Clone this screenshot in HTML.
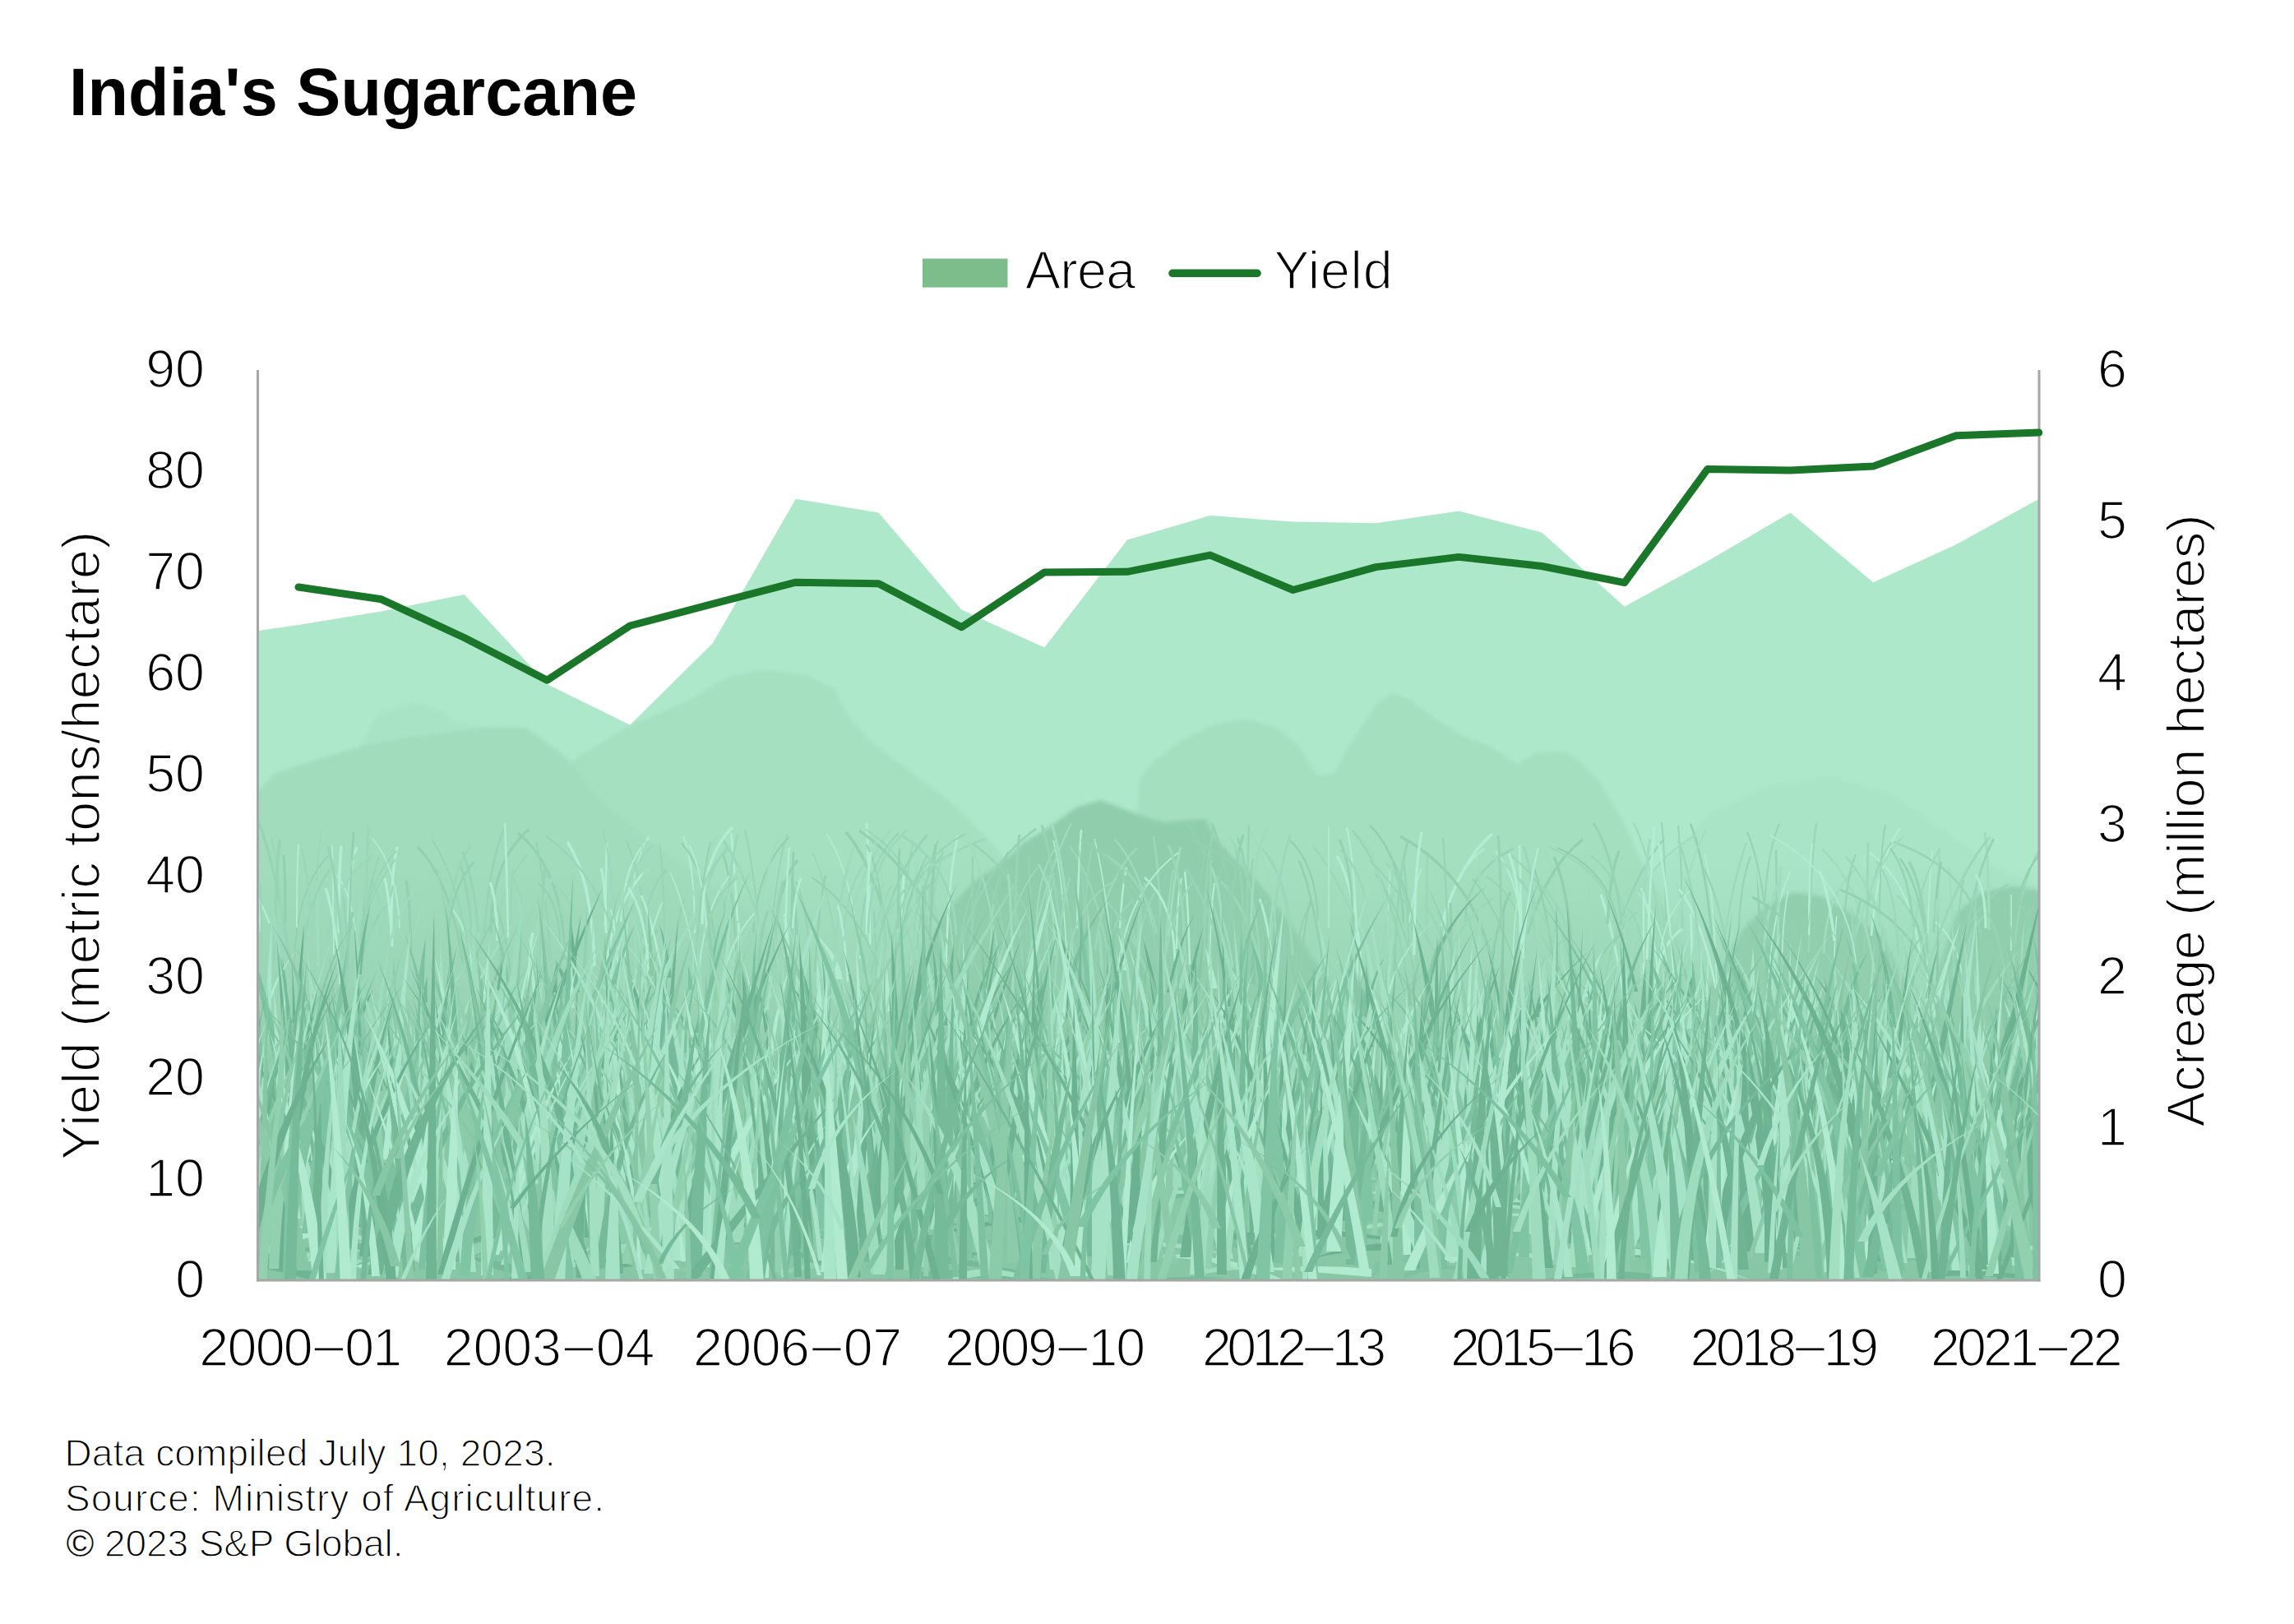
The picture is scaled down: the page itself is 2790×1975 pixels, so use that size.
<!DOCTYPE html>
<html lang="en"><head><meta charset="utf-8"><title>India's Sugarcane</title>
<style>html,body{margin:0;padding:0;background:#fff}body{width:2790px;height:1975px;overflow:hidden}svg{display:block}text{font-family:"Liberation Sans",sans-serif;fill:#000}.t{stroke:#fff;stroke-width:1.7px}.f{stroke:#fff;stroke-width:1.3px}</style></head><body>
<svg width="2790" height="1975" viewBox="0 0 2790 1975">
<defs><clipPath id="ac"><polygon points="314.0,1557.0 314.0,767.0 363.0,760.0 463.8,743.4 564.6,723.1 665.4,831.9 766.2,881.7 867.0,782.1 967.8,606.8 1068.6,623.4 1169.4,741.5 1270.2,787.6 1371.0,656.6 1471.8,627.1 1572.6,634.5 1673.4,636.3 1774.2,621.6 1875.0,647.4 1975.8,737.8 2076.6,682.5 2177.4,623.4 2278.2,708.3 2379.0,662.2 2479.8,606.8 2481.0,606.8 2481.0,1557.0"/></clipPath>
<linearGradient id="gg" x1="0" y1="0" x2="0" y2="1"><stop offset="0" stop-color="#94d1b1" stop-opacity="0"/><stop offset="0.28" stop-color="#92cfaf" stop-opacity="0.5"/><stop offset="0.55" stop-color="#8ccaa9" stop-opacity="0.9"/><stop offset="1" stop-color="#88c7a6" stop-opacity="1"/></linearGradient>
<filter id="b6" x="-5%" y="-5%" width="110%" height="110%"><feGaussianBlur stdDeviation="5"/></filter>
<filter id="b3" x="-5%" y="-5%" width="110%" height="110%"><feGaussianBlur stdDeviation="2.5"/></filter>
</defs>
<rect width="2790" height="1975" fill="#fff"/>
<g clip-path="url(#ac)">
<rect x="314" y="450" width="2168" height="1107" fill="#aee8cb"/>
<polygon points="1960.0,1200.0 1990.0,1085.0 2023.0,1052.0 2081.0,989.0 2154.0,955.0 2227.0,945.0 2300.0,965.0 2349.0,999.0 2422.0,1052.0 2490.0,1085.0 2490.0,1200.0 2490.0,1557.0 1960.0,1557.0" fill="#a9e4c6" filter="url(#b3)"/>
<polygon points="425.0,960.0 441.0,902.0 460.0,868.0 504.0,853.0 534.0,863.0 553.0,877.0 600.0,885.0 660.0,920.0 700.0,980.0 700.0,1557.0 425.0,1557.0" fill="#a8e3c5" filter="url(#b3)"/>
<polygon points="560.0,1010.0 640.0,958.0 700.0,922.0 740.0,898.0 767.0,882.0 835.0,853.0 884.0,824.0 928.0,814.0 981.0,821.0 1015.0,838.0 1030.0,868.0 1059.0,902.0 1100.0,933.0 1156.0,975.0 1205.0,1024.0 1260.0,1090.0 1330.0,1200.0 1330.0,1557.0 560.0,1557.0" fill="#a5e0c1" filter="url(#b3)"/>
<polygon points="1370.0,1100.0 1384.0,975.0 1386.0,947.0 1403.0,926.0 1435.0,902.0 1477.0,881.0 1515.0,874.0 1553.0,885.0 1581.0,909.0 1602.0,944.0 1623.0,940.0 1637.0,912.0 1658.0,881.0 1675.0,855.0 1693.0,843.0 1714.0,850.0 1745.0,874.0 1780.0,895.0 1815.0,909.0 1846.0,930.0 1867.0,916.0 1900.0,914.0 1916.0,921.0 1945.0,950.0 1974.0,999.0 1998.0,1052.0 2030.0,1110.0 2080.0,1200.0 2080.0,1557.0 1370.0,1557.0" fill="#a4dfc0" filter="url(#b3)"/>
<polygon points="300.0,975.0 314.0,963.0 334.0,941.0 378.0,926.0 441.0,907.0 495.0,897.0 592.0,885.0 640.0,885.0 689.0,921.0 723.0,965.0 748.0,989.0 800.0,1030.0 900.0,1100.0 1000.0,1200.0 1000.0,1557.0 300.0,1557.0" fill="#a1dcbd" filter="url(#b3)"/>
<polygon points="1100.0,1200.0 1150.0,1110.0 1184.0,1073.0 1215.0,1052.0 1246.0,1024.0 1274.0,1007.0 1309.0,982.0 1337.0,973.0 1358.0,980.0 1379.0,989.0 1414.0,1000.0 1466.0,996.0 1477.0,1017.0 1494.0,1038.0 1518.0,1059.0 1560.0,1110.0 1620.0,1200.0 1620.0,1557.0 1100.0,1557.0" fill="#8fcdac" filter="url(#b3)"/>
<polygon points="2080.0,1200.0 2120.0,1130.0 2150.0,1100.0 2180.0,1085.0 2215.0,1090.0 2250.0,1110.0 2290.0,1140.0 2320.0,1200.0 2320.0,1557.0 2080.0,1557.0" fill="#90ceae" filter="url(#b3)"/>
<polygon points="2350.0,1200.0 2380.0,1110.0 2410.0,1085.0 2450.0,1078.0 2490.0,1085.0 2490.0,1200.0 2490.0,1557.0 2350.0,1557.0" fill="#90ceae" filter="url(#b3)"/>
<rect x="314" y="1050" width="2168" height="507" fill="url(#gg)"/>
<path d="M1015 1135Q1003 1066 988 1037" fill="none" stroke="#9bd8b9" stroke-width="1.9"/>
<path d="M500 1162Q499 1098 494 1071" fill="none" stroke="#92d0b0" stroke-width="3.2"/>
<path d="M582 1142Q583 1043 635 1001" fill="none" stroke="#a0dcbd" stroke-width="1.9"/>
<path d="M1520 1133Q1519 1053 1505 1019" fill="none" stroke="#92d0b0" stroke-width="2.1"/>
<path d="M2082 1138Q2073 1043 2056 1002" fill="none" stroke="#92d0b0" stroke-width="2.6"/>
<path d="M1655 1170Q1648 1079 1626 1041" fill="none" stroke="#b3eed3" stroke-width="3.3"/>
<path d="M1097 1145Q1098 1086 1099 1061" fill="none" stroke="#b3eed3" stroke-width="3.3"/>
<path d="M1894 1149Q1893 1069 1880 1035" fill="none" stroke="#a0dcbd" stroke-width="2.2"/>
<path d="M2335 1162Q2325 1074 2274 1037" fill="none" stroke="#b3eed3" stroke-width="2.2"/>
<path d="M1390 1200Q1384 1151 1377 1131" fill="none" stroke="#9bd8b9" stroke-width="2.4"/>
<path d="M1753 1126Q1775 1048 1815 1014" fill="none" stroke="#b3eed3" stroke-width="3.3"/>
<path d="M1066 1214Q1065 1140 1063 1108" fill="none" stroke="#92d0b0" stroke-width="1.6"/>
<path d="M1978 1133Q1974 1068 1935 1041" fill="none" stroke="#9bd8b9" stroke-width="2.3"/>
<path d="M916 1134Q922 1053 960 1018" fill="none" stroke="#92d0b0" stroke-width="2.3"/>
<path d="M1091 1208Q1098 1079 1111 1024" fill="none" stroke="#97d4b5" stroke-width="1.5"/>
<path d="M2114 1138Q2117 1071 2129 1042" fill="none" stroke="#97d4b5" stroke-width="2.2"/>
<path d="M1541 1215Q1527 1110 1479 1066" fill="none" stroke="#9bd8b9" stroke-width="3.2"/>
<path d="M2376 1188Q2375 1095 2370 1055" fill="none" stroke="#a0dcbd" stroke-width="1.7"/>
<path d="M1688 1126Q1689 1078 1691 1057" fill="none" stroke="#b3eed3" stroke-width="1.7"/>
<path d="M1542 1174Q1554 1063 1569 1015" fill="none" stroke="#9bd8b9" stroke-width="2.7"/>
<path d="M636 1145Q630 1072 625 1040" fill="none" stroke="#a0dcbd" stroke-width="2.4"/>
<path d="M1362 1129Q1365 1077 1370 1055" fill="none" stroke="#b3eed3" stroke-width="2.5"/>
<path d="M1813 1172Q1824 1111 1837 1085" fill="none" stroke="#92d0b0" stroke-width="3.0"/>
<path d="M960 1184Q958 1134 954 1112" fill="none" stroke="#b3eed3" stroke-width="3.3"/>
<path d="M1084 1142Q1062 1051 1029 1012" fill="none" stroke="#92d0b0" stroke-width="3.5"/>
<path d="M2161 1201Q2161 1084 2160 1034" fill="none" stroke="#97d4b5" stroke-width="2.5"/>
<path d="M1897 1219Q1882 1105 1866 1056" fill="none" stroke="#92d0b0" stroke-width="2.4"/>
<path d="M2344 1219Q2344 1090 2350 1035" fill="none" stroke="#b3eed3" stroke-width="1.7"/>
<path d="M1332 1154Q1344 1068 1383 1031" fill="none" stroke="#9bd8b9" stroke-width="2.8"/>
<path d="M2046 1128Q2045 1041 2041 1004" fill="none" stroke="#97d4b5" stroke-width="1.9"/>
<path d="M2023 1153Q2010 1047 1987 1001" fill="none" stroke="#9bd8b9" stroke-width="1.8"/>
<path d="M589 1135Q596 1046 613 1008" fill="none" stroke="#97d4b5" stroke-width="2.7"/>
<path d="M1341 1214Q1340 1158 1337 1133" fill="none" stroke="#9bd8b9" stroke-width="3.4"/>
<path d="M1254 1207Q1254 1090 1251 1040" fill="none" stroke="#97d4b5" stroke-width="1.9"/>
<path d="M1400 1196Q1374 1125 1344 1094" fill="none" stroke="#9bd8b9" stroke-width="2.2"/>
<path d="M1306 1178Q1295 1054 1279 1001" fill="none" stroke="#a0dcbd" stroke-width="3.3"/>
<path d="M597 1135Q597 1047 643 1009" fill="none" stroke="#92d0b0" stroke-width="3.1"/>
<path d="M687 1167Q686 1059 630 1013" fill="none" stroke="#92d0b0" stroke-width="2.9"/>
<path d="M1464 1168Q1465 1056 1476 1007" fill="none" stroke="#97d4b5" stroke-width="3.0"/>
<path d="M1414 1176Q1411 1065 1403 1017" fill="none" stroke="#9bd8b9" stroke-width="2.7"/>
<path d="M1409 1171Q1396 1066 1356 1021" fill="none" stroke="#a0dcbd" stroke-width="2.0"/>
<path d="M1447 1208Q1456 1081 1467 1027" fill="none" stroke="#92d0b0" stroke-width="1.9"/>
<path d="M1283 1162Q1283 1084 1263 1051" fill="none" stroke="#a0dcbd" stroke-width="2.8"/>
<path d="M2012 1210Q2014 1154 2045 1130" fill="none" stroke="#b3eed3" stroke-width="3.3"/>
<path d="M2410 1142Q2401 1059 2303 1024" fill="none" stroke="#97d4b5" stroke-width="2.4"/>
<path d="M1431 1154Q1431 1094 1437 1068" fill="none" stroke="#b3eed3" stroke-width="2.2"/>
<path d="M1046 1166Q1036 1060 1005 1014" fill="none" stroke="#b3eed3" stroke-width="1.6"/>
<path d="M2448 1199Q2450 1068 2493 1013" fill="none" stroke="#9bd8b9" stroke-width="2.0"/>
<path d="M2276 1138Q2283 1046 2311 1007" fill="none" stroke="#b3eed3" stroke-width="2.6"/>
<path d="M1429 1169Q1428 1098 1392 1067" fill="none" stroke="#b3eed3" stroke-width="2.9"/>
<path d="M1235 1127Q1235 1048 1240 1015" fill="none" stroke="#97d4b5" stroke-width="3.2"/>
<path d="M1297 1154Q1292 1062 1281 1022" fill="none" stroke="#b3eed3" stroke-width="1.6"/>
<path d="M1851 1214Q1850 1084 1848 1028" fill="none" stroke="#b3eed3" stroke-width="2.6"/>
<path d="M760 1165Q765 1061 788 1017" fill="none" stroke="#b3eed3" stroke-width="1.5"/>
<path d="M856 1122Q857 1049 870 1018" fill="none" stroke="#a0dcbd" stroke-width="3.1"/>
<path d="M1250 1170Q1276 1052 1303 1001" fill="none" stroke="#a0dcbd" stroke-width="2.1"/>
<path d="M780 1143Q786 1083 811 1057" fill="none" stroke="#97d4b5" stroke-width="2.2"/>
<path d="M432 1133Q427 1085 409 1064" fill="none" stroke="#b3eed3" stroke-width="1.6"/>
<path d="M1755 1158Q1756 1070 1805 1032" fill="none" stroke="#b3eed3" stroke-width="1.9"/>
<path d="M897 1120Q893 1045 889 1013" fill="none" stroke="#b3eed3" stroke-width="2.6"/>
<path d="M843 1217Q843 1146 843 1116" fill="none" stroke="#a0dcbd" stroke-width="2.1"/>
<path d="M1735 1145Q1735 1069 1736 1036" fill="none" stroke="#9bd8b9" stroke-width="2.7"/>
<path d="M1167 1150Q1198 1051 1260 1008" fill="none" stroke="#97d4b5" stroke-width="2.9"/>
<path d="M2218 1159Q2221 1087 2257 1057" fill="none" stroke="#a0dcbd" stroke-width="2.9"/>
<path d="M1707 1124Q1704 1040 1666 1004" fill="none" stroke="#92d0b0" stroke-width="2.5"/>
<path d="M1406 1203Q1383 1088 1349 1039" fill="none" stroke="#92d0b0" stroke-width="2.9"/>
<path d="M2385 1184Q2390 1135 2414 1113" fill="none" stroke="#9bd8b9" stroke-width="2.4"/>
<path d="M424 1122Q424 1058 434 1030" fill="none" stroke="#b3eed3" stroke-width="3.1"/>
<path d="M1935 1170Q1934 1080 1927 1041" fill="none" stroke="#a0dcbd" stroke-width="1.6"/>
<path d="M889 1193Q887 1132 881 1106" fill="none" stroke="#a0dcbd" stroke-width="2.3"/>
<path d="M1352 1188Q1336 1077 1301 1029" fill="none" stroke="#9bd8b9" stroke-width="2.2"/>
<path d="M1725 1189Q1725 1091 1685 1049" fill="none" stroke="#97d4b5" stroke-width="1.6"/>
<path d="M896 1187Q894 1082 879 1037" fill="none" stroke="#92d0b0" stroke-width="2.4"/>
<path d="M1976 1219Q1961 1127 1947 1088" fill="none" stroke="#b3eed3" stroke-width="3.4"/>
<path d="M352 1166Q335 1051 315 1001" fill="none" stroke="#97d4b5" stroke-width="3.4"/>
<path d="M476 1129Q476 1059 483 1030" fill="none" stroke="#b3eed3" stroke-width="3.1"/>
<path d="M1416 1209Q1418 1103 1427 1057" fill="none" stroke="#a0dcbd" stroke-width="1.8"/>
<path d="M2372 1188Q2387 1109 2443 1075" fill="none" stroke="#97d4b5" stroke-width="2.3"/>
<path d="M576 1153Q570 1082 560 1051" fill="none" stroke="#97d4b5" stroke-width="3.3"/>
<path d="M942 1157Q943 1079 970 1046" fill="none" stroke="#92d0b0" stroke-width="3.4"/>
<path d="M1951 1205Q1956 1138 1991 1109" fill="none" stroke="#97d4b5" stroke-width="2.0"/>
<path d="M1421 1139Q1428 1063 1436 1030" fill="none" stroke="#a0dcbd" stroke-width="3.1"/>
<path d="M1681 1211Q1642 1084 1597 1029" fill="none" stroke="#9bd8b9" stroke-width="2.3"/>
<path d="M1646 1134Q1645 1055 1629 1021" fill="none" stroke="#92d0b0" stroke-width="2.4"/>
<path d="M1058 1150Q1057 1046 1054 1001" fill="none" stroke="#b3eed3" stroke-width="2.8"/>
<path d="M573 1184Q587 1135 604 1115" fill="none" stroke="#92d0b0" stroke-width="2.5"/>
<path d="M791 1211Q787 1078 761 1021" fill="none" stroke="#97d4b5" stroke-width="1.8"/>
<path d="M1518 1152Q1519 1076 1524 1044" fill="none" stroke="#92d0b0" stroke-width="1.5"/>
<path d="M2200 1158Q2202 1048 2209 1001" fill="none" stroke="#9bd8b9" stroke-width="2.6"/>
<path d="M1094 1189Q1095 1099 1124 1060" fill="none" stroke="#97d4b5" stroke-width="3.3"/>
<path d="M1147 1185Q1145 1103 1123 1068" fill="none" stroke="#9bd8b9" stroke-width="2.4"/>
<path d="M1968 1200Q1968 1070 2063 1015" fill="none" stroke="#a0dcbd" stroke-width="2.3"/>
<path d="M2322 1203Q2326 1083 2360 1031" fill="none" stroke="#9bd8b9" stroke-width="1.8"/>
<path d="M2419 1131Q2419 1048 2414 1012" fill="none" stroke="#a0dcbd" stroke-width="3.1"/>
<path d="M317 1133Q313 1067 301 1038" fill="none" stroke="#b3eed3" stroke-width="2.4"/>
<path d="M1968 1130Q1961 1061 1894 1031" fill="none" stroke="#92d0b0" stroke-width="2.0"/>
<path d="M2026 1120Q2025 1036 2021 1000" fill="none" stroke="#97d4b5" stroke-width="2.0"/>
<path d="M849 1216Q850 1110 888 1064" fill="none" stroke="#b3eed3" stroke-width="1.9"/>
<path d="M2231 1185Q2231 1135 2234 1114" fill="none" stroke="#b3eed3" stroke-width="1.6"/>
<path d="M1046 1162Q1046 1058 1093 1013" fill="none" stroke="#97d4b5" stroke-width="2.1"/>
<path d="M2145 1127Q2147 1040 2164 1002" fill="none" stroke="#97d4b5" stroke-width="1.9"/>
<path d="M1961 1149Q1989 1059 2024 1020" fill="none" stroke="#97d4b5" stroke-width="2.5"/>
<path d="M2286 1126Q2286 1040 2293 1003" fill="none" stroke="#92d0b0" stroke-width="1.6"/>
<path d="M444 1159Q446 1051 448 1005" fill="none" stroke="#9bd8b9" stroke-width="3.4"/>
<path d="M1027 1139Q1051 1049 1083 1010" fill="none" stroke="#a0dcbd" stroke-width="3.5"/>
<path d="M1272 1131Q1273 1082 1279 1061" fill="none" stroke="#9bd8b9" stroke-width="3.4"/>
<path d="M582 1216Q581 1156 552 1129" fill="none" stroke="#a0dcbd" stroke-width="2.9"/>
<path d="M738 1174Q747 1092 789 1056" fill="none" stroke="#b3eed3" stroke-width="3.3"/>
<path d="M380 1161Q384 1055 391 1009" fill="none" stroke="#9bd8b9" stroke-width="1.6"/>
<path d="M736 1126Q737 1056 738 1025" fill="none" stroke="#b3eed3" stroke-width="2.7"/>
<path d="M882 1192Q882 1121 881 1091" fill="none" stroke="#92d0b0" stroke-width="2.8"/>
<path d="M2357 1122Q2358 1059 2359 1032" fill="none" stroke="#a0dcbd" stroke-width="2.4"/>
<path d="M1996 1199Q1997 1074 2007 1020" fill="none" stroke="#a0dcbd" stroke-width="3.1"/>
<path d="M1914 1202Q1911 1090 1890 1042" fill="none" stroke="#92d0b0" stroke-width="3.2"/>
<path d="M1312 1198Q1307 1102 1271 1061" fill="none" stroke="#97d4b5" stroke-width="1.6"/>
<path d="M387 1175Q386 1104 385 1073" fill="none" stroke="#a0dcbd" stroke-width="3.5"/>
<path d="M888 1128Q885 1078 854 1056" fill="none" stroke="#a0dcbd" stroke-width="1.8"/>
<path d="M1312 1209Q1313 1146 1313 1119" fill="none" stroke="#92d0b0" stroke-width="2.8"/>
<path d="M576 1204Q574 1135 550 1106" fill="none" stroke="#b3eed3" stroke-width="2.0"/>
<path d="M845 1135Q845 1052 831 1017" fill="none" stroke="#b3eed3" stroke-width="2.0"/>
<path d="M847 1173Q849 1072 886 1028" fill="none" stroke="#9bd8b9" stroke-width="2.4"/>
<path d="M2088 1204Q2104 1079 2124 1025" fill="none" stroke="#9bd8b9" stroke-width="2.0"/>
<path d="M423 1180Q426 1063 430 1012" fill="none" stroke="#92d0b0" stroke-width="2.4"/>
<path d="M877 1198Q884 1070 897 1015" fill="none" stroke="#9bd8b9" stroke-width="2.9"/>
<path d="M1071 1124Q1110 1051 1199 1020" fill="none" stroke="#9bd8b9" stroke-width="2.8"/>
<path d="M755 1121Q758 1049 790 1019" fill="none" stroke="#b3eed3" stroke-width="2.1"/>
<path d="M755 1200Q760 1108 771 1068" fill="none" stroke="#a0dcbd" stroke-width="1.8"/>
<path d="M1471 1185Q1472 1107 1477 1074" fill="none" stroke="#b3eed3" stroke-width="2.1"/>
<path d="M980 1215Q980 1145 954 1115" fill="none" stroke="#a0dcbd" stroke-width="3.0"/>
<path d="M2052 1184Q2050 1107 2039 1074" fill="none" stroke="#a0dcbd" stroke-width="1.5"/>
<path d="M2267 1162Q2269 1065 2301 1024" fill="none" stroke="#97d4b5" stroke-width="1.6"/>
<path d="M623 1201Q615 1123 598 1089" fill="none" stroke="#92d0b0" stroke-width="2.2"/>
<path d="M1407 1135Q1394 1067 1341 1038" fill="none" stroke="#9bd8b9" stroke-width="3.0"/>
<path d="M2030 1200Q2025 1131 2021 1101" fill="none" stroke="#9bd8b9" stroke-width="2.5"/>
<path d="M430 1213Q442 1135 468 1102" fill="none" stroke="#97d4b5" stroke-width="3.2"/>
<path d="M1659 1181Q1657 1122 1639 1096" fill="none" stroke="#a0dcbd" stroke-width="1.9"/>
<path d="M1180 1172Q1180 1095 1198 1062" fill="none" stroke="#97d4b5" stroke-width="2.6"/>
<path d="M1955 1124Q1958 1062 1969 1035" fill="none" stroke="#92d0b0" stroke-width="3.2"/>
<path d="M1999 1185Q1999 1115 1999 1085" fill="none" stroke="#b3eed3" stroke-width="2.4"/>
<path d="M365 1182Q373 1095 401 1058" fill="none" stroke="#97d4b5" stroke-width="2.7"/>
<path d="M2088 1204Q2085 1088 2073 1038" fill="none" stroke="#b3eed3" stroke-width="1.7"/>
<path d="M1271 1171Q1271 1125 1276 1106" fill="none" stroke="#97d4b5" stroke-width="3.0"/>
<path d="M1998 1171Q1998 1124 1979 1104" fill="none" stroke="#97d4b5" stroke-width="1.6"/>
<path d="M1644 1189Q1644 1137 1644 1115" fill="none" stroke="#97d4b5" stroke-width="2.5"/>
<path d="M2386 1212Q2392 1155 2400 1130" fill="none" stroke="#9bd8b9" stroke-width="2.7"/>
<path d="M860 1152Q854 1055 766 1013" fill="none" stroke="#a0dcbd" stroke-width="2.5"/>
<path d="M2307 1141Q2304 1075 2282 1047" fill="none" stroke="#9bd8b9" stroke-width="2.3"/>
<path d="M1693 1148Q1693 1076 1692 1045" fill="none" stroke="#a0dcbd" stroke-width="3.1"/>
<path d="M563 1173Q549 1073 508 1030" fill="none" stroke="#92d0b0" stroke-width="2.9"/>
<path d="M2255 1145Q2277 1054 2316 1016" fill="none" stroke="#a0dcbd" stroke-width="2.2"/>
<path d="M1128 1157Q1127 1102 1123 1078" fill="none" stroke="#97d4b5" stroke-width="3.0"/>
<path d="M419 1202Q423 1137 429 1109" fill="none" stroke="#92d0b0" stroke-width="3.3"/>
<path d="M1902 1195Q1899 1133 1892 1106" fill="none" stroke="#a0dcbd" stroke-width="3.3"/>
<path d="M600 1143Q612 1070 642 1039" fill="none" stroke="#9bd8b9" stroke-width="2.1"/>
<path d="M1447 1173Q1445 1094 1441 1060" fill="none" stroke="#b3eed3" stroke-width="2.4"/>
<path d="M606 1214Q609 1149 620 1122" fill="none" stroke="#97d4b5" stroke-width="1.6"/>
<path d="M627 1187Q636 1120 656 1091" fill="none" stroke="#9bd8b9" stroke-width="2.6"/>
<path d="M1073 1185Q1041 1102 987 1067" fill="none" stroke="#92d0b0" stroke-width="2.0"/>
<path d="M2271 1124Q2271 1054 2272 1024" fill="none" stroke="#9bd8b9" stroke-width="2.6"/>
<path d="M2352 1134Q2355 1074 2361 1048" fill="none" stroke="#92d0b0" stroke-width="2.8"/>
<path d="M1213 1181Q1231 1093 1262 1055" fill="none" stroke="#a0dcbd" stroke-width="1.5"/>
<path d="M2143 1195Q2145 1110 2163 1074" fill="none" stroke="#a0dcbd" stroke-width="3.5"/>
<path d="M880 1184Q895 1131 921 1108" fill="none" stroke="#b3eed3" stroke-width="2.0"/>
<path d="M1514 1164Q1479 1050 1443 1001" fill="none" stroke="#92d0b0" stroke-width="2.1"/>
<path d="M2325 1209Q2320 1160 2312 1138" fill="none" stroke="#97d4b5" stroke-width="1.9"/>
<path d="M659 1211Q659 1152 658 1127" fill="none" stroke="#a0dcbd" stroke-width="2.0"/>
<path d="M2280 1183Q2265 1078 2216 1033" fill="none" stroke="#a0dcbd" stroke-width="2.6"/>
<path d="M328 1123Q302 1058 262 1031" fill="none" stroke="#b3eed3" stroke-width="2.3"/>
<path d="M1582 1177Q1587 1119 1594 1094" fill="none" stroke="#92d0b0" stroke-width="2.2"/>
<path d="M621 1123Q622 1077 623 1057" fill="none" stroke="#9bd8b9" stroke-width="3.0"/>
<path d="M456 1179Q467 1104 481 1072" fill="none" stroke="#9bd8b9" stroke-width="3.0"/>
<path d="M1855 1158Q1852 1094 1808 1066" fill="none" stroke="#97d4b5" stroke-width="1.6"/>
<path d="M2150 1201Q2157 1101 2178 1059" fill="none" stroke="#b3eed3" stroke-width="1.8"/>
<path d="M2029 1185Q2022 1116 1992 1086" fill="none" stroke="#b3eed3" stroke-width="1.5"/>
<path d="M870 1148Q860 1062 829 1025" fill="none" stroke="#92d0b0" stroke-width="2.1"/>
<path d="M1929 1199Q1946 1154 1974 1135" fill="none" stroke="#92d0b0" stroke-width="2.2"/>
<path d="M1840 1174Q1841 1112 1848 1086" fill="none" stroke="#b3eed3" stroke-width="1.5"/>
<path d="M752 1196Q748 1065 733 1009" fill="none" stroke="#9bd8b9" stroke-width="1.7"/>
<path d="M1820 1203Q1805 1073 1703 1017" fill="none" stroke="#92d0b0" stroke-width="3.4"/>
<path d="M929 1141Q905 1056 878 1020" fill="none" stroke="#9bd8b9" stroke-width="3.0"/>
<path d="M1376 1219Q1382 1126 1404 1086" fill="none" stroke="#9bd8b9" stroke-width="2.3"/>
<path d="M2243 1129Q2245 1066 2257 1039" fill="none" stroke="#97d4b5" stroke-width="2.4"/>
<path d="M1494 1137Q1501 1051 1512 1015" fill="none" stroke="#92d0b0" stroke-width="3.0"/>
<path d="M1714 1155Q1711 1083 1708 1052" fill="none" stroke="#97d4b5" stroke-width="2.4"/>
<path d="M1513 1152Q1513 1068 1503 1032" fill="none" stroke="#97d4b5" stroke-width="2.4"/>
<path d="M2231 1144Q2224 1084 2213 1059" fill="none" stroke="#b3eed3" stroke-width="3.2"/>
<path d="M1651 1192Q1650 1062 1638 1006" fill="none" stroke="#b3eed3" stroke-width="2.2"/>
<path d="M724 1218Q719 1109 662 1063" fill="none" stroke="#9bd8b9" stroke-width="2.8"/>
<path d="M737 1135Q737 1080 731 1056" fill="none" stroke="#b3eed3" stroke-width="2.8"/>
<path d="M545 1141Q546 1063 572 1030" fill="none" stroke="#9bd8b9" stroke-width="3.2"/>
<path d="M1260 1142Q1260 1062 1286 1028" fill="none" stroke="#a0dcbd" stroke-width="2.0"/>
<path d="M2161 1190Q2163 1095 2166 1054" fill="none" stroke="#a0dcbd" stroke-width="2.8"/>
<path d="M1727 1208Q1719 1107 1700 1064" fill="none" stroke="#97d4b5" stroke-width="2.4"/>
<path d="M992 1183Q991 1132 984 1110" fill="none" stroke="#a0dcbd" stroke-width="2.3"/>
<path d="M1858 1136Q1880 1055 1925 1021" fill="none" stroke="#92d0b0" stroke-width="3.4"/>
<path d="M711 1185Q715 1073 722 1024" fill="none" stroke="#a0dcbd" stroke-width="3.3"/>
<path d="M544 1145Q541 1083 531 1057" fill="none" stroke="#97d4b5" stroke-width="1.7"/>
<path d="M1558 1174Q1558 1067 1448 1021" fill="none" stroke="#92d0b0" stroke-width="3.1"/>
<path d="M1115 1154Q1125 1061 1141 1022" fill="none" stroke="#92d0b0" stroke-width="1.7"/>
<path d="M2446 1156Q2446 1108 2446 1088" fill="none" stroke="#b3eed3" stroke-width="1.6"/>
<path d="M477 1212Q474 1112 451 1070" fill="none" stroke="#9bd8b9" stroke-width="3.0"/>
<path d="M2350 1173Q2343 1111 2319 1084" fill="none" stroke="#a0dcbd" stroke-width="1.8"/>
<path d="M2327 1127Q2322 1061 2299 1032" fill="none" stroke="#97d4b5" stroke-width="2.8"/>
<path d="M2087 1202Q2070 1117 2042 1081" fill="none" stroke="#b3eed3" stroke-width="2.8"/>
<path d="M2003 1167Q2008 1054 2012 1005" fill="none" stroke="#b3eed3" stroke-width="2.9"/>
<path d="M1357 1201Q1366 1086 1433 1037" fill="none" stroke="#b3eed3" stroke-width="2.1"/>
<path d="M1353 1163Q1343 1063 1331 1020" fill="none" stroke="#b3eed3" stroke-width="1.6"/>
<path d="M2107 1211Q2097 1097 2068 1049" fill="none" stroke="#97d4b5" stroke-width="2.2"/>
<path d="M1576 1186Q1577 1125 1595 1098" fill="none" stroke="#92d0b0" stroke-width="1.8"/>
<path d="M820 1198Q821 1124 832 1093" fill="none" stroke="#97d4b5" stroke-width="2.3"/>
<path d="M1472 1181Q1479 1076 1491 1032" fill="none" stroke="#92d0b0" stroke-width="3.2"/>
<path d="M742 1189Q741 1099 739 1060" fill="none" stroke="#a0dcbd" stroke-width="1.7"/>
<path d="M571 1162Q555 1063 525 1021" fill="none" stroke="#97d4b5" stroke-width="2.0"/>
<path d="M671 1180Q663 1071 652 1024" fill="none" stroke="#97d4b5" stroke-width="2.4"/>
<path d="M1533 1187Q1529 1068 1495 1017" fill="none" stroke="#9bd8b9" stroke-width="2.2"/>
<path d="M1714 1122Q1720 1076 1729 1056" fill="none" stroke="#b3eed3" stroke-width="1.7"/>
<path d="M1363 1196Q1364 1141 1368 1117" fill="none" stroke="#97d4b5" stroke-width="3.2"/>
<path d="M1107 1167Q1113 1078 1146 1039" fill="none" stroke="#97d4b5" stroke-width="2.2"/>
<path d="M859 1125Q854 1057 838 1028" fill="none" stroke="#b3eed3" stroke-width="2.0"/>
<path d="M1411 1217Q1418 1116 1451 1072" fill="none" stroke="#9bd8b9" stroke-width="2.1"/>
<path d="M962 1179Q963 1079 965 1036" fill="none" stroke="#92d0b0" stroke-width="2.6"/>
<path d="M422 1150Q420 1107 417 1089" fill="none" stroke="#97d4b5" stroke-width="2.5"/>
<path d="M1973 1126Q1962 1038 1938 1001" fill="none" stroke="#97d4b5" stroke-width="2.9"/>
<path d="M1606 1188Q1603 1127 1599 1100" fill="none" stroke="#a0dcbd" stroke-width="1.8"/>
<path d="M1751 1207Q1763 1127 1816 1092" fill="none" stroke="#9bd8b9" stroke-width="3.1"/>
<path d="M2018 1176Q2021 1111 2056 1083" fill="none" stroke="#b3eed3" stroke-width="1.6"/>
<path d="M358 1177Q359 1082 399 1041" fill="none" stroke="#92d0b0" stroke-width="1.7"/>
<path d="M2069 1178Q2060 1069 2041 1022" fill="none" stroke="#9bd8b9" stroke-width="2.7"/>
<path d="M2465 1186Q2466 1130 2469 1106" fill="none" stroke="#9bd8b9" stroke-width="1.9"/>
<path d="M643 1122Q631 1079 620 1061" fill="none" stroke="#9bd8b9" stroke-width="3.2"/>
<path d="M787 1132Q784 1047 779 1011" fill="none" stroke="#a0dcbd" stroke-width="1.9"/>
<path d="M423 1197Q444 1090 481 1045" fill="none" stroke="#97d4b5" stroke-width="1.7"/>
<path d="M1676 1191Q1685 1107 1701 1071" fill="none" stroke="#9bd8b9" stroke-width="1.5"/>
<path d="M346 1185Q343 1069 330 1019" fill="none" stroke="#9bd8b9" stroke-width="2.1"/>
<path d="M1614 1216Q1601 1098 1580 1047" fill="none" stroke="#92d0b0" stroke-width="2.4"/>
<path d="M675 1217Q671 1164 662 1141" fill="none" stroke="#97d4b5" stroke-width="2.3"/>
<path d="M1150 1199Q1152 1071 1165 1016" fill="none" stroke="#b3eed3" stroke-width="2.7"/>
<path d="M1724 1200Q1705 1104 1672 1062" fill="none" stroke="#92d0b0" stroke-width="1.5"/>
<path d="M641 1203Q652 1108 672 1067" fill="none" stroke="#a0dcbd" stroke-width="2.7"/>
<path d="M2255 1201Q2254 1133 2252 1104" fill="none" stroke="#9bd8b9" stroke-width="2.0"/>
<path d="M655 1212Q658 1101 663 1053" fill="none" stroke="#97d4b5" stroke-width="3.2"/>
<path d="M1553 1147Q1547 1050 1519 1008" fill="none" stroke="#a0dcbd" stroke-width="1.7"/>
<path d="M1513 1200Q1513 1139 1513 1114" fill="none" stroke="#97d4b5" stroke-width="1.6"/>
<path d="M1171 1191Q1124 1065 1045 1010" fill="none" stroke="#92d0b0" stroke-width="3.1"/>
<path d="M1310 1129Q1312 1045 1315 1009" fill="none" stroke="#b3eed3" stroke-width="2.5"/>
<path d="M1346 1179Q1348 1120 1379 1094" fill="none" stroke="#97d4b5" stroke-width="3.1"/>
<path d="M942 1178Q942 1103 953 1071" fill="none" stroke="#97d4b5" stroke-width="3.5"/>
<path d="M1124 1131Q1113 1045 1053 1009" fill="none" stroke="#97d4b5" stroke-width="1.6"/>
<path d="M922 1181Q925 1130 934 1108" fill="none" stroke="#92d0b0" stroke-width="2.6"/>
<path d="M881 1198Q906 1117 948 1083" fill="none" stroke="#a0dcbd" stroke-width="3.1"/>
<path d="M2401 1145Q2401 1100 2405 1080" fill="none" stroke="#9bd8b9" stroke-width="1.6"/>
<path d="M1115 1191Q1124 1104 1137 1067" fill="none" stroke="#9bd8b9" stroke-width="2.8"/>
<path d="M2311 1191Q2308 1140 2305 1119" fill="none" stroke="#9bd8b9" stroke-width="2.8"/>
<path d="M1165 1165Q1173 1108 1182 1084" fill="none" stroke="#97d4b5" stroke-width="1.9"/>
<path d="M398 1146Q405 1072 454 1040" fill="none" stroke="#9bd8b9" stroke-width="2.5"/>
<path d="M1916 1196Q1913 1110 1870 1073" fill="none" stroke="#9bd8b9" stroke-width="3.0"/>
<path d="M2349 1188Q2339 1118 2307 1089" fill="none" stroke="#9bd8b9" stroke-width="2.2"/>
<path d="M1159 1157Q1155 1081 1129 1048" fill="none" stroke="#a0dcbd" stroke-width="1.8"/>
<path d="M1782 1121Q1784 1059 1841 1032" fill="none" stroke="#97d4b5" stroke-width="2.7"/>
<path d="M1122 1195Q1134 1082 1147 1034" fill="none" stroke="#9bd8b9" stroke-width="2.3"/>
<path d="M361 1128Q361 1057 363 1027" fill="none" stroke="#b3eed3" stroke-width="1.9"/>
<path d="M437 1191Q441 1099 456 1059" fill="none" stroke="#97d4b5" stroke-width="1.8"/>
<path d="M1220 1145Q1218 1100 1206 1081" fill="none" stroke="#97d4b5" stroke-width="1.7"/>
<path d="M1302 1168Q1302 1112 1293 1088" fill="none" stroke="#92d0b0" stroke-width="3.3"/>
<path d="M1761 1141Q1758 1056 1755 1019" fill="none" stroke="#97d4b5" stroke-width="2.4"/>
<path d="M880 1144Q883 1080 901 1053" fill="none" stroke="#a0dcbd" stroke-width="3.3"/>
<path d="M439 1193Q439 1124 444 1094" fill="none" stroke="#92d0b0" stroke-width="1.8"/>
<path d="M318 1203Q318 1113 317 1075" fill="none" stroke="#97d4b5" stroke-width="1.6"/>
<path d="M1200 1148Q1206 1089 1217 1064" fill="none" stroke="#97d4b5" stroke-width="1.9"/>
<path d="M486 1129Q483 1053 453 1020" fill="none" stroke="#b3eed3" stroke-width="1.8"/>
<path d="M1765 1183Q1765 1123 1764 1098" fill="none" stroke="#92d0b0" stroke-width="2.9"/>
<path d="M434 1201Q434 1129 438 1097" fill="none" stroke="#a0dcbd" stroke-width="2.3"/>
<path d="M1967 1133Q1960 1061 1883 1030" fill="none" stroke="#9bd8b9" stroke-width="2.2"/>
<path d="M1603 1120Q1601 1052 1569 1022" fill="none" stroke="#92d0b0" stroke-width="2.2"/>
<path d="M844 1203Q851 1078 864 1024" fill="none" stroke="#92d0b0" stroke-width="1.6"/>
<path d="M2204 1215Q2204 1128 2131 1091" fill="none" stroke="#92d0b0" stroke-width="3.1"/>
<path d="M605 1144Q604 1094 596 1073" fill="none" stroke="#b3eed3" stroke-width="3.1"/>
<path d="M379 1130Q374 1061 367 1032" fill="none" stroke="#9bd8b9" stroke-width="2.8"/>
<path d="M1319 1144Q1319 1061 1310 1026" fill="none" stroke="#97d4b5" stroke-width="1.7"/>
<path d="M1383 1170Q1384 1103 1393 1074" fill="none" stroke="#9bd8b9" stroke-width="3.3"/>
<path d="M1487 1143Q1486 1080 1472 1053" fill="none" stroke="#a0dcbd" stroke-width="3.2"/>
<path d="M2345 1159Q2336 1079 2311 1044" fill="none" stroke="#92d0b0" stroke-width="2.3"/>
<path d="M2353 1198Q2354 1125 2355 1094" fill="none" stroke="#a0dcbd" stroke-width="2.6"/>
<path d="M2449 1152Q2450 1074 2480 1040" fill="none" stroke="#92d0b0" stroke-width="2.5"/>
<path d="M2389 1213Q2387 1149 2354 1121" fill="none" stroke="#b3eed3" stroke-width="1.9"/>
<path d="M1017 1140Q1027 1064 1038 1031" fill="none" stroke="#a0dcbd" stroke-width="3.1"/>
<path d="M2343 1183Q2377 1068 2420 1018" fill="none" stroke="#9bd8b9" stroke-width="2.7"/>
<path d="M2302 1182Q2284 1083 2244 1041" fill="none" stroke="#9bd8b9" stroke-width="2.0"/>
<path d="M1441 1163Q1440 1069 1421 1028" fill="none" stroke="#9bd8b9" stroke-width="3.4"/>
<path d="M2309 1210Q2317 1160 2338 1139" fill="none" stroke="#92d0b0" stroke-width="1.8"/>
<path d="M582 1133Q575 1064 562 1035" fill="none" stroke="#97d4b5" stroke-width="3.0"/>
<path d="M936 1165Q943 1060 957 1015" fill="none" stroke="#97d4b5" stroke-width="1.9"/>
<path d="M1853 1166Q1852 1074 1819 1035" fill="none" stroke="#b3eed3" stroke-width="2.2"/>
<path d="M723 1175Q720 1069 690 1024" fill="none" stroke="#b3eed3" stroke-width="3.4"/>
<path d="M1016 1153Q1021 1086 1030 1057" fill="none" stroke="#9bd8b9" stroke-width="1.8"/>
<path d="M459 1207Q454 1125 442 1090" fill="none" stroke="#9bd8b9" stroke-width="3.2"/>
<path d="M1081 1196Q1093 1107 1139 1069" fill="none" stroke="#97d4b5" stroke-width="2.8"/>
<path d="M618 1140Q616 1043 614 1001" fill="none" stroke="#b3eed3" stroke-width="2.5"/>
<path d="M1914 1194Q1897 1083 1832 1036" fill="none" stroke="#97d4b5" stroke-width="1.7"/>
<path d="M1203 1175Q1206 1122 1209 1100" fill="none" stroke="#a0dcbd" stroke-width="2.6"/>
<path d="M1219 1198Q1205 1077 1179 1025" fill="none" stroke="#a0dcbd" stroke-width="2.1"/>
<path d="M1078 1155Q1073 1065 1054 1027" fill="none" stroke="#92d0b0" stroke-width="2.1"/>
<path d="M2019 1205Q2010 1117 1996 1080" fill="none" stroke="#b3eed3" stroke-width="2.4"/>
<path d="M1131 1143Q1134 1062 1138 1027" fill="none" stroke="#92d0b0" stroke-width="3.4"/>
<path d="M757 1163Q763 1076 802 1040" fill="none" stroke="#a0dcbd" stroke-width="2.6"/>
<path d="M991 1182Q996 1100 1004 1065" fill="none" stroke="#92d0b0" stroke-width="2.4"/>
<path d="M1320 1124Q1320 1053 1331 1022" fill="none" stroke="#97d4b5" stroke-width="2.2"/>
<path d="M1182 1176Q1183 1082 1183 1042" fill="none" stroke="#97d4b5" stroke-width="2.5"/>
<path d="M1267 1182Q1252 1073 1183 1026" fill="none" stroke="#97d4b5" stroke-width="2.2"/>
<path d="M477 1151Q474 1093 468 1068" fill="none" stroke="#b3eed3" stroke-width="3.1"/>
<path d="M2459 1209Q2461 1129 2475 1094" fill="none" stroke="#92d0b0" stroke-width="3.3"/>
<path d="M1207 1126Q1216 1063 1226 1036" fill="none" stroke="#92d0b0" stroke-width="2.8"/>
<path d="M406 1161Q405 1068 404 1028" fill="none" stroke="#b3eed3" stroke-width="1.7"/>
<path d="M347 1123Q347 1065 345 1040" fill="none" stroke="#92d0b0" stroke-width="3.2"/>
<path d="M2254 1171Q2255 1116 2264 1093" fill="none" stroke="#97d4b5" stroke-width="3.0"/>
<path d="M545 1130Q553 1072 577 1048" fill="none" stroke="#92d0b0" stroke-width="2.4"/>
<path d="M1247 1200Q1239 1099 1224 1056" fill="none" stroke="#97d4b5" stroke-width="2.2"/>
<path d="M681 1147Q680 1096 655 1074" fill="none" stroke="#92d0b0" stroke-width="1.9"/>
<path d="M1666 1122Q1658 1060 1630 1033" fill="none" stroke="#9bd8b9" stroke-width="2.7"/>
<path d="M854 1124Q854 1041 891 1006" fill="none" stroke="#b3eed3" stroke-width="3.2"/>
<path d="M1300 1162Q1308 1097 1359 1069" fill="none" stroke="#9bd8b9" stroke-width="2.3"/>
<path d="M1870 1142Q1870 1072 1815 1042" fill="none" stroke="#a0dcbd" stroke-width="3.2"/>
<path d="M503 1137Q522 1061 571 1028" fill="none" stroke="#a0dcbd" stroke-width="1.7"/>
<path d="M1470 1159Q1472 1080 1473 1046" fill="none" stroke="#9bd8b9" stroke-width="2.3"/>
<path d="M2292 1175Q2291 1098 2262 1065" fill="none" stroke="#a0dcbd" stroke-width="2.8"/>
<path d="M1054 1136Q1055 1066 1059 1036" fill="none" stroke="#b3eed3" stroke-width="3.1"/>
<path d="M1516 1167Q1517 1052 1519 1003" fill="none" stroke="#97d4b5" stroke-width="2.3"/>
<path d="M2390 1141Q2405 1056 2425 1020" fill="none" stroke="#97d4b5" stroke-width="2.9"/>
<path d="M2355 1220Q2340 1124 2238 1082" fill="none" stroke="#92d0b0" stroke-width="2.7"/>
<path d="M774 1207Q776 1154 800 1131" fill="none" stroke="#92d0b0" stroke-width="3.2"/>
<path d="M1908 1196Q1908 1152 1906 1133" fill="none" stroke="#9bd8b9" stroke-width="1.7"/>
<path d="M697 1205Q697 1134 681 1103" fill="none" stroke="#9bd8b9" stroke-width="3.3"/>
<path d="M2058 1196Q2058 1136 2056 1111" fill="none" stroke="#b3eed3" stroke-width="2.9"/>
<path d="M926 1160Q917 1054 906 1009" fill="none" stroke="#97d4b5" stroke-width="1.9"/>
<path d="M1108 1200Q1109 1095 1116 1050" fill="none" stroke="#a0dcbd" stroke-width="3.2"/>
<path d="M1077 1183Q1076 1124 1073 1099" fill="none" stroke="#9bd8b9" stroke-width="2.7"/>
<path d="M789 1188Q787 1109 761 1075" fill="none" stroke="#b3eed3" stroke-width="3.0"/>
<path d="M1510 1183Q1495 1055 1474 1001" fill="none" stroke="#92d0b0" stroke-width="2.6"/>
<path d="M1866 1145Q1866 1064 1853 1029" fill="none" stroke="#9bd8b9" stroke-width="3.0"/>
<path d="M1734 1210Q1720 1088 1689 1036" fill="none" stroke="#92d0b0" stroke-width="1.6"/>
<path d="M843 1131Q852 1061 886 1032" fill="none" stroke="#9bd8b9" stroke-width="3.0"/>
<path d="M2476 1182Q2475 1119 2453 1093" fill="none" stroke="#92d0b0" stroke-width="3.4"/>
<path d="M1232 1213Q1231 1108 1226 1063" fill="none" stroke="#a0dcbd" stroke-width="2.9"/>
<path d="M760 1187Q737 1068 664 1017" fill="none" stroke="#97d4b5" stroke-width="1.9"/>
<path d="M2377 1203Q2380 1110 2388 1070" fill="none" stroke="#97d4b5" stroke-width="2.0"/>
<path d="M443 1156Q448 1076 461 1042" fill="none" stroke="#97d4b5" stroke-width="1.8"/>
<path d="M1800 1169Q1800 1083 1799 1046" fill="none" stroke="#a0dcbd" stroke-width="2.8"/>
<path d="M1826 1133Q1825 1052 1822 1016" fill="none" stroke="#97d4b5" stroke-width="3.1"/>
<path d="M1502 1196Q1495 1139 1485 1114" fill="none" stroke="#a0dcbd" stroke-width="2.3"/>
<path d="M761 1189Q759 1146 739 1127" fill="none" stroke="#a0dcbd" stroke-width="1.6"/>
<path d="M922 1140Q929 1057 946 1022" fill="none" stroke="#a0dcbd" stroke-width="2.1"/>
<path d="M1522 1125Q1522 1040 1543 1004" fill="none" stroke="#a0dcbd" stroke-width="2.9"/>
<path d="M2437 1176Q2428 1124 2413 1102" fill="none" stroke="#97d4b5" stroke-width="2.1"/>
<path d="M1092 1129Q1093 1061 1094 1032" fill="none" stroke="#92d0b0" stroke-width="2.8"/>
<path d="M859 1145Q864 1090 898 1067" fill="none" stroke="#97d4b5" stroke-width="1.9"/>
<path d="M1696 1205Q1697 1078 1712 1024" fill="none" stroke="#97d4b5" stroke-width="2.9"/>
<path d="M986 1182Q983 1105 968 1072" fill="none" stroke="#97d4b5" stroke-width="2.6"/>
<path d="M1114 1203Q1113 1139 1093 1112" fill="none" stroke="#9bd8b9" stroke-width="3.1"/>
<path d="M2309 1220Q2315 1141 2331 1108" fill="none" stroke="#a0dcbd" stroke-width="1.8"/>
<path d="M963 1178Q963 1129 967 1108" fill="none" stroke="#97d4b5" stroke-width="2.4"/>
<path d="M2415 1129Q2415 1083 2403 1064" fill="none" stroke="#b3eed3" stroke-width="3.2"/>
<path d="M2167 1199Q2167 1118 2175 1083" fill="none" stroke="#b3eed3" stroke-width="1.6"/>
<path d="M1854 1209Q1877 1161 1905 1141" fill="none" stroke="#97d4b5" stroke-width="1.8"/>
<path d="M955 1164Q956 1071 960 1031" fill="none" stroke="#b3eed3" stroke-width="2.4"/>
<path d="M1490 1172Q1466 1091 1442 1056" fill="none" stroke="#97d4b5" stroke-width="3.4"/>
<path d="M1657 1201Q1655 1154 1650 1133" fill="none" stroke="#b3eed3" stroke-width="2.1"/>
<path d="M1551 1215Q1546 1130 1532 1093" fill="none" stroke="#b3eed3" stroke-width="2.8"/>
<path d="M2151 1142Q2142 1051 2125 1012" fill="none" stroke="#97d4b5" stroke-width="2.2"/>
<path d="M1572 1162Q1568 1071 1536 1033" fill="none" stroke="#9bd8b9" stroke-width="3.4"/>
<path d="M753 1195Q750 1133 743 1106" fill="none" stroke="#b3eed3" stroke-width="1.9"/>
<path d="M1766 1191Q1754 1128 1733 1101" fill="none" stroke="#9bd8b9" stroke-width="3.3"/>
<path d="M1542 1205Q1543 1101 1556 1057" fill="none" stroke="#a0dcbd" stroke-width="2.5"/>
<path d="M1413 1204Q1408 1076 1315 1021" fill="none" stroke="#92d0b0" stroke-width="3.2"/>
<path d="M1163 1137Q1159 1053 1098 1017" fill="none" stroke="#9bd8b9" stroke-width="3.1"/>
<path d="M439 1144Q449 1068 482 1035" fill="none" stroke="#97d4b5" stroke-width="1.7"/>
<path d="M608 1211Q608 1161 610 1139" fill="none" stroke="#97d4b5" stroke-width="3.3"/>
<path d="M2200 1137Q2200 1059 2204 1026" fill="none" stroke="#b3eed3" stroke-width="2.2"/>
<path d="M1911 1215Q1883 1107 1841 1061" fill="none" stroke="#9bd8b9" stroke-width="2.2"/>
<path d="M1085 1153Q1096 1056 1174 1014" fill="none" stroke="#97d4b5" stroke-width="1.9"/>
<path d="M1282 1204Q1289 1109 1301 1068" fill="none" stroke="#9bd8b9" stroke-width="2.5"/>
<path d="M474 1146Q492 1090 518 1066" fill="none" stroke="#a0dcbd" stroke-width="2.7"/>
<path d="M856 1220Q837 1108 815 1061" fill="none" stroke="#b3eed3" stroke-width="1.5"/>
<path d="M1056 1135Q1057 1047 1103 1010" fill="none" stroke="#9bd8b9" stroke-width="2.7"/>
<path d="M1710 1180Q1688 1061 1645 1010" fill="none" stroke="#97d4b5" stroke-width="2.4"/>
<path d="M810 1216Q797 1127 780 1089" fill="none" stroke="#b3eed3" stroke-width="2.7"/>
<path d="M409 1137Q414 1062 439 1030" fill="none" stroke="#a0dcbd" stroke-width="2.4"/>
<path d="M2344 1151Q2339 1079 2322 1048" fill="none" stroke="#97d4b5" stroke-width="3.5"/>
<path d="M412 1135Q412 1061 415 1029" fill="none" stroke="#b3eed3" stroke-width="3.5"/>
<path d="M1087 1177Q1105 1082 1127 1041" fill="none" stroke="#92d0b0" stroke-width="1.7"/>
<path d="M746 1163Q754 1069 793 1028" fill="none" stroke="#9bd8b9" stroke-width="2.1"/>
<path d="M2037 1207Q2029 1080 2017 1025" fill="none" stroke="#b3eed3" stroke-width="2.5"/>
<path d="M1690 1155Q1685 1063 1659 1023" fill="none" stroke="#a0dcbd" stroke-width="2.9"/>
<path d="M1769 1208Q1718 1095 1666 1047" fill="none" stroke="#97d4b5" stroke-width="1.8"/>
<path d="M759 1209Q758 1106 757 1062" fill="none" stroke="#a0dcbd" stroke-width="2.6"/>
<path d="M969 1137Q967 1089 963 1068" fill="none" stroke="#92d0b0" stroke-width="3.4"/>
<path d="M1051 1212Q1061 1117 1085 1076" fill="none" stroke="#9bd8b9" stroke-width="2.1"/>
<path d="M1080 1167Q1077 1059 1061 1012" fill="none" stroke="#a0dcbd" stroke-width="1.9"/>
<path d="M2258 1175Q2246 1064 2153 1016" fill="none" stroke="#b3eed3" stroke-width="1.5"/>
<path d="M417 1165Q410 1070 399 1029" fill="none" stroke="#97d4b5" stroke-width="3.4"/>
<path d="M1616 1128Q1616 1042 1616 1005" fill="none" stroke="#b3eed3" stroke-width="1.5"/>
<path d="M900 1184Q900 1141 898 1122" fill="none" stroke="#b3eed3" stroke-width="3.0"/>
<path d="M1720 1161Q1720 1057 1729 1012" fill="none" stroke="#b3eed3" stroke-width="3.2"/>
<path d="M2039 1129Q2055 1045 2075 1009" fill="none" stroke="#a0dcbd" stroke-width="1.6"/>
<path d="M1000 1185Q1000 1115 998 1085" fill="none" stroke="#a0dcbd" stroke-width="2.9"/>
<path d="M1027 1129Q1032 1073 1053 1049" fill="none" stroke="#9bd8b9" stroke-width="2.2"/>
<path d="M1059 1188Q1082 1067 1128 1015" fill="none" stroke="#97d4b5" stroke-width="2.7"/>
<path d="M1031 1194Q1027 1129 1019 1101" fill="none" stroke="#b3eed3" stroke-width="2.6"/>
<path d="M1844 1176Q1819 1101 1791 1069" fill="none" stroke="#92d0b0" stroke-width="1.8"/>
<path d="M334 1168Q335 1066 340 1022" fill="none" stroke="#97d4b5" stroke-width="3.5"/>
<path d="M2343 1182Q2338 1129 2322 1107" fill="none" stroke="#92d0b0" stroke-width="2.6"/>
<path d="M708 1214Q711 1139 720 1106" fill="none" stroke="#97d4b5" stroke-width="2.2"/>
<path d="M1851 1164Q1860 1071 1871 1031" fill="none" stroke="#b3eed3" stroke-width="2.3"/>
<path d="M773 1199Q773 1155 772 1136" fill="none" stroke="#a0dcbd" stroke-width="2.2"/>
<path d="M808 1158Q808 1065 802 1025" fill="none" stroke="#97d4b5" stroke-width="1.5"/>
<path d="M1850 1144Q1848 1070 1835 1038" fill="none" stroke="#b3eed3" stroke-width="3.5"/>
<path d="M783 1177Q794 1121 806 1097" fill="none" stroke="#b3eed3" stroke-width="1.8"/>
<path d="M964 1129Q967 1086 974 1068" fill="none" stroke="#b3eed3" stroke-width="2.7"/>
<path d="M1295 1178Q1283 1056 1267 1003" fill="none" stroke="#97d4b5" stroke-width="3.0"/>
<path d="M414 1197Q408 1115 396 1080" fill="none" stroke="#b3eed3" stroke-width="3.1"/>
<path d="M643 1211Q643 1157 648 1134" fill="none" stroke="#b3eed3" stroke-width="3.0"/>
<path d="M453 1413Q559 1362 664 1389Q559 1374 453 1425Z" fill="#76bb99"/>
<path d="M308 1426Q426 1404 544 1409Q426 1413 308 1435Z" fill="#92d1b0"/>
<path d="M1525 1504Q1432 1424 1340 1433Q1432 1436 1525 1516Z" fill="#8ccbaa"/>
<path d="M1414 1386Q1475 1353 1537 1376Q1475 1361 1414 1394Z" fill="#87c7a6"/>
<path d="M486 1446Q399 1391 312 1425Q399 1401 486 1456Z" fill="#7cc1a0"/>
<path d="M847 1418Q781 1417 715 1431Q781 1421 847 1423Z" fill="#92d1b0"/>
<path d="M2007 1549Q1941 1541 1874 1557Q1941 1550 2007 1558Z" fill="#76bb99"/>
<path d="M2440 1537Q2329 1517 2218 1530Q2329 1524 2440 1544Z" fill="#80c5a3"/>
<path d="M574 1515Q699 1476 824 1488Q699 1487 574 1527Z" fill="#92d1b0"/>
<path d="M806 1493Q742 1487 678 1548Q742 1491 806 1497Z" fill="#b0ebcf"/>
<path d="M1628 1392Q1734 1379 1840 1438Q1734 1386 1628 1400Z" fill="#76bb99"/>
<path d="M1532 1465Q1429 1428 1327 1445Q1429 1440 1532 1477Z" fill="#87c7a6"/>
<path d="M761 1496Q653 1480 545 1544Q653 1485 761 1501Z" fill="#76bb99"/>
<path d="M2025 1499Q2150 1440 2276 1453Q2150 1451 2025 1510Z" fill="#8ccbaa"/>
<path d="M1015 1487Q1112 1463 1208 1479Q1112 1472 1015 1496Z" fill="#70b593"/>
<path d="M2061 1428Q2118 1414 2175 1431Q2118 1421 2061 1434Z" fill="#a3e0c2"/>
<path d="M1047 1534Q970 1524 894 1577Q970 1532 1047 1543Z" fill="#92d1b0"/>
<path d="M1251 1401Q1328 1356 1405 1381Q1328 1365 1251 1410Z" fill="#6cb190"/>
<path d="M1875 1416Q1785 1379 1694 1403Q1785 1387 1875 1424Z" fill="#70b593"/>
<path d="M2034 1430Q1939 1422 1843 1433Q1939 1428 2034 1437Z" fill="#76bb99"/>
<path d="M1457 1545Q1523 1530 1588 1550Q1523 1536 1457 1551Z" fill="#9edcbe"/>
<path d="M1184 1523Q1088 1483 991 1488Q1088 1490 1184 1530Z" fill="#6cb190"/>
<path d="M328 1514Q200 1507 73 1579Q200 1518 328 1525Z" fill="#a6e3c6"/>
<path d="M664 1552Q555 1509 445 1534Q555 1520 664 1563Z" fill="#76bb99"/>
<path d="M414 1462Q479 1439 544 1521Q479 1447 414 1471Z" fill="#b0ebcf"/>
<path d="M1273 1466Q1157 1399 1041 1417Q1157 1407 1273 1473Z" fill="#9edcbe"/>
<path d="M1337 1474Q1218 1473 1099 1512Q1218 1481 1337 1482Z" fill="#6cb190"/>
<path d="M1962 1520Q1915 1518 1868 1548Q1915 1523 1962 1525Z" fill="#a9e6c9"/>
<path d="M432 1515Q520 1453 608 1472Q520 1461 432 1524Z" fill="#a3e0c2"/>
<path d="M1914 1532Q1860 1520 1807 1525Q1860 1527 1914 1538Z" fill="#a6e3c6"/>
<path d="M661 1555Q606 1543 551 1583Q606 1552 661 1563Z" fill="#6cb190"/>
<path d="M1382 1457Q1337 1431 1292 1467Q1337 1442 1382 1468Z" fill="#80c5a3"/>
<path d="M811 1421Q768 1407 725 1440Q768 1414 811 1428Z" fill="#a6e3c6"/>
<path d="M2034 1422Q2166 1421 2297 1435Q2166 1425 2034 1426Z" fill="#76bb99"/>
<path d="M386 1548Q266 1512 146 1524Q266 1523 386 1559Z" fill="#70b593"/>
<path d="M1564 1465Q1430 1432 1297 1461Q1430 1437 1564 1471Z" fill="#a3e0c2"/>
<path d="M2161 1406Q2112 1381 2062 1386Q2112 1391 2161 1416Z" fill="#87c7a6"/>
<path d="M603 1423Q707 1399 811 1477Q707 1409 603 1433Z" fill="#87c7a6"/>
<path d="M561 1545Q622 1509 682 1540Q622 1514 561 1551Z" fill="#80c5a3"/>
<path d="M2106 1509Q2022 1475 1938 1503Q2022 1480 2106 1514Z" fill="#a6e3c6"/>
<path d="M2112 1437Q2174 1433 2235 1458Q2174 1439 2112 1444Z" fill="#80c5a3"/>
<path d="M2124 1413Q2243 1401 2361 1435Q2243 1408 2124 1419Z" fill="#a3e0c2"/>
<path d="M584 1435Q479 1430 374 1449Q479 1439 584 1445Z" fill="#76bb99"/>
<path d="M491 1528Q542 1499 593 1544Q542 1507 491 1537Z" fill="#92d1b0"/>
<path d="M887 1445Q798 1431 710 1538Q798 1440 887 1454Z" fill="#6cb190"/>
<path d="M1448 1401Q1394 1373 1341 1404Q1394 1382 1448 1410Z" fill="#7cc1a0"/>
<path d="M907 1486Q858 1466 809 1478Q858 1472 907 1493Z" fill="#76bb99"/>
<path d="M1244 1427Q1130 1403 1015 1432Q1130 1414 1244 1438Z" fill="#6cb190"/>
<path d="M1859 1464Q1746 1445 1632 1450Q1746 1453 1859 1472Z" fill="#a3e0c2"/>
<path d="M452 1496Q505 1478 558 1494Q505 1488 452 1506Z" fill="#70b593"/>
<path d="M1883 1449Q1989 1421 2096 1449Q1989 1426 1883 1454Z" fill="#6cb190"/>
<path d="M445 1538Q393 1521 342 1540Q393 1527 445 1544Z" fill="#b0ebcf"/>
<path d="M786 1482Q742 1465 698 1489Q742 1477 786 1493Z" fill="#a6e3c6"/>
<path d="M1866 1478Q1818 1424 1771 1431Q1818 1431 1866 1486Z" fill="#a3e0c2"/>
<path d="M2011 1484Q1902 1468 1793 1480Q1902 1475 2011 1492Z" fill="#a9e6c9"/>
<path d="M1636 1406Q1551 1331 1465 1354Q1551 1337 1636 1412Z" fill="#70b593"/>
<path d="M1571 1522Q1680 1465 1788 1497Q1680 1471 1571 1528Z" fill="#a3e0c2"/>
<path d="M1970 1418Q1900 1388 1830 1413Q1900 1392 1970 1422Z" fill="#76bb99"/>
<path d="M2346 1456Q2425 1417 2504 1442Q2425 1427 2346 1466Z" fill="#a6e3c6"/>
<path d="M1964 1419Q2095 1379 2227 1406Q2095 1391 1964 1431Z" fill="#9edcbe"/>
<path d="M2012 1467Q2101 1435 2190 1460Q2101 1446 2012 1478Z" fill="#70b593"/>
<path d="M347 1448Q412 1419 477 1511Q412 1429 347 1458Z" fill="#76bb99"/>
<path d="M1340 1517Q1251 1516 1161 1526Q1251 1527 1340 1528Z" fill="#6cb190"/>
<path d="M2036 1488Q2110 1420 2185 1447Q2110 1427 2036 1495Z" fill="#92d1b0"/>
<path d="M2392 1478Q2504 1381 2616 1392Q2504 1387 2392 1484Z" fill="#7cc1a0"/>
<path d="M1554 1483Q1664 1378 1775 1410Q1664 1385 1554 1490Z" fill="#a3e0c2"/>
<path d="M1995 1522Q1901 1454 1807 1462Q1901 1464 1995 1531Z" fill="#76bb99"/>
<path d="M2265 1458Q2196 1440 2127 1480Q2196 1451 2265 1469Z" fill="#b0ebcf"/>
<path d="M1302 1456Q1234 1425 1165 1442Q1234 1434 1302 1465Z" fill="#6cb190"/>
<path d="M890 1400Q954 1363 1018 1381Q954 1373 890 1410Z" fill="#87c7a6"/>
<path d="M505 1505Q461 1472 417 1503Q461 1477 505 1510Z" fill="#70b593"/>
<path d="M1024 1525Q1150 1515 1276 1557Q1150 1527 1024 1536Z" fill="#76bb99"/>
<path d="M1372 1558Q1431 1551 1490 1554Q1431 1556 1372 1562Z" fill="#76bb99"/>
<path d="M786 1482Q891 1462 995 1507Q891 1472 786 1492Z" fill="#87c7a6"/>
<path d="M1926 1501Q1872 1485 1819 1504Q1872 1493 1926 1508Z" fill="#76bb99"/>
<path d="M2385 1447Q2489 1436 2592 1481Q2489 1446 2385 1457Z" fill="#92d1b0"/>
<path d="M368 1498Q457 1472 547 1505Q457 1480 368 1507Z" fill="#b0ebcf"/>
<path d="M1240 1513Q1369 1491 1497 1527Q1369 1502 1240 1525Z" fill="#a3e0c2"/>
<path d="M1318 1389Q1451 1373 1585 1395Q1451 1379 1318 1394Z" fill="#7cc1a0"/>
<path d="M1558 1555Q1457 1509 1356 1535Q1457 1516 1558 1563Z" fill="#a9e6c9"/>
<path d="M2431 1498Q2550 1477 2670 1520Q2550 1484 2431 1505Z" fill="#80c5a3"/>
<path d="M2106 1471Q2149 1444 2193 1489Q2149 1453 2106 1479Z" fill="#70b593"/>
<path d="M2205 1413Q2092 1387 1979 1401Q2092 1397 2205 1423Z" fill="#7cc1a0"/>
<path d="M1043 1504Q1108 1471 1174 1491Q1108 1483 1043 1515Z" fill="#76bb99"/>
<path d="M1139 1503Q1065 1500 991 1528Q1065 1508 1139 1511Z" fill="#6cb190"/>
<path d="M1151 1414Q1036 1333 922 1346Q1036 1341 1151 1421Z" fill="#87c7a6"/>
<path d="M1489 1500Q1604 1484 1719 1512Q1604 1495 1489 1511Z" fill="#6cb190"/>
<path d="M506 1464Q546 1429 585 1454Q546 1436 506 1471Z" fill="#6cb190"/>
<path d="M2345 1430Q2406 1384 2466 1410Q2406 1395 2345 1441Z" fill="#80c5a3"/>
<path d="M1833 1545Q1777 1512 1721 1539Q1777 1523 1833 1555Z" fill="#b0ebcf"/>
<path d="M1120 1547Q1233 1536 1345 1574Q1233 1546 1120 1557Z" fill="#76bb99"/>
<path d="M556 1513Q635 1480 714 1492Q635 1487 556 1520Z" fill="#70b593"/>
<path d="M382 1456Q469 1415 556 1433Q469 1426 382 1466Z" fill="#80c5a3"/>
<path d="M1760 1533Q1710 1507 1660 1559Q1710 1515 1760 1541Z" fill="#7cc1a0"/>
<path d="M2252 1540Q2364 1511 2476 1519Q2364 1520 2252 1549Z" fill="#7cc1a0"/>
<path d="M852 1396Q945 1388 1037 1448Q945 1399 852 1407Z" fill="#70b593"/>
<path d="M929 1447Q832 1420 736 1441Q832 1431 929 1457Z" fill="#b0ebcf"/>
<path d="M964 1385Q862 1376 759 1400Q862 1388 964 1396Z" fill="#a3e0c2"/>
<path d="M1560 1487Q1519 1478 1478 1509Q1519 1489 1560 1498Z" fill="#76bb99"/>
<path d="M1426 1425Q1521 1416 1617 1439Q1521 1426 1426 1434Z" fill="#87c7a6"/>
<path d="M735 1415Q856 1407 977 1425Q856 1416 735 1424Z" fill="#9edcbe"/>
<path d="M1133 1473Q1038 1413 943 1444Q1038 1423 1133 1483Z" fill="#a3e0c2"/>
<path d="M2393 1444Q2261 1380 2129 1396Q2261 1385 2393 1449Z" fill="#6cb190"/>
<path d="M1617 1407Q1673 1395 1729 1399Q1673 1399 1617 1411Z" fill="#92d1b0"/>
<path d="M1980 1521Q2094 1492 2209 1522Q2094 1502 1980 1531Z" fill="#6cb190"/>
<path d="M2364 1545Q2474 1543 2584 1575Q2474 1550 2364 1552Z" fill="#70b593"/>
<path d="M2110 1494Q2217 1477 2324 1550Q2217 1489 2110 1506Z" fill="#76bb99"/>
<path d="M921 1393Q863 1366 806 1404Q863 1376 921 1403Z" fill="#6cb190"/>
<path d="M1004 1534Q930 1500 857 1514Q930 1508 1004 1542Z" fill="#76bb99"/>
<path d="M2080 1409Q2130 1393 2179 1426Q2130 1400 2080 1415Z" fill="#70b593"/>
<path d="M1708 1549Q1767 1525 1826 1558Q1767 1531 1708 1554Z" fill="#7cc1a0"/>
<path d="M2247 1462Q2201 1406 2155 1432Q2201 1413 2247 1469Z" fill="#87c7a6"/>
<path d="M254 1527Q373 1511 491 1545Q373 1522 254 1538Z" fill="#9edcbe"/>
<path d="M994 1483Q1080 1454 1166 1484Q1080 1460 994 1489Z" fill="#a9e6c9"/>
<path d="M2268 1451Q2218 1437 2168 1464Q2218 1447 2268 1461Z" fill="#6cb190"/>
<path d="M1515 1509Q1389 1489 1263 1526Q1389 1499 1515 1519Z" fill="#7cc1a0"/>
<path d="M1289 1539Q1191 1488 1094 1511Q1191 1492 1289 1543Z" fill="#7cc1a0"/>
<path d="M1505 1516Q1566 1479 1627 1500Q1566 1483 1505 1521Z" fill="#7cc1a0"/>
<path d="M2426 1522Q2469 1505 2512 1517Q2469 1516 2426 1534Z" fill="#a3e0c2"/>
<path d="M1668 1543Q1602 1537 1536 1543Q1602 1547 1668 1553Z" fill="#b0ebcf"/>
<path d="M2216 1401Q2166 1386 2116 1432Q2166 1397 2216 1412Z" fill="#7cc1a0"/>
<path d="M239 1534Q334 1519 430 1545Q334 1524 239 1539Z" fill="#87c7a6"/>
<path d="M356 1479Q425 1478 494 1486Q425 1488 356 1489Z" fill="#92d1b0"/>
<path d="M1263 1407Q1158 1391 1053 1408Q1158 1400 1263 1415Z" fill="#b0ebcf"/>
<path d="M428 1476Q534 1422 640 1455Q534 1429 428 1483Z" fill="#9edcbe"/>
<path d="M914 1519Q968 1482 1023 1514Q968 1486 914 1523Z" fill="#70b593"/>
<path d="M402 1404Q298 1392 193 1448Q298 1403 402 1415Z" fill="#70b593"/>
<path d="M1880 1522Q2008 1501 2136 1560Q2008 1510 1880 1532Z" fill="#a9e6c9"/>
<path d="M537 1544Q426 1481 315 1492Q426 1487 537 1550Z" fill="#a6e3c6"/>
<path d="M909 1445Q837 1419 766 1438Q837 1430 909 1455Z" fill="#8ccbaa"/>
<path d="M2114 1557Q1998 1556 1883 1566Q1998 1565 2114 1565Z" fill="#7cc1a0"/>
<path d="M1035 1525Q1075 1507 1114 1520Q1075 1518 1035 1536Z" fill="#76bb99"/>
<path d="M1429 1405Q1308 1389 1187 1432Q1308 1395 1429 1411Z" fill="#6cb190"/>
<path d="M1426 1497Q1513 1442 1600 1459Q1513 1452 1426 1507Z" fill="#92d1b0"/>
<path d="M2407 1399Q2346 1392 2286 1417Q2346 1404 2407 1411Z" fill="#b0ebcf"/>
<path d="M630 1462Q717 1363 805 1388Q717 1369 630 1468Z" fill="#7cc1a0"/>
<path d="M812 1390Q920 1363 1029 1387Q920 1372 812 1399Z" fill="#a6e3c6"/>
<path d="M1577 1507Q1508 1486 1440 1491Q1508 1491 1577 1512Z" fill="#a9e6c9"/>
<path d="M401 1483Q511 1456 621 1514Q511 1461 401 1489Z" fill="#6cb190"/>
<path d="M459 1437Q536 1423 614 1470Q536 1434 459 1448Z" fill="#b0ebcf"/>
<path d="M1269 1441Q1213 1435 1157 1474Q1213 1444 1269 1450Z" fill="#70b593"/>
<path d="M858 1387Q913 1359 969 1368Q913 1368 858 1396Z" fill="#6cb190"/>
<path d="M640 1412Q687 1378 735 1397Q687 1383 640 1417Z" fill="#7cc1a0"/>
<path d="M899 1431Q1032 1421 1165 1441Q1032 1430 899 1441Z" fill="#87c7a6"/>
<path d="M545 1522Q482 1515 418 1544Q482 1521 545 1529Z" fill="#76bb99"/>
<path d="M1089 1516Q1029 1489 969 1501Q1029 1500 1089 1527Z" fill="#7cc1a0"/>
<path d="M775 1541Q709 1519 644 1533Q709 1524 775 1546Z" fill="#6cb190"/>
<path d="M1219 1406Q1305 1403 1391 1409Q1305 1410 1219 1414Z" fill="#b0ebcf"/>
<path d="M2307 1541Q2226 1510 2145 1529Q2226 1521 2307 1552Z" fill="#7cc1a0"/>
<path d="M1480 1400Q1542 1378 1604 1397Q1542 1382 1480 1405Z" fill="#7cc1a0"/>
<path d="M2354 1476Q2292 1452 2231 1459Q2292 1460 2354 1484Z" fill="#80c5a3"/>
<path d="M2359 1522Q2405 1471 2451 1493Q2405 1477 2359 1528Z" fill="#b0ebcf"/>
<path d="M1723 1447Q1674 1425 1625 1431Q1674 1436 1723 1458Z" fill="#92d1b0"/>
<path d="M1679 1504Q1723 1480 1766 1510Q1723 1490 1679 1513Z" fill="#a6e3c6"/>
<path d="M560 1523Q425 1496 291 1534Q425 1506 560 1533Z" fill="#76bb99"/>
<path d="M269 1465Q176 1440 83 1544Q176 1447 269 1473Z" fill="#6cb190"/>
<path d="M550 1420Q456 1399 362 1503Q456 1406 550 1426Z" fill="#a9e6c9"/>
<path d="M1322 1397Q1394 1375 1467 1434Q1394 1384 1322 1406Z" fill="#70b593"/>
<path d="M720 1531Q663 1479 606 1510Q663 1483 720 1536Z" fill="#76bb99"/>
<path d="M633 1456Q744 1433 854 1461Q744 1443 633 1466Z" fill="#7cc1a0"/>
<path d="M234 1490Q296 1486 357 1523Q296 1495 234 1499Z" fill="#7cc1a0"/>
<path d="M849 1456Q979 1435 1110 1444Q979 1446 849 1467Z" fill="#76bb99"/>
<path d="M362 1425Q307 1398 253 1449Q307 1409 362 1436Z" fill="#7cc1a0"/>
<path d="M2383 1430Q2251 1429 2119 1463Q2251 1441 2383 1442Z" fill="#b0ebcf"/>
<path d="M2264 1397Q2149 1375 2034 1392Q2149 1386 2264 1407Z" fill="#6cb190"/>
<path d="M1702 1473Q1650 1444 1599 1469Q1650 1455 1702 1484Z" fill="#70b593"/>
<path d="M2395 1419Q2350 1380 2305 1406Q2350 1389 2395 1428Z" fill="#80c5a3"/>
<path d="M1159 1550Q1223 1529 1287 1573Q1223 1538 1159 1559Z" fill="#a3e0c2"/>
<path d="M1293 1502Q1406 1432 1520 1458Q1406 1440 1293 1509Z" fill="#76bb99"/>
<path d="M962 1553Q825 1521 687 1554Q825 1528 962 1561Z" fill="#87c7a6"/>
<path d="M2394 1539Q2457 1516 2520 1547Q2457 1528 2394 1551Z" fill="#a6e3c6"/>
<path d="M1671 1537Q1720 1510 1770 1558Q1720 1519 1671 1546Z" fill="#80c5a3"/>
<path d="M1289 1463Q1359 1454 1430 1491Q1359 1463 1289 1473Z" fill="#8ccbaa"/>
<path d="M1753 1519Q1674 1500 1595 1531Q1674 1511 1753 1530Z" fill="#6cb190"/>
<path d="M1676 1496Q1785 1462 1893 1474Q1785 1467 1676 1502Z" fill="#80c5a3"/>
<path d="M379 1464Q486 1462 592 1474Q486 1471 379 1473Z" fill="#a9e6c9"/>
<path d="M1160 1484Q1118 1467 1075 1478Q1118 1473 1160 1489Z" fill="#76bb99"/>
<path d="M829 1506Q711 1503 592 1599Q711 1515 829 1518Z" fill="#9edcbe"/>
<path d="M568 1442Q476 1434 385 1462Q476 1446 568 1453Z" fill="#a3e0c2"/>
<path d="M827 1431Q782 1386 738 1420Q782 1396 827 1441Z" fill="#a6e3c6"/>
<path d="M1871 1443Q1957 1414 2043 1421Q1957 1425 1871 1454Z" fill="#a6e3c6"/>
<path d="M1184 1438Q1150 1406 1117 1411Q1150 1411 1184 1443Z" fill="#8ccbaa"/>
<path d="M1551 1419Q1442 1392 1333 1400Q1442 1401 1551 1427Z" fill="#8ccbaa"/>
<path d="M544 1418Q458 1399 372 1480Q458 1409 544 1428Z" fill="#7cc1a0"/>
<path d="M1360 1475Q1288 1442 1217 1462Q1288 1451 1360 1484Z" fill="#70b593"/>
<path d="M1786 1493Q1657 1472 1527 1484Q1657 1477 1786 1498Z" fill="#80c5a3"/>
<path d="M373 1466Q447 1442 520 1481Q447 1449 373 1473Z" fill="#7cc1a0"/>
<path d="M1854 1397Q1762 1395 1671 1451Q1762 1401 1854 1403Z" fill="#92d1b0"/>
<path d="M628 1494Q690 1452 752 1478Q690 1462 628 1503Z" fill="#70b593"/>
<path d="M1304 1440Q1352 1418 1399 1441Q1352 1426 1304 1447Z" fill="#80c5a3"/>
<path d="M801 1501Q863 1478 924 1516Q863 1486 801 1509Z" fill="#70b593"/>
<path d="M1985 1510Q1917 1461 1849 1488Q1917 1470 1985 1519Z" fill="#9edcbe"/>
<path d="M860 1392Q723 1351 586 1374Q723 1361 860 1401Z" fill="#6cb190"/>
<path d="M2149 1499Q2222 1494 2296 1511Q2222 1504 2149 1508Z" fill="#b0ebcf"/>
<path d="M1887 1391Q2016 1382 2145 1423Q2016 1390 1887 1400Z" fill="#87c7a6"/>
<path d="M1147 1429Q1221 1407 1296 1461Q1221 1412 1147 1434Z" fill="#70b593"/>
<path d="M779 1554Q831 1527 883 1559Q831 1533 779 1560Z" fill="#8ccbaa"/>
<path d="M649 1524Q547 1453 445 1464Q547 1463 649 1534Z" fill="#a6e3c6"/>
<path d="M2290 1469Q2181 1453 2073 1552Q2181 1465 2290 1480Z" fill="#a6e3c6"/>
<path d="M1616 1442Q1729 1421 1842 1450Q1729 1426 1616 1446Z" fill="#80c5a3"/>
<path d="M1366 1180Q1364 1153 1359 1134Q1369 1153 1373 1180Z" fill="#b0ebcf"/>
<path d="M1299 1181Q1292 1144 1279 1120Q1296 1144 1305 1181Z" fill="#70b593"/>
<path d="M1694 1181Q1695 1158 1696 1143Q1698 1158 1698 1181Z" fill="#92d1b0"/>
<path d="M2190 1183Q2197 1128 2204 1092Q2199 1128 2193 1183Z" fill="#92d1b0"/>
<path d="M434 1185Q439 1134 451 1100Q443 1134 440 1185Z" fill="#76bb99"/>
<path d="M2457 1186Q2458 1144 2463 1116Q2460 1144 2460 1186Z" fill="#a3e0c2"/>
<path d="M1612 1187Q1608 1141 1601 1111Q1611 1141 1617 1187Z" fill="#a6e3c6"/>
<path d="M790 1187Q788 1136 788 1102Q792 1136 796 1187Z" fill="#87c7a6"/>
<path d="M695 1188Q694 1143 693 1114Q699 1143 702 1188Z" fill="#6cb190"/>
<path d="M811 1189Q809 1149 801 1122Q813 1149 817 1189Z" fill="#76bb99"/>
<path d="M1066 1189Q1070 1163 1074 1146Q1072 1163 1070 1189Z" fill="#a3e0c2"/>
<path d="M1017 1191Q1013 1154 982 1130Q1019 1154 1025 1191Z" fill="#b0ebcf"/>
<path d="M1386 1193Q1386 1173 1383 1161Q1391 1173 1393 1193Z" fill="#8ccbaa"/>
<path d="M1667 1193Q1661 1145 1650 1113Q1665 1145 1673 1193Z" fill="#a3e0c2"/>
<path d="M931 1194Q931 1172 929 1158Q936 1172 939 1194Z" fill="#a3e0c2"/>
<path d="M1734 1196Q1749 1124 1811 1075Q1754 1124 1741 1196Z" fill="#76bb99"/>
<path d="M2140 1197Q2139 1114 2136 1058Q2143 1114 2146 1197Z" fill="#92d1b0"/>
<path d="M743 1197Q756 1152 774 1122Q760 1152 749 1197Z" fill="#80c5a3"/>
<path d="M1890 1197Q1891 1138 1893 1099Q1895 1138 1895 1197Z" fill="#80c5a3"/>
<path d="M1520 1197Q1521 1170 1524 1151Q1526 1170 1527 1197Z" fill="#87c7a6"/>
<path d="M862 1198Q866 1140 885 1102Q869 1140 866 1198Z" fill="#7cc1a0"/>
<path d="M362 1198Q366 1153 370 1123Q369 1153 366 1198Z" fill="#6cb190"/>
<path d="M624 1198Q629 1140 636 1101Q634 1140 632 1198Z" fill="#8ccbaa"/>
<path d="M1503 1200Q1513 1134 1538 1090Q1517 1134 1508 1200Z" fill="#80c5a3"/>
<path d="M694 1200Q698 1147 707 1112Q702 1147 699 1200Z" fill="#70b593"/>
<path d="M1356 1201Q1357 1179 1361 1164Q1361 1179 1361 1201Z" fill="#a3e0c2"/>
<path d="M711 1202Q716 1174 729 1155Q719 1174 717 1202Z" fill="#a9e6c9"/>
<path d="M1432 1202Q1437 1176 1444 1158Q1442 1176 1439 1202Z" fill="#9edcbe"/>
<path d="M1472 1202Q1469 1172 1466 1151Q1474 1172 1481 1202Z" fill="#b0ebcf"/>
<path d="M2128 1202Q2130 1172 2132 1151Q2134 1172 2134 1202Z" fill="#a9e6c9"/>
<path d="M308 1203Q306 1171 297 1150Q311 1171 316 1203Z" fill="#8ccbaa"/>
<path d="M1874 1203Q1875 1180 1880 1165Q1878 1180 1878 1203Z" fill="#a3e0c2"/>
<path d="M508 1203Q511 1166 518 1141Q516 1166 516 1203Z" fill="#7cc1a0"/>
<path d="M604 1204Q607 1182 611 1168Q611 1182 611 1204Z" fill="#70b593"/>
<path d="M837 1204Q837 1186 837 1174Q841 1186 843 1204Z" fill="#80c5a3"/>
<path d="M2152 1204Q2154 1162 2166 1133Q2159 1162 2159 1204Z" fill="#a9e6c9"/>
<path d="M1978 1204Q1987 1115 2005 1055Q1989 1115 1982 1204Z" fill="#9edcbe"/>
<path d="M1594 1204Q1601 1185 1618 1173Q1604 1185 1598 1204Z" fill="#9edcbe"/>
<path d="M1489 1205Q1500 1167 1521 1142Q1505 1167 1497 1205Z" fill="#8ccbaa"/>
<path d="M1454 1205Q1459 1166 1464 1140Q1463 1166 1459 1205Z" fill="#87c7a6"/>
<path d="M781 1206Q789 1175 801 1155Q794 1175 788 1206Z" fill="#8ccbaa"/>
<path d="M1988 1206Q1972 1133 1951 1084Q1975 1133 1992 1206Z" fill="#70b593"/>
<path d="M1717 1206Q1719 1182 1728 1166Q1722 1182 1721 1206Z" fill="#8ccbaa"/>
<path d="M698 1207Q697 1183 696 1168Q702 1183 705 1207Z" fill="#76bb99"/>
<path d="M1419 1207Q1431 1148 1454 1109Q1434 1148 1423 1207Z" fill="#6cb190"/>
<path d="M670 1207Q673 1184 678 1169Q678 1184 677 1207Z" fill="#6cb190"/>
<path d="M2092 1207Q2098 1182 2119 1165Q2102 1182 2097 1207Z" fill="#a9e6c9"/>
<path d="M2256 1207Q2254 1163 2242 1133Q2257 1163 2261 1207Z" fill="#80c5a3"/>
<path d="M689 1208Q681 1183 675 1167Q687 1183 697 1208Z" fill="#70b593"/>
<path d="M345 1208Q344 1182 343 1164Q347 1182 350 1208Z" fill="#76bb99"/>
<path d="M377 1209Q376 1190 375 1177Q379 1190 383 1209Z" fill="#a6e3c6"/>
<path d="M648 1209Q645 1167 643 1138Q650 1167 656 1209Z" fill="#b0ebcf"/>
<path d="M974 1211Q967 1152 956 1114Q970 1152 979 1211Z" fill="#a3e0c2"/>
<path d="M2402 1211Q2401 1191 2401 1177Q2405 1191 2408 1211Z" fill="#9edcbe"/>
<path d="M1533 1211Q1529 1170 1520 1142Q1535 1170 1542 1211Z" fill="#7cc1a0"/>
<path d="M793 1212Q819 1148 851 1106Q825 1148 802 1212Z" fill="#a3e0c2"/>
<path d="M2049 1212Q2055 1193 2061 1180Q2059 1193 2056 1212Z" fill="#6cb190"/>
<path d="M1925 1212Q1932 1178 1951 1155Q1938 1178 1934 1212Z" fill="#b0ebcf"/>
<path d="M816 1213Q817 1176 818 1152Q819 1176 820 1213Z" fill="#92d1b0"/>
<path d="M1240 1213Q1263 1128 1282 1071Q1269 1128 1248 1213Z" fill="#b0ebcf"/>
<path d="M775 1213Q781 1177 795 1153Q784 1177 780 1213Z" fill="#a6e3c6"/>
<path d="M2342 1214Q2350 1171 2360 1142Q2353 1171 2346 1214Z" fill="#76bb99"/>
<path d="M1016 1214Q1013 1187 997 1170Q1017 1187 1022 1214Z" fill="#80c5a3"/>
<path d="M683 1214Q687 1189 698 1171Q693 1189 692 1214Z" fill="#92d1b0"/>
<path d="M1378 1216Q1384 1151 1389 1108Q1387 1151 1383 1216Z" fill="#a9e6c9"/>
<path d="M342 1216Q332 1125 326 1064Q337 1125 350 1216Z" fill="#9edcbe"/>
<path d="M2029 1218Q2039 1171 2054 1140Q2045 1171 2038 1218Z" fill="#a9e6c9"/>
<path d="M865 1218Q861 1137 859 1084Q866 1137 873 1218Z" fill="#92d1b0"/>
<path d="M785 1218Q782 1147 764 1100Q784 1147 789 1218Z" fill="#a3e0c2"/>
<path d="M738 1218Q739 1178 742 1150Q745 1178 746 1218Z" fill="#70b593"/>
<path d="M1133 1218Q1126 1144 1101 1094Q1129 1144 1138 1218Z" fill="#a3e0c2"/>
<path d="M2107 1219Q2130 1174 2158 1144Q2133 1174 2112 1219Z" fill="#87c7a6"/>
<path d="M514 1219Q515 1200 520 1187Q519 1200 520 1219Z" fill="#76bb99"/>
<path d="M997 1219Q1016 1146 1050 1097Q1021 1146 1004 1219Z" fill="#9edcbe"/>
<path d="M1016 1219Q996 1157 983 1115Q999 1157 1020 1219Z" fill="#a3e0c2"/>
<path d="M664 1220Q659 1141 654 1089Q663 1141 670 1220Z" fill="#87c7a6"/>
<path d="M403 1221Q403 1181 399 1155Q406 1181 408 1221Z" fill="#92d1b0"/>
<path d="M431 1221Q431 1179 434 1151Q434 1179 434 1221Z" fill="#9edcbe"/>
<path d="M2204 1222Q2199 1203 2185 1190Q2202 1203 2208 1222Z" fill="#87c7a6"/>
<path d="M1713 1223Q1711 1193 1707 1173Q1714 1193 1718 1223Z" fill="#8ccbaa"/>
<path d="M1323 1223Q1313 1128 1306 1065Q1318 1128 1330 1223Z" fill="#80c5a3"/>
<path d="M1293 1224Q1304 1142 1353 1087Q1309 1142 1301 1224Z" fill="#7cc1a0"/>
<path d="M1493 1224Q1480 1134 1466 1075Q1483 1134 1497 1224Z" fill="#70b593"/>
<path d="M957 1224Q981 1139 1004 1082Q986 1139 965 1224Z" fill="#a6e3c6"/>
<path d="M1684 1224Q1694 1159 1749 1116Q1697 1159 1687 1224Z" fill="#b0ebcf"/>
<path d="M1657 1224Q1653 1198 1650 1180Q1655 1198 1660 1224Z" fill="#80c5a3"/>
<path d="M585 1225Q584 1194 582 1173Q588 1194 591 1225Z" fill="#7cc1a0"/>
<path d="M695 1226Q695 1176 693 1143Q697 1176 698 1226Z" fill="#b0ebcf"/>
<path d="M578 1226Q572 1185 563 1158Q576 1185 583 1226Z" fill="#92d1b0"/>
<path d="M1167 1226Q1167 1187 1163 1162Q1172 1187 1175 1226Z" fill="#8ccbaa"/>
<path d="M1529 1226Q1530 1202 1532 1186Q1532 1202 1532 1226Z" fill="#76bb99"/>
<path d="M323 1226Q335 1182 364 1153Q338 1182 327 1226Z" fill="#b0ebcf"/>
<path d="M1818 1227Q1824 1196 1833 1176Q1828 1196 1824 1227Z" fill="#92d1b0"/>
<path d="M1501 1227Q1497 1188 1491 1162Q1500 1188 1505 1227Z" fill="#7cc1a0"/>
<path d="M2018 1227Q2017 1190 2004 1165Q2023 1190 2027 1227Z" fill="#7cc1a0"/>
<path d="M1649 1227Q1644 1182 1640 1152Q1650 1182 1658 1227Z" fill="#87c7a6"/>
<path d="M535 1228Q535 1179 535 1147Q539 1179 541 1228Z" fill="#a3e0c2"/>
<path d="M931 1228Q935 1200 941 1181Q937 1200 935 1228Z" fill="#a6e3c6"/>
<path d="M2035 1228Q2032 1182 2016 1150Q2037 1182 2041 1228Z" fill="#80c5a3"/>
<path d="M1728 1229Q1735 1172 1755 1134Q1739 1172 1735 1229Z" fill="#8ccbaa"/>
<path d="M618 1229Q625 1131 643 1066Q631 1131 627 1229Z" fill="#9edcbe"/>
<path d="M370 1229Q357 1165 328 1122Q361 1165 376 1229Z" fill="#87c7a6"/>
<path d="M1347 1230Q1345 1206 1335 1190Q1348 1206 1351 1230Z" fill="#9edcbe"/>
<path d="M2316 1230Q2321 1191 2338 1166Q2325 1191 2322 1230Z" fill="#8ccbaa"/>
<path d="M1076 1230Q1077 1197 1078 1175Q1082 1197 1083 1230Z" fill="#b0ebcf"/>
<path d="M1917 1230Q1917 1197 1915 1174Q1922 1197 1925 1230Z" fill="#8ccbaa"/>
<path d="M1760 1230Q1759 1172 1752 1133Q1761 1172 1763 1230Z" fill="#a6e3c6"/>
<path d="M794 1230Q795 1198 798 1177Q798 1198 798 1230Z" fill="#7cc1a0"/>
<path d="M2058 1230Q2057 1190 2058 1163Q2062 1190 2065 1230Z" fill="#7cc1a0"/>
<path d="M2089 1231Q2090 1212 2091 1199Q2093 1212 2094 1231Z" fill="#b0ebcf"/>
<path d="M2363 1231Q2364 1208 2368 1193Q2369 1208 2370 1231Z" fill="#a3e0c2"/>
<path d="M2491 1231Q2475 1196 2463 1173Q2479 1196 2498 1231Z" fill="#70b593"/>
<path d="M859 1232Q864 1214 869 1201Q866 1214 863 1232Z" fill="#6cb190"/>
<path d="M2150 1232Q2155 1187 2176 1158Q2160 1187 2158 1232Z" fill="#a3e0c2"/>
<path d="M2231 1234Q2231 1195 2231 1169Q2235 1195 2237 1234Z" fill="#a3e0c2"/>
<path d="M1276 1234Q1277 1209 1280 1192Q1281 1209 1282 1234Z" fill="#76bb99"/>
<path d="M436 1234Q445 1215 454 1203Q449 1215 442 1234Z" fill="#70b593"/>
<path d="M1085 1234Q1095 1195 1111 1170Q1101 1195 1094 1234Z" fill="#92d1b0"/>
<path d="M2440 1234Q2438 1205 2435 1185Q2440 1205 2444 1234Z" fill="#87c7a6"/>
<path d="M1384 1235Q1390 1195 1396 1169Q1394 1195 1391 1235Z" fill="#87c7a6"/>
<path d="M2087 1235Q2100 1154 2114 1101Q2102 1154 2090 1235Z" fill="#a9e6c9"/>
<path d="M1615 1235Q1618 1205 1628 1185Q1621 1205 1619 1235Z" fill="#b0ebcf"/>
<path d="M1535 1235Q1536 1172 1539 1130Q1539 1172 1539 1235Z" fill="#8ccbaa"/>
<path d="M947 1235Q944 1195 937 1168Q946 1195 951 1235Z" fill="#9edcbe"/>
<path d="M1347 1236Q1365 1144 1395 1083Q1368 1144 1351 1236Z" fill="#6cb190"/>
<path d="M574 1236Q573 1135 575 1069Q578 1135 581 1236Z" fill="#9edcbe"/>
<path d="M2206 1236Q2206 1214 2208 1199Q2209 1214 2210 1236Z" fill="#a6e3c6"/>
<path d="M1657 1236Q1657 1216 1659 1202Q1663 1216 1665 1236Z" fill="#7cc1a0"/>
<path d="M2347 1237Q2365 1167 2385 1121Q2370 1167 2354 1237Z" fill="#b0ebcf"/>
<path d="M993 1237Q993 1195 994 1168Q998 1195 1001 1237Z" fill="#b0ebcf"/>
<path d="M1660 1237Q1665 1194 1683 1165Q1671 1194 1669 1237Z" fill="#76bb99"/>
<path d="M1912 1237Q1919 1211 1937 1193Q1922 1211 1915 1237Z" fill="#a9e6c9"/>
<path d="M1866 1237Q1868 1219 1874 1207Q1872 1219 1872 1237Z" fill="#70b593"/>
<path d="M1740 1237Q1728 1164 1718 1116Q1733 1164 1748 1237Z" fill="#70b593"/>
<path d="M2134 1237Q2127 1185 2100 1150Q2131 1185 2141 1237Z" fill="#a3e0c2"/>
<path d="M884 1237Q887 1189 902 1156Q892 1189 891 1237Z" fill="#80c5a3"/>
<path d="M1783 1238Q1765 1138 1733 1071Q1769 1138 1789 1238Z" fill="#92d1b0"/>
<path d="M565 1238Q559 1219 555 1206Q561 1219 568 1238Z" fill="#80c5a3"/>
<path d="M1404 1238Q1398 1180 1390 1141Q1404 1180 1413 1238Z" fill="#6cb190"/>
<path d="M342 1239Q344 1215 351 1200Q347 1215 345 1239Z" fill="#b0ebcf"/>
<path d="M2043 1239Q2036 1177 2031 1135Q2040 1177 2049 1239Z" fill="#8ccbaa"/>
<path d="M875 1239Q877 1207 878 1186Q882 1207 884 1239Z" fill="#a9e6c9"/>
<path d="M1830 1239Q1841 1135 1875 1065Q1843 1135 1834 1239Z" fill="#6cb190"/>
<path d="M903 1240Q904 1202 902 1178Q909 1202 911 1240Z" fill="#70b593"/>
<path d="M309 1240Q303 1154 295 1096Q308 1154 316 1240Z" fill="#8ccbaa"/>
<path d="M2204 1240Q2211 1211 2221 1192Q2213 1211 2208 1240Z" fill="#a9e6c9"/>
<path d="M1244 1240Q1243 1198 1235 1170Q1248 1198 1252 1240Z" fill="#80c5a3"/>
<path d="M1727 1240Q1732 1216 1741 1200Q1737 1216 1736 1240Z" fill="#87c7a6"/>
<path d="M2354 1241Q2355 1160 2357 1107Q2358 1160 2358 1241Z" fill="#8ccbaa"/>
<path d="M765 1241Q766 1223 769 1211Q768 1223 769 1241Z" fill="#a6e3c6"/>
<path d="M1600 1241Q1604 1204 1620 1180Q1609 1204 1608 1241Z" fill="#a6e3c6"/>
<path d="M1408 1241Q1402 1192 1389 1159Q1406 1192 1415 1241Z" fill="#87c7a6"/>
<path d="M1906 1242Q1906 1203 1904 1177Q1911 1203 1915 1242Z" fill="#b0ebcf"/>
<path d="M1972 1242Q1978 1210 1994 1189Q1982 1210 1980 1242Z" fill="#92d1b0"/>
<path d="M1310 1243Q1312 1158 1316 1101Q1315 1158 1315 1243Z" fill="#76bb99"/>
<path d="M1587 1243Q1599 1186 1615 1147Q1603 1186 1593 1243Z" fill="#a3e0c2"/>
<path d="M377 1243Q376 1187 374 1150Q379 1187 381 1243Z" fill="#a3e0c2"/>
<path d="M1662 1243Q1661 1198 1661 1168Q1666 1198 1669 1243Z" fill="#80c5a3"/>
<path d="M780 1243Q784 1207 799 1182Q787 1207 785 1243Z" fill="#76bb99"/>
<path d="M2069 1244Q2068 1187 2068 1149Q2072 1187 2075 1244Z" fill="#a9e6c9"/>
<path d="M1195 1244Q1200 1172 1210 1125Q1205 1172 1202 1244Z" fill="#70b593"/>
<path d="M809 1244Q813 1216 822 1198Q817 1216 815 1244Z" fill="#80c5a3"/>
<path d="M764 1245Q759 1217 756 1199Q763 1217 771 1245Z" fill="#a3e0c2"/>
<path d="M362 1245Q365 1219 372 1202Q370 1219 369 1245Z" fill="#7cc1a0"/>
<path d="M1598 1245Q1612 1209 1628 1184Q1615 1209 1601 1245Z" fill="#a6e3c6"/>
<path d="M950 1245Q950 1220 951 1203Q953 1220 954 1245Z" fill="#b0ebcf"/>
<path d="M1063 1245Q1044 1147 1031 1082Q1048 1147 1069 1245Z" fill="#8ccbaa"/>
<path d="M1819 1245Q1816 1201 1811 1172Q1819 1201 1825 1245Z" fill="#92d1b0"/>
<path d="M1588 1245Q1585 1212 1574 1189Q1591 1212 1596 1245Z" fill="#80c5a3"/>
<path d="M323 1245Q325 1169 331 1119Q330 1169 330 1245Z" fill="#a9e6c9"/>
<path d="M1219 1246Q1222 1200 1234 1170Q1228 1200 1227 1246Z" fill="#87c7a6"/>
<path d="M1325 1246Q1330 1207 1361 1181Q1332 1207 1328 1246Z" fill="#80c5a3"/>
<path d="M1483 1246Q1485 1206 1492 1179Q1490 1206 1491 1246Z" fill="#80c5a3"/>
<path d="M2118 1247Q2123 1217 2132 1197Q2127 1217 2123 1247Z" fill="#70b593"/>
<path d="M1760 1247Q1762 1185 1771 1143Q1767 1185 1768 1247Z" fill="#a9e6c9"/>
<path d="M1148 1247Q1153 1186 1160 1146Q1159 1186 1157 1247Z" fill="#70b593"/>
<path d="M984 1247Q979 1213 951 1190Q982 1213 989 1247Z" fill="#6cb190"/>
<path d="M1532 1247Q1535 1226 1541 1212Q1541 1226 1541 1247Z" fill="#76bb99"/>
<path d="M1866 1247Q1865 1224 1860 1208Q1867 1224 1869 1247Z" fill="#9edcbe"/>
<path d="M1160 1247Q1161 1202 1164 1173Q1167 1202 1168 1247Z" fill="#92d1b0"/>
<path d="M1811 1248Q1811 1205 1806 1177Q1814 1205 1816 1248Z" fill="#87c7a6"/>
<path d="M1809 1248Q1811 1205 1813 1177Q1813 1205 1813 1248Z" fill="#92d1b0"/>
<path d="M918 1248Q913 1197 901 1163Q916 1197 921 1248Z" fill="#b0ebcf"/>
<path d="M1165 1248Q1168 1226 1173 1212Q1171 1226 1170 1248Z" fill="#76bb99"/>
<path d="M1528 1249Q1500 1187 1482 1146Q1503 1187 1532 1249Z" fill="#b0ebcf"/>
<path d="M2196 1249Q2201 1197 2214 1162Q2204 1197 2200 1249Z" fill="#a9e6c9"/>
<path d="M2299 1250Q2293 1165 2274 1108Q2298 1165 2306 1250Z" fill="#76bb99"/>
<path d="M2005 1250Q2007 1227 2010 1212Q2009 1227 2009 1250Z" fill="#b0ebcf"/>
<path d="M1064 1250Q1064 1231 1064 1218Q1067 1231 1069 1250Z" fill="#6cb190"/>
<path d="M2051 1251Q2059 1205 2075 1175Q2063 1205 2057 1251Z" fill="#a9e6c9"/>
<path d="M2385 1251Q2387 1228 2391 1212Q2389 1228 2389 1251Z" fill="#a9e6c9"/>
<path d="M2094 1251Q2093 1216 2086 1193Q2096 1216 2099 1251Z" fill="#80c5a3"/>
<path d="M1333 1251Q1331 1229 1331 1215Q1335 1229 1339 1251Z" fill="#a6e3c6"/>
<path d="M974 1251Q979 1232 985 1220Q982 1232 979 1251Z" fill="#7cc1a0"/>
<path d="M1670 1252Q1666 1222 1663 1203Q1668 1222 1673 1252Z" fill="#76bb99"/>
<path d="M2009 1252Q2022 1209 2037 1180Q2027 1209 2017 1252Z" fill="#b0ebcf"/>
<path d="M1488 1253Q1487 1161 1486 1100Q1489 1161 1491 1253Z" fill="#6cb190"/>
<path d="M1577 1253Q1567 1174 1556 1121Q1571 1174 1582 1253Z" fill="#92d1b0"/>
<path d="M356 1253Q356 1204 355 1171Q358 1204 360 1253Z" fill="#6cb190"/>
<path d="M1592 1254Q1596 1227 1603 1209Q1599 1227 1597 1254Z" fill="#a6e3c6"/>
<path d="M1171 1255Q1171 1185 1171 1139Q1176 1185 1179 1255Z" fill="#a9e6c9"/>
<path d="M1131 1255Q1145 1197 1155 1158Q1148 1197 1137 1255Z" fill="#a3e0c2"/>
<path d="M554 1255Q586 1169 633 1111Q590 1169 558 1255Z" fill="#a3e0c2"/>
<path d="M1290 1255Q1291 1231 1293 1214Q1293 1231 1293 1255Z" fill="#76bb99"/>
<path d="M1414 1256Q1393 1207 1380 1174Q1396 1207 1419 1256Z" fill="#8ccbaa"/>
<path d="M844 1256Q853 1229 867 1211Q857 1229 850 1256Z" fill="#76bb99"/>
<path d="M1071 1256Q1072 1221 1074 1197Q1077 1221 1079 1256Z" fill="#a3e0c2"/>
<path d="M738 1256Q745 1224 760 1202Q750 1224 746 1256Z" fill="#9edcbe"/>
<path d="M1994 1256Q1996 1207 2001 1175Q2002 1207 2002 1256Z" fill="#70b593"/>
<path d="M850 1257Q849 1187 847 1141Q854 1187 858 1257Z" fill="#9edcbe"/>
<path d="M2015 1257Q2019 1220 2031 1196Q2024 1220 2023 1257Z" fill="#9edcbe"/>
<path d="M1554 1257Q1552 1164 1529 1101Q1555 1164 1559 1257Z" fill="#92d1b0"/>
<path d="M542 1257Q537 1198 527 1159Q541 1198 547 1257Z" fill="#b0ebcf"/>
<path d="M1997 1258Q2012 1210 2056 1178Q2016 1210 2004 1258Z" fill="#76bb99"/>
<path d="M1581 1258Q1583 1231 1588 1213Q1588 1231 1588 1258Z" fill="#8ccbaa"/>
<path d="M1026 1258Q1033 1229 1043 1210Q1036 1229 1030 1258Z" fill="#a9e6c9"/>
<path d="M1264 1258Q1265 1209 1266 1176Q1268 1209 1269 1258Z" fill="#7cc1a0"/>
<path d="M2236 1258Q2246 1197 2272 1157Q2251 1197 2244 1258Z" fill="#76bb99"/>
<path d="M584 1258Q589 1188 596 1141Q592 1188 588 1258Z" fill="#b0ebcf"/>
<path d="M1394 1259Q1392 1212 1384 1181Q1396 1212 1399 1259Z" fill="#a9e6c9"/>
<path d="M1225 1259Q1228 1229 1232 1209Q1231 1229 1230 1259Z" fill="#80c5a3"/>
<path d="M281 1259Q280 1223 266 1198Q285 1223 289 1259Z" fill="#87c7a6"/>
<path d="M1351 1260Q1346 1204 1333 1166Q1350 1204 1357 1260Z" fill="#7cc1a0"/>
<path d="M1477 1260Q1482 1220 1505 1193Q1487 1220 1484 1260Z" fill="#b0ebcf"/>
<path d="M2505 1260Q2515 1193 2574 1148Q2518 1193 2510 1260Z" fill="#9edcbe"/>
<path d="M398 1260Q395 1233 390 1214Q399 1233 403 1260Z" fill="#87c7a6"/>
<path d="M1190 1260Q1196 1207 1218 1172Q1199 1207 1194 1260Z" fill="#9edcbe"/>
<path d="M1982 1260Q1985 1238 1990 1224Q1988 1238 1986 1260Z" fill="#80c5a3"/>
<path d="M2460 1261Q2455 1157 2432 1088Q2461 1157 2468 1261Z" fill="#92d1b0"/>
<path d="M2456 1261Q2456 1200 2452 1160Q2458 1200 2459 1261Z" fill="#80c5a3"/>
<path d="M1693 1261Q1690 1239 1687 1225Q1693 1239 1698 1261Z" fill="#8ccbaa"/>
<path d="M1949 1262Q1944 1221 1920 1194Q1949 1221 1956 1262Z" fill="#7cc1a0"/>
<path d="M726 1262Q738 1171 768 1111Q743 1171 734 1262Z" fill="#a9e6c9"/>
<path d="M2122 1263Q2093 1182 2074 1129Q2098 1182 2130 1263Z" fill="#87c7a6"/>
<path d="M1437 1263Q1439 1220 1444 1192Q1444 1220 1444 1263Z" fill="#a9e6c9"/>
<path d="M2028 1263Q2025 1222 2016 1195Q2027 1222 2031 1263Z" fill="#8ccbaa"/>
<path d="M621 1263Q617 1168 595 1105Q622 1168 629 1263Z" fill="#8ccbaa"/>
<path d="M369 1263Q378 1218 404 1189Q381 1218 373 1263Z" fill="#8ccbaa"/>
<path d="M2104 1263Q2107 1242 2113 1228Q2111 1242 2110 1263Z" fill="#80c5a3"/>
<path d="M1075 1263Q1059 1218 1038 1188Q1062 1218 1079 1263Z" fill="#7cc1a0"/>
<path d="M811 1264Q802 1186 746 1133Q805 1186 816 1264Z" fill="#a9e6c9"/>
<path d="M2506 1264Q2512 1184 2546 1130Q2517 1184 2514 1264Z" fill="#92d1b0"/>
<path d="M1254 1264Q1260 1221 1269 1192Q1264 1221 1259 1264Z" fill="#6cb190"/>
<path d="M1165 1265Q1160 1226 1151 1200Q1165 1226 1174 1265Z" fill="#a9e6c9"/>
<path d="M1963 1265Q1975 1176 2015 1116Q1980 1176 1969 1265Z" fill="#76bb99"/>
<path d="M1723 1265Q1713 1226 1676 1199Q1716 1226 1727 1265Z" fill="#7cc1a0"/>
<path d="M2067 1266Q2083 1199 2110 1154Q2089 1199 2076 1266Z" fill="#92d1b0"/>
<path d="M1231 1266Q1258 1182 1287 1127Q1261 1182 1237 1266Z" fill="#a6e3c6"/>
<path d="M1249 1267Q1252 1238 1256 1220Q1255 1238 1253 1267Z" fill="#9edcbe"/>
<path d="M1121 1267Q1135 1218 1159 1186Q1138 1218 1125 1267Z" fill="#87c7a6"/>
<path d="M380 1267Q388 1176 435 1116Q391 1176 383 1267Z" fill="#87c7a6"/>
<path d="M2167 1267Q2169 1222 2178 1191Q2174 1222 2175 1267Z" fill="#92d1b0"/>
<path d="M2144 1268Q2108 1173 2082 1109Q2111 1173 2150 1268Z" fill="#6cb190"/>
<path d="M1825 1268Q1821 1199 1809 1154Q1825 1199 1831 1268Z" fill="#6cb190"/>
<path d="M1354 1268Q1353 1231 1348 1206Q1358 1231 1362 1268Z" fill="#b0ebcf"/>
<path d="M599 1268Q595 1220 587 1187Q598 1220 604 1268Z" fill="#87c7a6"/>
<path d="M962 1269Q957 1249 948 1236Q961 1249 968 1269Z" fill="#87c7a6"/>
<path d="M1029 1269Q1069 1180 1112 1121Q1074 1180 1036 1269Z" fill="#92d1b0"/>
<path d="M1198 1269Q1222 1189 1244 1136Q1225 1189 1202 1269Z" fill="#6cb190"/>
<path d="M1683 1269Q1675 1219 1659 1186Q1679 1219 1689 1269Z" fill="#b0ebcf"/>
<path d="M1189 1269Q1201 1187 1213 1132Q1205 1187 1195 1269Z" fill="#92d1b0"/>
<path d="M1166 1269Q1169 1207 1172 1166Q1172 1207 1171 1269Z" fill="#a9e6c9"/>
<path d="M582 1269Q578 1243 576 1225Q583 1243 590 1269Z" fill="#87c7a6"/>
<path d="M525 1269Q524 1238 522 1217Q529 1238 531 1269Z" fill="#92d1b0"/>
<path d="M2002 1270Q2006 1167 2014 1099Q2010 1167 2008 1270Z" fill="#70b593"/>
<path d="M651 1270Q662 1248 674 1232Q667 1248 658 1270Z" fill="#8ccbaa"/>
<path d="M2140 1270Q2142 1230 2149 1203Q2148 1230 2148 1270Z" fill="#a3e0c2"/>
<path d="M1038 1271Q1037 1214 1033 1176Q1039 1214 1042 1271Z" fill="#a3e0c2"/>
<path d="M1511 1271Q1520 1227 1533 1199Q1524 1227 1518 1271Z" fill="#76bb99"/>
<path d="M961 1271Q978 1179 992 1119Q981 1179 965 1271Z" fill="#a6e3c6"/>
<path d="M818 1271Q810 1181 767 1121Q812 1181 821 1271Z" fill="#a9e6c9"/>
<path d="M2179 1271Q2177 1207 2175 1164Q2180 1207 2183 1271Z" fill="#8ccbaa"/>
<path d="M1457 1271Q1472 1235 1486 1212Q1477 1235 1465 1271Z" fill="#6cb190"/>
<path d="M1150 1271Q1141 1237 1135 1214Q1144 1237 1154 1271Z" fill="#7cc1a0"/>
<path d="M1103 1272Q1104 1208 1106 1165Q1108 1208 1109 1272Z" fill="#92d1b0"/>
<path d="M1509 1272Q1503 1180 1500 1119Q1508 1180 1517 1272Z" fill="#a3e0c2"/>
<path d="M2226 1272Q2224 1220 2218 1186Q2229 1220 2232 1272Z" fill="#76bb99"/>
<path d="M1938 1272Q1941 1238 1945 1215Q1945 1238 1945 1272Z" fill="#8ccbaa"/>
<path d="M1986 1272Q1993 1246 2001 1228Q1997 1246 1992 1272Z" fill="#a6e3c6"/>
<path d="M952 1273Q955 1202 960 1155Q960 1202 959 1273Z" fill="#87c7a6"/>
<path d="M1919 1273Q1921 1253 1925 1239Q1926 1253 1928 1273Z" fill="#70b593"/>
<path d="M645 1273Q645 1234 634 1208Q650 1234 654 1273Z" fill="#76bb99"/>
<path d="M1665 1273Q1662 1215 1659 1176Q1666 1215 1670 1273Z" fill="#6cb190"/>
<path d="M1847 1273Q1846 1243 1839 1224Q1850 1243 1853 1273Z" fill="#80c5a3"/>
<path d="M1266 1273Q1258 1153 1250 1072Q1261 1153 1270 1273Z" fill="#70b593"/>
<path d="M301 1274Q303 1235 310 1209Q309 1235 309 1274Z" fill="#7cc1a0"/>
<path d="M943 1274Q929 1224 916 1191Q932 1224 948 1274Z" fill="#6cb190"/>
<path d="M1922 1274Q1926 1222 1944 1187Q1929 1222 1926 1274Z" fill="#70b593"/>
<path d="M519 1275Q511 1191 492 1135Q516 1191 526 1275Z" fill="#80c5a3"/>
<path d="M1551 1275Q1554 1241 1566 1218Q1558 1241 1557 1275Z" fill="#92d1b0"/>
<path d="M2504 1275Q2502 1253 2492 1238Q2506 1253 2511 1275Z" fill="#b0ebcf"/>
<path d="M1888 1275Q1889 1234 1883 1207Q1894 1234 1896 1275Z" fill="#76bb99"/>
<path d="M1787 1275Q1799 1202 1824 1153Q1801 1202 1791 1275Z" fill="#a9e6c9"/>
<path d="M837 1275Q834 1243 818 1221Q840 1243 845 1275Z" fill="#76bb99"/>
<path d="M1506 1276Q1507 1188 1510 1129Q1511 1188 1512 1276Z" fill="#7cc1a0"/>
<path d="M1361 1276Q1367 1246 1375 1227Q1373 1246 1370 1276Z" fill="#87c7a6"/>
<path d="M1637 1277Q1646 1245 1663 1224Q1650 1245 1644 1277Z" fill="#87c7a6"/>
<path d="M1436 1278Q1439 1244 1442 1221Q1443 1244 1442 1278Z" fill="#92d1b0"/>
<path d="M2072 1278Q2073 1252 2073 1235Q2077 1252 2078 1278Z" fill="#8ccbaa"/>
<path d="M983 1278Q988 1248 1003 1227Q993 1248 990 1278Z" fill="#a9e6c9"/>
<path d="M1637 1278Q1630 1207 1621 1159Q1634 1207 1643 1278Z" fill="#9edcbe"/>
<path d="M2251 1278Q2256 1231 2262 1199Q2260 1231 2257 1278Z" fill="#87c7a6"/>
<path d="M1723 1278Q1729 1235 1740 1206Q1733 1235 1729 1278Z" fill="#8ccbaa"/>
<path d="M2102 1278Q2103 1230 2103 1198Q2107 1230 2109 1278Z" fill="#a6e3c6"/>
<path d="M1419 1278Q1422 1218 1432 1179Q1426 1218 1424 1278Z" fill="#9edcbe"/>
<path d="M1824 1279Q1835 1199 1853 1145Q1840 1199 1833 1279Z" fill="#6cb190"/>
<path d="M2337 1279Q2339 1231 2346 1200Q2342 1231 2341 1279Z" fill="#b0ebcf"/>
<path d="M1085 1279Q1085 1193 1084 1135Q1091 1193 1094 1279Z" fill="#6cb190"/>
<path d="M476 1280Q477 1210 479 1163Q482 1210 483 1280Z" fill="#8ccbaa"/>
<path d="M831 1280Q835 1220 849 1181Q838 1220 836 1280Z" fill="#7cc1a0"/>
<path d="M1091 1280Q1090 1254 1090 1237Q1096 1254 1100 1280Z" fill="#7cc1a0"/>
<path d="M1391 1280Q1393 1243 1404 1218Q1396 1243 1396 1280Z" fill="#8ccbaa"/>
<path d="M2240 1280Q2237 1223 2205 1184Q2242 1223 2247 1280Z" fill="#6cb190"/>
<path d="M1555 1280Q1561 1243 1589 1219Q1567 1243 1564 1280Z" fill="#80c5a3"/>
<path d="M466 1280Q468 1226 473 1190Q473 1226 473 1280Z" fill="#a9e6c9"/>
<path d="M746 1280Q735 1225 721 1188Q740 1225 753 1280Z" fill="#a9e6c9"/>
<path d="M657 1280Q661 1246 684 1223Q663 1246 660 1280Z" fill="#80c5a3"/>
<path d="M2450 1281Q2458 1244 2470 1220Q2460 1244 2453 1281Z" fill="#70b593"/>
<path d="M1253 1281Q1267 1192 1287 1132Q1271 1192 1259 1281Z" fill="#70b593"/>
<path d="M777 1281Q749 1198 674 1142Q752 1198 781 1281Z" fill="#a6e3c6"/>
<path d="M1796 1281Q1796 1251 1796 1231Q1800 1251 1801 1281Z" fill="#76bb99"/>
<path d="M1959 1282Q1952 1240 1922 1213Q1956 1240 1965 1282Z" fill="#b0ebcf"/>
<path d="M1918 1282Q1911 1213 1899 1167Q1917 1213 1926 1282Z" fill="#a6e3c6"/>
<path d="M2050 1282Q2047 1236 2046 1205Q2050 1236 2055 1282Z" fill="#92d1b0"/>
<path d="M2213 1282Q2206 1219 2193 1177Q2211 1219 2221 1282Z" fill="#a6e3c6"/>
<path d="M2479 1282Q2494 1221 2506 1179Q2499 1221 2486 1282Z" fill="#70b593"/>
<path d="M1263 1282Q1277 1230 1294 1195Q1283 1230 1270 1282Z" fill="#a6e3c6"/>
<path d="M2242 1283Q2246 1238 2254 1208Q2252 1238 2251 1283Z" fill="#80c5a3"/>
<path d="M2095 1283Q2098 1183 2118 1116Q2101 1183 2099 1283Z" fill="#70b593"/>
<path d="M563 1283Q567 1239 572 1210Q572 1239 570 1283Z" fill="#8ccbaa"/>
<path d="M290 1283Q287 1249 282 1226Q291 1249 296 1283Z" fill="#70b593"/>
<path d="M1630 1283Q1639 1238 1648 1208Q1644 1238 1638 1283Z" fill="#87c7a6"/>
<path d="M2488 1283Q2487 1256 2488 1237Q2490 1256 2491 1283Z" fill="#92d1b0"/>
<path d="M436 1283Q435 1186 430 1120Q438 1186 440 1283Z" fill="#6cb190"/>
<path d="M1387 1283Q1388 1246 1391 1221Q1392 1246 1393 1283Z" fill="#87c7a6"/>
<path d="M1172 1283Q1184 1203 1214 1150Q1190 1203 1181 1283Z" fill="#8ccbaa"/>
<path d="M855 1283Q856 1223 859 1183Q860 1223 861 1283Z" fill="#80c5a3"/>
<path d="M639 1283Q634 1245 620 1220Q636 1245 642 1283Z" fill="#8ccbaa"/>
<path d="M2295 1284Q2252 1208 2219 1157Q2258 1208 2304 1284Z" fill="#9edcbe"/>
<path d="M1058 1284Q1060 1243 1064 1216Q1063 1243 1064 1284Z" fill="#87c7a6"/>
<path d="M845 1284Q865 1149 913 1059Q870 1149 852 1284Z" fill="#7cc1a0"/>
<path d="M363 1284Q363 1219 362 1176Q368 1219 371 1284Z" fill="#8ccbaa"/>
<path d="M915 1284Q916 1207 916 1155Q921 1207 923 1284Z" fill="#7cc1a0"/>
<path d="M2500 1284Q2500 1249 2502 1226Q2506 1249 2509 1284Z" fill="#8ccbaa"/>
<path d="M449 1284Q419 1237 398 1206Q423 1237 454 1284Z" fill="#80c5a3"/>
<path d="M2011 1284Q2016 1250 2030 1227Q2021 1250 2019 1284Z" fill="#a3e0c2"/>
<path d="M2130 1285Q2128 1232 2120 1197Q2131 1232 2135 1285Z" fill="#80c5a3"/>
<path d="M528 1285Q527 1257 526 1238Q530 1257 532 1285Z" fill="#76bb99"/>
<path d="M1312 1285Q1315 1256 1319 1237Q1319 1256 1318 1285Z" fill="#87c7a6"/>
<path d="M958 1285Q962 1190 975 1126Q964 1190 962 1285Z" fill="#8ccbaa"/>
<path d="M1594 1285Q1595 1220 1598 1177Q1600 1220 1601 1285Z" fill="#70b593"/>
<path d="M1385 1285Q1384 1257 1382 1239Q1389 1257 1392 1285Z" fill="#a3e0c2"/>
<path d="M1398 1285Q1400 1248 1410 1223Q1404 1248 1404 1285Z" fill="#a6e3c6"/>
<path d="M2067 1285Q2064 1238 2047 1206Q2069 1238 2075 1285Z" fill="#9edcbe"/>
<path d="M1968 1286Q1954 1221 1939 1178Q1956 1221 1972 1286Z" fill="#87c7a6"/>
<path d="M507 1286Q530 1222 564 1179Q535 1222 515 1286Z" fill="#a9e6c9"/>
<path d="M2264 1286Q2259 1241 2248 1211Q2262 1241 2267 1286Z" fill="#87c7a6"/>
<path d="M2339 1286Q2349 1204 2375 1150Q2354 1204 2346 1286Z" fill="#a9e6c9"/>
<path d="M1022 1286Q1031 1247 1050 1221Q1036 1247 1029 1286Z" fill="#87c7a6"/>
<path d="M1212 1286Q1209 1211 1179 1161Q1211 1211 1215 1286Z" fill="#a6e3c6"/>
<path d="M807 1286Q817 1184 825 1115Q821 1184 814 1286Z" fill="#70b593"/>
<path d="M2199 1286Q2187 1204 2171 1149Q2192 1204 2207 1286Z" fill="#92d1b0"/>
<path d="M1517 1286Q1521 1240 1529 1210Q1526 1240 1525 1286Z" fill="#92d1b0"/>
<path d="M2284 1287Q2285 1265 2287 1250Q2287 1265 2287 1287Z" fill="#87c7a6"/>
<path d="M959 1287Q963 1267 975 1255Q966 1267 964 1287Z" fill="#87c7a6"/>
<path d="M690 1287Q686 1227 674 1187Q690 1227 697 1287Z" fill="#80c5a3"/>
<path d="M1872 1287Q1866 1229 1858 1190Q1869 1229 1876 1287Z" fill="#70b593"/>
<path d="M1379 1287Q1379 1200 1380 1141Q1382 1200 1384 1287Z" fill="#8ccbaa"/>
<path d="M1176 1287Q1179 1267 1184 1253Q1184 1267 1184 1287Z" fill="#80c5a3"/>
<path d="M1656 1287Q1662 1218 1680 1172Q1668 1218 1664 1287Z" fill="#a3e0c2"/>
<path d="M335 1288Q366 1221 400 1176Q369 1221 340 1288Z" fill="#9edcbe"/>
<path d="M851 1288Q858 1227 872 1187Q863 1227 858 1288Z" fill="#a6e3c6"/>
<path d="M1190 1288Q1198 1200 1216 1142Q1202 1200 1196 1288Z" fill="#70b593"/>
<path d="M1832 1289Q1829 1247 1826 1219Q1834 1247 1839 1289Z" fill="#7cc1a0"/>
<path d="M2332 1289Q2329 1245 2328 1215Q2335 1245 2340 1289Z" fill="#87c7a6"/>
<path d="M1104 1289Q1118 1259 1140 1239Q1121 1259 1107 1289Z" fill="#87c7a6"/>
<path d="M641 1289Q644 1218 661 1171Q647 1218 645 1289Z" fill="#70b593"/>
<path d="M963 1289Q959 1241 955 1209Q963 1241 969 1289Z" fill="#70b593"/>
<path d="M1044 1289Q1022 1209 962 1155Q1024 1209 1048 1289Z" fill="#9edcbe"/>
<path d="M809 1290Q810 1252 810 1227Q813 1252 815 1290Z" fill="#9edcbe"/>
<path d="M1975 1290Q1976 1219 1978 1171Q1981 1219 1983 1290Z" fill="#a9e6c9"/>
<path d="M2490 1290Q2492 1266 2497 1250Q2497 1266 2497 1290Z" fill="#a3e0c2"/>
<path d="M2240 1290Q2269 1240 2292 1206Q2274 1240 2247 1290Z" fill="#6cb190"/>
<path d="M579 1291Q577 1269 575 1255Q580 1269 584 1291Z" fill="#9edcbe"/>
<path d="M2205 1291Q2224 1218 2244 1169Q2229 1218 2213 1291Z" fill="#92d1b0"/>
<path d="M2169 1291Q2174 1225 2197 1180Q2178 1225 2175 1291Z" fill="#76bb99"/>
<path d="M2145 1291Q2150 1204 2156 1147Q2154 1204 2151 1291Z" fill="#80c5a3"/>
<path d="M1930 1291Q1932 1272 1934 1259Q1934 1272 1934 1291Z" fill="#70b593"/>
<path d="M1084 1291Q1109 1221 1142 1174Q1113 1221 1090 1291Z" fill="#a6e3c6"/>
<path d="M1430 1292Q1431 1225 1433 1181Q1435 1225 1435 1292Z" fill="#87c7a6"/>
<path d="M1172 1292Q1181 1202 1220 1142Q1185 1202 1177 1292Z" fill="#70b593"/>
<path d="M893 1292Q900 1262 913 1243Q905 1262 901 1292Z" fill="#a6e3c6"/>
<path d="M586 1292Q585 1203 578 1144Q588 1203 591 1292Z" fill="#87c7a6"/>
<path d="M1457 1292Q1456 1219 1444 1171Q1458 1219 1460 1292Z" fill="#7cc1a0"/>
<path d="M1996 1293Q1993 1247 1987 1216Q1997 1247 2002 1293Z" fill="#70b593"/>
<path d="M457 1293Q459 1262 464 1240Q463 1262 462 1293Z" fill="#a3e0c2"/>
<path d="M1133 1293Q1138 1268 1145 1251Q1141 1268 1138 1293Z" fill="#a6e3c6"/>
<path d="M1461 1294Q1468 1266 1478 1247Q1474 1266 1470 1294Z" fill="#8ccbaa"/>
<path d="M1905 1294Q1907 1258 1914 1233Q1911 1258 1912 1294Z" fill="#8ccbaa"/>
<path d="M1936 1294Q1937 1245 1939 1213Q1941 1245 1942 1294Z" fill="#87c7a6"/>
<path d="M1310 1294Q1303 1226 1274 1180Q1306 1226 1314 1294Z" fill="#a3e0c2"/>
<path d="M1901 1294Q1905 1249 1912 1219Q1907 1249 1906 1294Z" fill="#9edcbe"/>
<path d="M2063 1294Q2065 1231 2071 1189Q2068 1231 2067 1294Z" fill="#80c5a3"/>
<path d="M1328 1294Q1330 1242 1333 1207Q1334 1242 1333 1294Z" fill="#80c5a3"/>
<path d="M605 1294Q610 1222 619 1173Q613 1222 610 1294Z" fill="#80c5a3"/>
<path d="M2244 1294Q2240 1251 2238 1222Q2246 1251 2252 1294Z" fill="#6cb190"/>
<path d="M1835 1294Q1840 1251 1856 1223Q1842 1251 1838 1294Z" fill="#92d1b0"/>
<path d="M1455 1295Q1450 1239 1445 1201Q1455 1239 1462 1295Z" fill="#b0ebcf"/>
<path d="M1989 1295Q1996 1253 2007 1225Q1998 1253 1992 1295Z" fill="#a9e6c9"/>
<path d="M2330 1295Q2337 1263 2347 1242Q2341 1263 2337 1295Z" fill="#7cc1a0"/>
<path d="M372 1295Q371 1248 369 1218Q374 1248 377 1295Z" fill="#76bb99"/>
<path d="M627 1295Q629 1254 636 1226Q635 1254 635 1295Z" fill="#87c7a6"/>
<path d="M2010 1296Q2011 1275 2014 1261Q2017 1275 2019 1296Z" fill="#80c5a3"/>
<path d="M459 1296Q453 1246 444 1212Q459 1246 467 1296Z" fill="#b0ebcf"/>
<path d="M2447 1296Q2454 1268 2465 1249Q2459 1268 2455 1296Z" fill="#a3e0c2"/>
<path d="M2221 1296Q2219 1248 2214 1216Q2222 1248 2225 1296Z" fill="#a9e6c9"/>
<path d="M480 1296Q478 1259 477 1234Q481 1259 485 1296Z" fill="#a9e6c9"/>
<path d="M2164 1296Q2165 1276 2167 1262Q2169 1276 2171 1296Z" fill="#7cc1a0"/>
<path d="M475 1297Q481 1250 508 1219Q484 1250 481 1297Z" fill="#92d1b0"/>
<path d="M553 1297Q538 1215 522 1160Q540 1215 557 1297Z" fill="#80c5a3"/>
<path d="M946 1297Q941 1257 932 1230Q946 1257 953 1297Z" fill="#8ccbaa"/>
<path d="M2173 1297Q2174 1205 2178 1144Q2177 1205 2178 1297Z" fill="#b0ebcf"/>
<path d="M866 1297Q866 1261 856 1236Q870 1261 872 1297Z" fill="#7cc1a0"/>
<path d="M529 1297Q539 1209 556 1150Q543 1209 535 1297Z" fill="#70b593"/>
<path d="M795 1297Q788 1257 781 1230Q792 1257 802 1297Z" fill="#92d1b0"/>
<path d="M1923 1297Q1915 1197 1869 1130Q1918 1197 1929 1297Z" fill="#8ccbaa"/>
<path d="M1764 1297Q1763 1224 1760 1176Q1766 1224 1768 1297Z" fill="#6cb190"/>
<path d="M2298 1297Q2303 1272 2311 1255Q2305 1272 2301 1297Z" fill="#b0ebcf"/>
<path d="M1934 1298Q1932 1232 1931 1188Q1935 1232 1938 1298Z" fill="#6cb190"/>
<path d="M1142 1298Q1144 1279 1148 1266Q1150 1279 1150 1298Z" fill="#7cc1a0"/>
<path d="M2082 1298Q2095 1187 2106 1112Q2100 1187 2090 1298Z" fill="#87c7a6"/>
<path d="M2105 1299Q2108 1233 2114 1190Q2110 1233 2108 1299Z" fill="#a3e0c2"/>
<path d="M1571 1299Q1575 1252 1598 1221Q1580 1252 1579 1299Z" fill="#a3e0c2"/>
<path d="M919 1299Q910 1242 906 1205Q915 1242 927 1299Z" fill="#76bb99"/>
<path d="M1854 1299Q1853 1265 1853 1243Q1856 1265 1859 1299Z" fill="#8ccbaa"/>
<path d="M2154 1300Q2162 1255 2168 1225Q2164 1255 2158 1300Z" fill="#a9e6c9"/>
<path d="M294 1300Q279 1255 269 1224Q283 1255 299 1300Z" fill="#87c7a6"/>
<path d="M2255 1300Q2253 1231 2253 1185Q2258 1231 2263 1300Z" fill="#a6e3c6"/>
<path d="M1208 1300Q1199 1238 1189 1197Q1204 1238 1215 1300Z" fill="#9edcbe"/>
<path d="M1008 1300Q972 1177 932 1095Q977 1177 1015 1300Z" fill="#8ccbaa"/>
<path d="M2150 1300Q2159 1227 2166 1178Q2163 1227 2156 1300Z" fill="#8ccbaa"/>
<path d="M1485 1300Q1492 1252 1521 1220Q1496 1252 1491 1300Z" fill="#a3e0c2"/>
<path d="M1721 1300Q1725 1251 1735 1218Q1730 1251 1729 1300Z" fill="#76bb99"/>
<path d="M1783 1301Q1789 1247 1796 1211Q1792 1247 1788 1301Z" fill="#87c7a6"/>
<path d="M2117 1301Q2119 1255 2127 1224Q2123 1255 2122 1301Z" fill="#8ccbaa"/>
<path d="M1924 1301Q1922 1251 1921 1217Q1927 1251 1932 1301Z" fill="#92d1b0"/>
<path d="M1594 1301Q1586 1250 1575 1215Q1589 1250 1599 1301Z" fill="#6cb190"/>
<path d="M454 1301Q459 1253 466 1220Q464 1253 461 1301Z" fill="#8ccbaa"/>
<path d="M2371 1302Q2357 1242 2348 1203Q2363 1242 2380 1302Z" fill="#8ccbaa"/>
<path d="M715 1302Q718 1262 721 1236Q720 1262 718 1302Z" fill="#87c7a6"/>
<path d="M1500 1302Q1500 1240 1494 1199Q1503 1240 1506 1302Z" fill="#70b593"/>
<path d="M2451 1302Q2459 1217 2469 1160Q2463 1217 2456 1302Z" fill="#9edcbe"/>
<path d="M2316 1303Q2314 1267 2310 1244Q2319 1267 2323 1303Z" fill="#a3e0c2"/>
<path d="M1093 1303Q1094 1271 1096 1250Q1100 1271 1102 1303Z" fill="#8ccbaa"/>
<path d="M1594 1304Q1595 1266 1595 1241Q1597 1266 1598 1304Z" fill="#8ccbaa"/>
<path d="M1851 1304Q1847 1280 1843 1264Q1849 1280 1854 1304Z" fill="#9edcbe"/>
<path d="M510 1304Q513 1261 519 1231Q516 1261 515 1304Z" fill="#7cc1a0"/>
<path d="M1114 1304Q1112 1264 1110 1237Q1116 1264 1120 1304Z" fill="#a3e0c2"/>
<path d="M1259 1305Q1250 1243 1236 1203Q1255 1243 1268 1305Z" fill="#7cc1a0"/>
<path d="M1015 1305Q1004 1203 991 1135Q1008 1203 1020 1305Z" fill="#a6e3c6"/>
<path d="M932 1305Q942 1215 968 1156Q946 1215 938 1305Z" fill="#b0ebcf"/>
<path d="M2369 1305Q2405 1213 2460 1151Q2411 1213 2377 1305Z" fill="#9edcbe"/>
<path d="M1224 1305Q1222 1237 1208 1192Q1224 1237 1227 1305Z" fill="#a6e3c6"/>
<path d="M284 1305Q283 1264 278 1236Q286 1264 289 1305Z" fill="#80c5a3"/>
<path d="M1943 1305Q1951 1260 1962 1230Q1954 1260 1948 1305Z" fill="#6cb190"/>
<path d="M291 1305Q281 1246 255 1206Q285 1246 298 1305Z" fill="#8ccbaa"/>
<path d="M617 1306Q613 1247 610 1208Q616 1247 621 1306Z" fill="#9edcbe"/>
<path d="M352 1306Q350 1217 339 1157Q355 1217 360 1306Z" fill="#76bb99"/>
<path d="M1479 1306Q1480 1280 1484 1262Q1485 1280 1486 1306Z" fill="#8ccbaa"/>
<path d="M898 1306Q904 1279 909 1261Q909 1279 905 1306Z" fill="#7cc1a0"/>
<path d="M532 1307Q530 1278 529 1258Q533 1278 536 1307Z" fill="#87c7a6"/>
<path d="M830 1307Q811 1223 795 1167Q814 1223 834 1307Z" fill="#a6e3c6"/>
<path d="M1292 1307Q1296 1284 1302 1269Q1301 1284 1299 1307Z" fill="#9edcbe"/>
<path d="M1929 1307Q1931 1280 1933 1261Q1933 1280 1933 1307Z" fill="#80c5a3"/>
<path d="M2274 1307Q2263 1235 2251 1186Q2267 1235 2280 1307Z" fill="#70b593"/>
<path d="M295 1307Q306 1225 315 1170Q310 1225 302 1307Z" fill="#92d1b0"/>
<path d="M971 1308Q969 1243 966 1199Q972 1243 976 1308Z" fill="#a9e6c9"/>
<path d="M1467 1308Q1490 1227 1523 1173Q1495 1227 1474 1308Z" fill="#8ccbaa"/>
<path d="M726 1308Q723 1209 702 1143Q727 1209 733 1308Z" fill="#9edcbe"/>
<path d="M346 1309Q341 1207 336 1139Q345 1207 352 1309Z" fill="#70b593"/>
<path d="M1350 1309Q1340 1254 1316 1217Q1343 1254 1355 1309Z" fill="#80c5a3"/>
<path d="M2434 1309Q2442 1231 2455 1179Q2446 1231 2439 1309Z" fill="#92d1b0"/>
<path d="M1108 1309Q1106 1276 1104 1254Q1110 1276 1115 1309Z" fill="#9edcbe"/>
<path d="M789 1310Q783 1236 741 1186Q786 1236 793 1310Z" fill="#80c5a3"/>
<path d="M465 1310Q462 1266 445 1237Q466 1266 472 1310Z" fill="#b0ebcf"/>
<path d="M1327 1310Q1325 1243 1320 1198Q1327 1243 1330 1310Z" fill="#8ccbaa"/>
<path d="M573 1310Q571 1280 568 1261Q573 1280 577 1310Z" fill="#70b593"/>
<path d="M2068 1310Q2089 1235 2111 1185Q2093 1235 2074 1310Z" fill="#70b593"/>
<path d="M2023 1310Q2021 1253 2020 1214Q2024 1253 2028 1310Z" fill="#7cc1a0"/>
<path d="M764 1311Q764 1257 756 1222Q766 1257 768 1311Z" fill="#80c5a3"/>
<path d="M2295 1311Q2292 1236 2290 1186Q2297 1236 2303 1311Z" fill="#76bb99"/>
<path d="M1235 1311Q1229 1272 1222 1247Q1231 1272 1238 1311Z" fill="#a6e3c6"/>
<path d="M1616 1311Q1609 1267 1600 1238Q1612 1267 1619 1311Z" fill="#87c7a6"/>
<path d="M670 1311Q681 1264 690 1232Q685 1264 677 1311Z" fill="#80c5a3"/>
<path d="M2467 1311Q2448 1246 2431 1203Q2453 1246 2474 1311Z" fill="#a9e6c9"/>
<path d="M810 1311Q811 1281 815 1261Q815 1281 816 1311Z" fill="#8ccbaa"/>
<path d="M1196 1311Q1189 1272 1159 1246Q1194 1272 1205 1311Z" fill="#76bb99"/>
<path d="M864 1311Q862 1266 862 1236Q868 1266 872 1311Z" fill="#b0ebcf"/>
<path d="M1181 1311Q1183 1281 1188 1261Q1186 1281 1186 1311Z" fill="#76bb99"/>
<path d="M326 1311Q336 1283 346 1264Q341 1283 334 1311Z" fill="#92d1b0"/>
<path d="M1268 1312Q1273 1245 1295 1201Q1277 1245 1274 1312Z" fill="#9edcbe"/>
<path d="M448 1312Q448 1285 442 1266Q452 1285 453 1312Z" fill="#b0ebcf"/>
<path d="M767 1312Q747 1236 735 1185Q753 1236 776 1312Z" fill="#7cc1a0"/>
<path d="M293 1313Q294 1266 296 1235Q296 1266 296 1313Z" fill="#70b593"/>
<path d="M2483 1313Q2488 1275 2511 1250Q2493 1275 2490 1313Z" fill="#a6e3c6"/>
<path d="M1782 1313Q1789 1272 1803 1244Q1791 1272 1786 1313Z" fill="#70b593"/>
<path d="M1424 1313Q1418 1256 1413 1219Q1422 1256 1429 1313Z" fill="#6cb190"/>
<path d="M1635 1313Q1640 1221 1648 1160Q1643 1221 1641 1313Z" fill="#a3e0c2"/>
<path d="M2470 1314Q2473 1259 2478 1222Q2478 1259 2478 1314Z" fill="#b0ebcf"/>
<path d="M1169 1314Q1173 1231 1178 1176Q1176 1231 1173 1314Z" fill="#6cb190"/>
<path d="M293 1314Q292 1270 288 1240Q297 1270 301 1314Z" fill="#b0ebcf"/>
<path d="M291 1314Q279 1258 256 1221Q284 1258 299 1314Z" fill="#92d1b0"/>
<path d="M1534 1315Q1536 1207 1539 1135Q1541 1207 1541 1315Z" fill="#80c5a3"/>
<path d="M1097 1315Q1112 1208 1124 1138Q1118 1208 1106 1315Z" fill="#70b593"/>
<path d="M872 1315Q866 1285 846 1264Q872 1285 880 1315Z" fill="#92d1b0"/>
<path d="M2068 1315Q2073 1271 2090 1241Q2077 1271 2074 1315Z" fill="#70b593"/>
<path d="M1323 1316Q1330 1281 1336 1259Q1335 1281 1330 1316Z" fill="#a6e3c6"/>
<path d="M1598 1316Q1599 1269 1600 1237Q1603 1269 1605 1316Z" fill="#a3e0c2"/>
<path d="M2190 1316Q2192 1225 2196 1165Q2197 1225 2197 1316Z" fill="#9edcbe"/>
<path d="M692 1316Q685 1258 677 1219Q689 1258 699 1316Z" fill="#80c5a3"/>
<path d="M1979 1316Q1974 1211 1970 1141Q1978 1211 1985 1316Z" fill="#70b593"/>
<path d="M1780 1316Q1783 1213 1791 1144Q1788 1213 1787 1316Z" fill="#b0ebcf"/>
<path d="M1004 1316Q1007 1237 1011 1184Q1010 1237 1008 1316Z" fill="#87c7a6"/>
<path d="M824 1317Q802 1264 777 1229Q807 1264 832 1317Z" fill="#87c7a6"/>
<path d="M1265 1317Q1269 1279 1285 1254Q1274 1279 1272 1317Z" fill="#76bb99"/>
<path d="M628 1317Q629 1244 632 1195Q632 1244 632 1317Z" fill="#a6e3c6"/>
<path d="M1283 1317Q1266 1257 1256 1217Q1271 1257 1290 1317Z" fill="#a3e0c2"/>
<path d="M1064 1317Q1062 1289 1058 1270Q1068 1289 1072 1317Z" fill="#80c5a3"/>
<path d="M2030 1317Q2032 1237 2044 1184Q2036 1237 2035 1317Z" fill="#a6e3c6"/>
<path d="M775 1317Q788 1204 833 1129Q790 1204 779 1317Z" fill="#b0ebcf"/>
<path d="M746 1318Q749 1272 754 1242Q754 1272 754 1318Z" fill="#70b593"/>
<path d="M2487 1318Q2486 1268 2485 1234Q2488 1268 2490 1318Z" fill="#87c7a6"/>
<path d="M1294 1318Q1295 1246 1298 1199Q1300 1246 1302 1318Z" fill="#6cb190"/>
<path d="M2441 1318Q2437 1231 2429 1173Q2443 1231 2449 1318Z" fill="#87c7a6"/>
<path d="M824 1318Q825 1288 827 1269Q830 1288 832 1318Z" fill="#92d1b0"/>
<path d="M1159 1318Q1172 1258 1196 1218Q1175 1258 1165 1318Z" fill="#a3e0c2"/>
<path d="M2372 1318Q2332 1183 2291 1093Q2335 1183 2377 1318Z" fill="#9edcbe"/>
<path d="M1805 1319Q1806 1263 1807 1226Q1808 1263 1809 1319Z" fill="#9edcbe"/>
<path d="M1480 1319Q1476 1281 1468 1255Q1480 1281 1485 1319Z" fill="#6cb190"/>
<path d="M1816 1319Q1810 1243 1804 1192Q1815 1243 1824 1319Z" fill="#6cb190"/>
<path d="M652 1320Q654 1274 661 1244Q657 1274 655 1320Z" fill="#a6e3c6"/>
<path d="M1198 1320Q1226 1244 1270 1193Q1230 1244 1204 1320Z" fill="#b0ebcf"/>
<path d="M895 1320Q902 1278 920 1251Q908 1278 903 1320Z" fill="#70b593"/>
<path d="M1326 1320Q1327 1249 1329 1202Q1333 1249 1335 1320Z" fill="#80c5a3"/>
<path d="M698 1320Q677 1233 664 1175Q680 1233 702 1320Z" fill="#70b593"/>
<path d="M414 1320Q414 1281 415 1255Q417 1281 417 1320Z" fill="#a3e0c2"/>
<path d="M1151 1321Q1157 1261 1163 1222Q1162 1261 1160 1321Z" fill="#7cc1a0"/>
<path d="M2033 1321Q2028 1263 2022 1225Q2033 1263 2041 1321Z" fill="#70b593"/>
<path d="M1367 1321Q1365 1218 1357 1149Q1370 1218 1375 1321Z" fill="#a6e3c6"/>
<path d="M324 1321Q318 1276 315 1245Q320 1276 327 1321Z" fill="#a6e3c6"/>
<path d="M399 1322Q407 1240 425 1186Q410 1240 403 1322Z" fill="#87c7a6"/>
<path d="M1160 1322Q1166 1288 1174 1265Q1169 1288 1165 1322Z" fill="#6cb190"/>
<path d="M1978 1322Q1983 1271 2004 1238Q1989 1271 1985 1322Z" fill="#8ccbaa"/>
<path d="M1477 1322Q1497 1262 1525 1223Q1502 1262 1484 1322Z" fill="#a6e3c6"/>
<path d="M497 1322Q497 1260 495 1219Q502 1260 505 1322Z" fill="#8ccbaa"/>
<path d="M2317 1322Q2284 1197 2211 1113Q2290 1197 2325 1322Z" fill="#92d1b0"/>
<path d="M2388 1322Q2388 1223 2385 1156Q2392 1223 2395 1322Z" fill="#92d1b0"/>
<path d="M452 1322Q462 1250 481 1202Q468 1250 460 1322Z" fill="#b0ebcf"/>
<path d="M1285 1323Q1281 1265 1272 1226Q1283 1265 1288 1323Z" fill="#7cc1a0"/>
<path d="M585 1323Q587 1255 600 1210Q589 1255 588 1323Z" fill="#a3e0c2"/>
<path d="M1854 1323Q1864 1288 1885 1265Q1870 1288 1863 1323Z" fill="#87c7a6"/>
<path d="M1079 1323Q1111 1229 1151 1166Q1116 1229 1086 1323Z" fill="#9edcbe"/>
<path d="M513 1323Q531 1269 550 1234Q535 1269 519 1323Z" fill="#a3e0c2"/>
<path d="M1064 1323Q1068 1221 1079 1153Q1071 1221 1068 1323Z" fill="#a6e3c6"/>
<path d="M2395 1323Q2392 1286 2381 1261Q2396 1286 2400 1323Z" fill="#80c5a3"/>
<path d="M1324 1324Q1328 1258 1337 1214Q1331 1258 1328 1324Z" fill="#6cb190"/>
<path d="M770 1324Q761 1265 747 1225Q765 1265 776 1324Z" fill="#a3e0c2"/>
<path d="M741 1324Q737 1257 734 1211Q741 1257 747 1324Z" fill="#87c7a6"/>
<path d="M2210 1325Q2225 1237 2245 1179Q2230 1237 2218 1325Z" fill="#a6e3c6"/>
<path d="M2080 1325Q2084 1288 2089 1263Q2088 1288 2086 1325Z" fill="#87c7a6"/>
<path d="M608 1325Q610 1253 613 1205Q612 1253 611 1325Z" fill="#80c5a3"/>
<path d="M950 1325Q940 1250 922 1200Q943 1250 954 1325Z" fill="#92d1b0"/>
<path d="M1115 1325Q1130 1243 1142 1188Q1134 1243 1121 1325Z" fill="#8ccbaa"/>
<path d="M657 1325Q643 1247 616 1195Q648 1247 665 1325Z" fill="#a6e3c6"/>
<path d="M2436 1325Q2453 1201 2467 1118Q2458 1201 2444 1325Z" fill="#92d1b0"/>
<path d="M1047 1325Q1052 1285 1057 1258Q1058 1285 1056 1325Z" fill="#9edcbe"/>
<path d="M1527 1326Q1529 1261 1532 1218Q1532 1261 1532 1326Z" fill="#92d1b0"/>
<path d="M691 1326Q681 1288 672 1263Q686 1288 698 1326Z" fill="#6cb190"/>
<path d="M1079 1326Q1082 1267 1101 1227Q1085 1267 1084 1326Z" fill="#80c5a3"/>
<path d="M667 1326Q667 1272 666 1236Q671 1272 673 1326Z" fill="#a9e6c9"/>
<path d="M1283 1326Q1291 1215 1304 1141Q1296 1215 1290 1326Z" fill="#b0ebcf"/>
<path d="M2147 1326Q2151 1287 2166 1261Q2155 1287 2154 1326Z" fill="#a9e6c9"/>
<path d="M1430 1326Q1444 1272 1456 1237Q1446 1272 1433 1326Z" fill="#87c7a6"/>
<path d="M2161 1326Q2157 1254 2149 1205Q2161 1254 2167 1326Z" fill="#8ccbaa"/>
<path d="M1608 1326Q1612 1230 1618 1167Q1614 1230 1612 1326Z" fill="#8ccbaa"/>
<path d="M2023 1326Q2014 1258 2001 1212Q2017 1258 2028 1326Z" fill="#7cc1a0"/>
<path d="M1676 1326Q1684 1208 1694 1129Q1689 1208 1683 1326Z" fill="#a6e3c6"/>
<path d="M457 1327Q461 1266 478 1226Q466 1266 465 1327Z" fill="#70b593"/>
<path d="M2462 1327Q2462 1277 2459 1245Q2464 1277 2466 1327Z" fill="#b0ebcf"/>
<path d="M896 1327Q917 1246 946 1192Q923 1246 905 1327Z" fill="#a3e0c2"/>
<path d="M572 1327Q581 1264 592 1223Q583 1264 576 1327Z" fill="#87c7a6"/>
<path d="M364 1327Q370 1250 387 1199Q376 1250 373 1327Z" fill="#6cb190"/>
<path d="M667 1328Q672 1285 679 1257Q676 1285 673 1328Z" fill="#7cc1a0"/>
<path d="M1612 1328Q1610 1276 1609 1242Q1615 1276 1619 1328Z" fill="#a9e6c9"/>
<path d="M1167 1328Q1158 1224 1146 1154Q1163 1224 1175 1328Z" fill="#6cb190"/>
<path d="M2193 1328Q2205 1280 2223 1247Q2207 1280 2197 1328Z" fill="#a9e6c9"/>
<path d="M416 1328Q404 1256 395 1207Q409 1256 422 1328Z" fill="#70b593"/>
<path d="M698 1329Q699 1234 703 1171Q702 1234 702 1329Z" fill="#76bb99"/>
<path d="M993 1329Q997 1267 1008 1226Q1003 1267 1001 1329Z" fill="#b0ebcf"/>
<path d="M1426 1329Q1431 1261 1443 1216Q1434 1261 1431 1329Z" fill="#a6e3c6"/>
<path d="M2474 1329Q2479 1292 2483 1267Q2481 1292 2478 1329Z" fill="#a3e0c2"/>
<path d="M1426 1329Q1431 1288 1439 1260Q1436 1288 1434 1329Z" fill="#a3e0c2"/>
<path d="M2439 1329Q2446 1249 2480 1195Q2451 1249 2446 1329Z" fill="#92d1b0"/>
<path d="M1014 1329Q995 1230 957 1163Q1000 1230 1022 1329Z" fill="#8ccbaa"/>
<path d="M1091 1329Q1086 1277 1076 1243Q1089 1277 1095 1329Z" fill="#92d1b0"/>
<path d="M735 1330Q743 1279 762 1245Q747 1279 741 1330Z" fill="#70b593"/>
<path d="M936 1330Q951 1236 968 1173Q956 1236 943 1330Z" fill="#8ccbaa"/>
<path d="M2302 1330Q2306 1293 2312 1268Q2311 1293 2310 1330Z" fill="#87c7a6"/>
<path d="M2314 1330Q2312 1251 2303 1199Q2316 1251 2321 1330Z" fill="#87c7a6"/>
<path d="M1823 1330Q1843 1260 1868 1213Q1846 1260 1829 1330Z" fill="#92d1b0"/>
<path d="M2149 1330Q2153 1291 2166 1265Q2159 1291 2158 1330Z" fill="#a3e0c2"/>
<path d="M1880 1330Q1899 1244 1939 1186Q1902 1244 1885 1330Z" fill="#8ccbaa"/>
<path d="M2250 1330Q2260 1287 2270 1257Q2266 1287 2259 1330Z" fill="#a3e0c2"/>
<path d="M1346 1330Q1356 1278 1403 1244Q1363 1278 1356 1330Z" fill="#9edcbe"/>
<path d="M2166 1331Q2153 1212 2141 1133Q2157 1212 2173 1331Z" fill="#87c7a6"/>
<path d="M949 1331Q965 1259 988 1211Q973 1259 961 1331Z" fill="#8ccbaa"/>
<path d="M2314 1331Q2313 1286 2298 1256Q2318 1286 2322 1331Z" fill="#92d1b0"/>
<path d="M1948 1331Q1967 1277 2008 1242Q1973 1277 1958 1331Z" fill="#80c5a3"/>
<path d="M519 1331Q500 1259 486 1210Q505 1259 527 1331Z" fill="#a3e0c2"/>
<path d="M427 1332Q416 1251 409 1198Q420 1251 433 1332Z" fill="#92d1b0"/>
<path d="M2489 1332Q2486 1253 2475 1200Q2494 1253 2501 1332Z" fill="#76bb99"/>
<path d="M929 1332Q916 1219 892 1144Q919 1219 935 1332Z" fill="#87c7a6"/>
<path d="M2286 1332Q2285 1243 2276 1183Q2290 1243 2293 1332Z" fill="#92d1b0"/>
<path d="M1628 1332Q1642 1282 1660 1249Q1648 1282 1637 1332Z" fill="#87c7a6"/>
<path d="M1858 1332Q1874 1265 1896 1219Q1882 1265 1870 1332Z" fill="#a3e0c2"/>
<path d="M412 1332Q413 1273 418 1234Q417 1273 417 1332Z" fill="#80c5a3"/>
<path d="M1626 1333Q1625 1251 1612 1196Q1632 1251 1637 1333Z" fill="#76bb99"/>
<path d="M383 1333Q378 1274 358 1235Q382 1274 389 1333Z" fill="#8ccbaa"/>
<path d="M1419 1333Q1435 1209 1464 1126Q1443 1209 1432 1333Z" fill="#6cb190"/>
<path d="M1139 1333Q1140 1224 1134 1150Q1148 1224 1151 1333Z" fill="#6cb190"/>
<path d="M1553 1334Q1554 1255 1554 1202Q1560 1255 1562 1334Z" fill="#8ccbaa"/>
<path d="M312 1334Q309 1189 294 1092Q316 1189 323 1334Z" fill="#80c5a3"/>
<path d="M2469 1334Q2464 1222 2439 1147Q2470 1222 2477 1334Z" fill="#87c7a6"/>
<path d="M2170 1334Q2170 1293 2171 1265Q2177 1293 2180 1334Z" fill="#9edcbe"/>
<path d="M1332 1334Q1333 1287 1336 1256Q1341 1287 1344 1334Z" fill="#a6e3c6"/>
<path d="M673 1334Q725 1188 774 1091Q734 1188 686 1334Z" fill="#80c5a3"/>
<path d="M351 1335Q357 1288 364 1257Q361 1288 358 1335Z" fill="#7cc1a0"/>
<path d="M2113 1335Q2089 1260 2040 1210Q2097 1260 2125 1335Z" fill="#b0ebcf"/>
<path d="M479 1335Q477 1293 472 1266Q482 1293 487 1335Z" fill="#70b593"/>
<path d="M1210 1335Q1219 1261 1245 1211Q1224 1261 1219 1335Z" fill="#76bb99"/>
<path d="M1007 1335Q988 1252 964 1196Q991 1252 1012 1335Z" fill="#6cb190"/>
<path d="M1746 1335Q1746 1243 1742 1182Q1750 1243 1752 1335Z" fill="#b0ebcf"/>
<path d="M784 1335Q788 1291 805 1261Q795 1291 794 1335Z" fill="#7cc1a0"/>
<path d="M937 1336Q933 1257 922 1205Q939 1257 945 1336Z" fill="#6cb190"/>
<path d="M2493 1336Q2484 1215 2472 1134Q2491 1215 2504 1336Z" fill="#7cc1a0"/>
<path d="M407 1336Q411 1295 429 1267Q418 1295 416 1336Z" fill="#70b593"/>
<path d="M752 1336Q740 1296 726 1269Q748 1296 765 1336Z" fill="#9edcbe"/>
<path d="M1566 1336Q1568 1281 1573 1244Q1575 1281 1576 1336Z" fill="#9edcbe"/>
<path d="M2494 1336Q2489 1269 2480 1225Q2495 1269 2503 1336Z" fill="#92d1b0"/>
<path d="M1772 1336Q1776 1288 1784 1256Q1784 1288 1784 1336Z" fill="#a3e0c2"/>
<path d="M754 1336Q754 1238 752 1173Q758 1238 759 1336Z" fill="#92d1b0"/>
<path d="M593 1337Q603 1208 622 1122Q610 1208 603 1337Z" fill="#9edcbe"/>
<path d="M913 1337Q920 1289 936 1257Q923 1289 917 1337Z" fill="#76bb99"/>
<path d="M1911 1337Q1911 1290 1912 1259Q1916 1290 1918 1337Z" fill="#80c5a3"/>
<path d="M2478 1338Q2482 1281 2488 1243Q2490 1281 2491 1338Z" fill="#8ccbaa"/>
<path d="M1935 1338Q1929 1261 1898 1210Q1934 1261 1942 1338Z" fill="#b0ebcf"/>
<path d="M2119 1338Q2104 1208 2071 1122Q2112 1208 2132 1338Z" fill="#70b593"/>
<path d="M970 1338Q967 1203 945 1114Q974 1203 981 1338Z" fill="#76bb99"/>
<path d="M2321 1338Q2315 1270 2302 1224Q2319 1270 2328 1338Z" fill="#9edcbe"/>
<path d="M952 1338Q950 1196 937 1102Q954 1196 958 1338Z" fill="#9edcbe"/>
<path d="M2195 1338Q2193 1271 2181 1226Q2202 1271 2208 1338Z" fill="#a9e6c9"/>
<path d="M1587 1338Q1615 1235 1639 1167Q1621 1235 1596 1338Z" fill="#80c5a3"/>
<path d="M1309 1338Q1308 1275 1308 1233Q1313 1275 1318 1338Z" fill="#7cc1a0"/>
<path d="M679 1338Q675 1234 662 1164Q679 1234 686 1338Z" fill="#92d1b0"/>
<path d="M1429 1339Q1432 1251 1439 1192Q1438 1251 1437 1339Z" fill="#87c7a6"/>
<path d="M1864 1339Q1870 1243 1881 1179Q1877 1243 1874 1339Z" fill="#a6e3c6"/>
<path d="M2271 1339Q2281 1279 2298 1239Q2287 1279 2280 1339Z" fill="#9edcbe"/>
<path d="M1160 1339Q1149 1213 1145 1129Q1158 1213 1173 1339Z" fill="#a3e0c2"/>
<path d="M1862 1339Q1924 1230 1976 1157Q1930 1230 1871 1339Z" fill="#a6e3c6"/>
<path d="M1051 1340Q1043 1229 1026 1155Q1049 1229 1059 1340Z" fill="#6cb190"/>
<path d="M1839 1340Q1851 1246 1865 1183Q1855 1246 1845 1340Z" fill="#87c7a6"/>
<path d="M2476 1341Q2468 1248 2432 1186Q2474 1248 2485 1341Z" fill="#70b593"/>
<path d="M2446 1341Q2495 1221 2532 1141Q2501 1221 2456 1341Z" fill="#6cb190"/>
<path d="M1043 1341Q1061 1265 1078 1215Q1065 1265 1049 1341Z" fill="#a3e0c2"/>
<path d="M1519 1341Q1564 1228 1619 1152Q1572 1228 1531 1341Z" fill="#80c5a3"/>
<path d="M2108 1341Q2098 1287 2086 1251Q2103 1287 2115 1341Z" fill="#92d1b0"/>
<path d="M2324 1341Q2321 1251 2302 1190Q2329 1251 2336 1341Z" fill="#7cc1a0"/>
<path d="M2120 1341Q2114 1283 2102 1243Q2123 1283 2133 1341Z" fill="#76bb99"/>
<path d="M2298 1342Q2315 1266 2339 1215Q2319 1266 2305 1342Z" fill="#b0ebcf"/>
<path d="M871 1342Q860 1239 842 1170Q864 1239 876 1342Z" fill="#b0ebcf"/>
<path d="M1389 1343Q1403 1257 1434 1200Q1411 1257 1402 1343Z" fill="#a6e3c6"/>
<path d="M1335 1343Q1344 1234 1353 1162Q1349 1234 1343 1343Z" fill="#76bb99"/>
<path d="M2343 1343Q2333 1288 2307 1252Q2336 1288 2348 1343Z" fill="#8ccbaa"/>
<path d="M2105 1343Q2066 1224 2003 1144Q2070 1224 2111 1343Z" fill="#70b593"/>
<path d="M1449 1343Q1448 1238 1447 1168Q1452 1238 1455 1343Z" fill="#9edcbe"/>
<path d="M1256 1343Q1253 1277 1237 1233Q1257 1277 1261 1343Z" fill="#80c5a3"/>
<path d="M1162 1343Q1182 1236 1237 1164Q1188 1236 1171 1343Z" fill="#70b593"/>
<path d="M1814 1343Q1823 1296 1840 1264Q1831 1296 1826 1343Z" fill="#a3e0c2"/>
<path d="M706 1343Q716 1182 724 1074Q719 1182 710 1343Z" fill="#9edcbe"/>
<path d="M396 1344Q399 1273 404 1225Q402 1273 400 1344Z" fill="#a6e3c6"/>
<path d="M663 1344Q673 1281 689 1239Q676 1281 668 1344Z" fill="#6cb190"/>
<path d="M2329 1344Q2319 1289 2305 1253Q2325 1289 2338 1344Z" fill="#92d1b0"/>
<path d="M947 1344Q951 1288 966 1250Q956 1288 955 1344Z" fill="#6cb190"/>
<path d="M2420 1344Q2423 1271 2428 1223Q2430 1271 2430 1344Z" fill="#6cb190"/>
<path d="M1183 1344Q1189 1287 1197 1249Q1194 1287 1191 1344Z" fill="#70b593"/>
<path d="M802 1344Q816 1242 849 1174Q820 1242 808 1344Z" fill="#80c5a3"/>
<path d="M801 1345Q779 1236 759 1162Q787 1236 812 1345Z" fill="#6cb190"/>
<path d="M2154 1346Q2166 1229 2217 1151Q2174 1229 2166 1346Z" fill="#a6e3c6"/>
<path d="M679 1346Q673 1262 671 1206Q681 1262 691 1346Z" fill="#76bb99"/>
<path d="M903 1346Q917 1242 938 1173Q924 1242 912 1346Z" fill="#80c5a3"/>
<path d="M533 1346Q531 1299 516 1267Q537 1299 542 1346Z" fill="#87c7a6"/>
<path d="M1096 1346Q1104 1300 1118 1268Q1112 1300 1108 1346Z" fill="#92d1b0"/>
<path d="M1091 1346Q1106 1183 1165 1074Q1112 1183 1100 1346Z" fill="#6cb190"/>
<path d="M296 1346Q297 1266 303 1212Q300 1266 301 1346Z" fill="#a6e3c6"/>
<path d="M904 1347Q922 1265 953 1210Q927 1265 912 1347Z" fill="#92d1b0"/>
<path d="M1381 1347Q1392 1249 1416 1184Q1399 1249 1392 1347Z" fill="#9edcbe"/>
<path d="M591 1347Q596 1258 627 1198Q604 1258 603 1347Z" fill="#6cb190"/>
<path d="M2080 1347Q2066 1266 2050 1212Q2074 1266 2093 1347Z" fill="#a3e0c2"/>
<path d="M2458 1348Q2482 1238 2511 1165Q2488 1238 2466 1348Z" fill="#7cc1a0"/>
<path d="M2244 1348Q2250 1268 2257 1215Q2254 1268 2250 1348Z" fill="#a9e6c9"/>
<path d="M1025 1348Q1027 1297 1031 1263Q1035 1297 1037 1348Z" fill="#92d1b0"/>
<path d="M573 1348Q569 1248 549 1182Q576 1248 583 1348Z" fill="#92d1b0"/>
<path d="M1119 1348Q1121 1184 1122 1074Q1128 1184 1131 1348Z" fill="#80c5a3"/>
<path d="M1876 1348Q1891 1225 1949 1143Q1898 1225 1885 1348Z" fill="#9edcbe"/>
<path d="M1916 1348Q1918 1215 1925 1127Q1921 1215 1921 1348Z" fill="#70b593"/>
<path d="M1756 1349Q1755 1212 1752 1120Q1763 1212 1769 1349Z" fill="#8ccbaa"/>
<path d="M1843 1349Q1841 1241 1825 1170Q1844 1241 1847 1349Z" fill="#8ccbaa"/>
<path d="M2070 1349Q2072 1231 2078 1152Q2077 1231 2077 1349Z" fill="#b0ebcf"/>
<path d="M1414 1349Q1394 1225 1370 1143Q1401 1225 1424 1349Z" fill="#a9e6c9"/>
<path d="M1263 1349Q1290 1252 1317 1187Q1297 1252 1273 1349Z" fill="#8ccbaa"/>
<path d="M1438 1349Q1463 1236 1527 1161Q1466 1236 1444 1349Z" fill="#87c7a6"/>
<path d="M2374 1349Q2385 1206 2405 1111Q2393 1206 2386 1349Z" fill="#a6e3c6"/>
<path d="M1087 1349Q1095 1258 1135 1197Q1102 1258 1096 1349Z" fill="#92d1b0"/>
<path d="M518 1349Q525 1285 549 1243Q532 1285 528 1349Z" fill="#a3e0c2"/>
<path d="M1779 1349Q1791 1244 1825 1173Q1798 1244 1789 1349Z" fill="#6cb190"/>
<path d="M735 1350Q738 1300 752 1266Q743 1300 742 1350Z" fill="#76bb99"/>
<path d="M821 1350Q807 1238 800 1164Q815 1238 834 1350Z" fill="#76bb99"/>
<path d="M1655 1350Q1644 1231 1625 1151Q1650 1231 1664 1350Z" fill="#80c5a3"/>
<path d="M1480 1350Q1497 1245 1527 1175Q1502 1245 1488 1350Z" fill="#a9e6c9"/>
<path d="M551 1351Q550 1200 542 1100Q556 1200 561 1351Z" fill="#76bb99"/>
<path d="M980 1351Q977 1275 972 1224Q981 1275 987 1351Z" fill="#92d1b0"/>
<path d="M1400 1351Q1399 1271 1396 1217Q1405 1271 1408 1351Z" fill="#6cb190"/>
<path d="M695 1351Q725 1189 753 1081Q730 1189 702 1351Z" fill="#8ccbaa"/>
<path d="M1222 1351Q1215 1293 1184 1255Q1219 1293 1229 1351Z" fill="#6cb190"/>
<path d="M2276 1352Q2269 1278 2253 1229Q2276 1278 2286 1352Z" fill="#87c7a6"/>
<path d="M747 1352Q758 1244 775 1173Q763 1244 753 1352Z" fill="#b0ebcf"/>
<path d="M1443 1352Q1447 1277 1453 1226Q1453 1277 1452 1352Z" fill="#7cc1a0"/>
<path d="M1506 1352Q1509 1217 1520 1127Q1514 1217 1514 1352Z" fill="#80c5a3"/>
<path d="M598 1353Q584 1258 573 1194Q587 1258 603 1353Z" fill="#87c7a6"/>
<path d="M2151 1353Q2155 1252 2179 1185Q2162 1252 2161 1353Z" fill="#7cc1a0"/>
<path d="M1352 1353Q1353 1198 1354 1094Q1356 1198 1356 1353Z" fill="#80c5a3"/>
<path d="M1247 1353Q1247 1234 1245 1154Q1251 1234 1252 1353Z" fill="#7cc1a0"/>
<path d="M601 1353Q593 1272 570 1218Q596 1272 605 1353Z" fill="#a6e3c6"/>
<path d="M1002 1353Q991 1245 974 1173Q999 1245 1014 1353Z" fill="#70b593"/>
<path d="M1305 1354Q1291 1286 1279 1241Q1294 1286 1310 1354Z" fill="#7cc1a0"/>
<path d="M282 1354Q277 1302 274 1268Q284 1302 293 1354Z" fill="#7cc1a0"/>
<path d="M2497 1354Q2512 1288 2536 1245Q2517 1288 2504 1354Z" fill="#b0ebcf"/>
<path d="M2119 1354Q2120 1297 2125 1259Q2123 1297 2123 1354Z" fill="#a3e0c2"/>
<path d="M2365 1354Q2354 1280 2338 1230Q2359 1280 2372 1354Z" fill="#76bb99"/>
<path d="M473 1354Q485 1217 500 1126Q492 1217 484 1354Z" fill="#a9e6c9"/>
<path d="M722 1355Q725 1255 740 1188Q728 1255 727 1355Z" fill="#8ccbaa"/>
<path d="M1345 1355Q1337 1264 1329 1204Q1344 1264 1355 1355Z" fill="#92d1b0"/>
<path d="M1116 1355Q1120 1294 1143 1253Q1126 1294 1124 1355Z" fill="#a3e0c2"/>
<path d="M1081 1355Q1088 1275 1097 1221Q1096 1275 1092 1355Z" fill="#8ccbaa"/>
<path d="M2089 1355Q2124 1241 2160 1164Q2131 1241 2100 1355Z" fill="#92d1b0"/>
<path d="M1362 1355Q1357 1252 1336 1183Q1360 1252 1366 1355Z" fill="#7cc1a0"/>
<path d="M2377 1355Q2329 1217 2291 1124Q2335 1217 2386 1355Z" fill="#9edcbe"/>
<path d="M617 1356Q638 1278 667 1226Q644 1278 625 1356Z" fill="#92d1b0"/>
<path d="M410 1356Q411 1275 414 1221Q419 1275 422 1356Z" fill="#a9e6c9"/>
<path d="M479 1356Q454 1257 437 1191Q462 1257 491 1356Z" fill="#9edcbe"/>
<path d="M2404 1356Q2405 1204 2402 1103Q2409 1204 2412 1356Z" fill="#a9e6c9"/>
<path d="M982 1356Q989 1250 1015 1180Q995 1250 991 1356Z" fill="#92d1b0"/>
<path d="M2388 1356Q2408 1279 2432 1228Q2412 1279 2393 1356Z" fill="#a9e6c9"/>
<path d="M571 1356Q583 1252 631 1183Q590 1252 582 1356Z" fill="#a6e3c6"/>
<path d="M667 1357Q678 1247 702 1173Q686 1247 679 1357Z" fill="#b0ebcf"/>
<path d="M1471 1357Q1433 1275 1392 1220Q1437 1275 1476 1357Z" fill="#9edcbe"/>
<path d="M1038 1357Q1035 1286 1022 1238Q1041 1286 1047 1357Z" fill="#7cc1a0"/>
<path d="M1074 1357Q1075 1259 1072 1194Q1080 1259 1083 1357Z" fill="#8ccbaa"/>
<path d="M445 1357Q454 1226 476 1139Q460 1226 455 1357Z" fill="#9edcbe"/>
<path d="M2446 1357Q2435 1285 2413 1237Q2440 1285 2454 1357Z" fill="#92d1b0"/>
<path d="M1333 1357Q1364 1300 1387 1263Q1370 1300 1342 1357Z" fill="#a6e3c6"/>
<path d="M868 1357Q881 1244 898 1169Q885 1244 875 1357Z" fill="#92d1b0"/>
<path d="M1991 1357Q2012 1297 2044 1257Q2020 1297 2003 1357Z" fill="#a6e3c6"/>
<path d="M665 1358Q664 1271 666 1214Q673 1271 678 1358Z" fill="#8ccbaa"/>
<path d="M1265 1358Q1277 1243 1376 1166Q1282 1243 1272 1358Z" fill="#87c7a6"/>
<path d="M586 1358Q603 1259 617 1193Q610 1259 596 1358Z" fill="#7cc1a0"/>
<path d="M499 1358Q493 1271 472 1213Q502 1271 512 1358Z" fill="#8ccbaa"/>
<path d="M1400 1358Q1408 1262 1419 1198Q1414 1262 1409 1358Z" fill="#92d1b0"/>
<path d="M2458 1358Q2463 1282 2472 1231Q2466 1282 2463 1358Z" fill="#9edcbe"/>
<path d="M1610 1358Q1619 1248 1644 1174Q1625 1248 1619 1358Z" fill="#80c5a3"/>
<path d="M1194 1358Q1200 1305 1222 1270Q1206 1305 1203 1358Z" fill="#a6e3c6"/>
<path d="M724 1359Q729 1299 753 1259Q738 1299 736 1359Z" fill="#a9e6c9"/>
<path d="M2049 1359Q2041 1271 2025 1212Q2046 1271 2057 1359Z" fill="#92d1b0"/>
<path d="M2352 1359Q2314 1218 2276 1124Q2322 1218 2364 1359Z" fill="#87c7a6"/>
<path d="M1635 1359Q1630 1274 1624 1217Q1637 1274 1645 1359Z" fill="#7cc1a0"/>
<path d="M478 1359Q465 1259 447 1193Q469 1259 483 1359Z" fill="#a9e6c9"/>
<path d="M2113 1359Q2112 1267 2102 1205Q2117 1267 2120 1359Z" fill="#7cc1a0"/>
<path d="M1650 1360Q1657 1281 1672 1228Q1663 1281 1659 1360Z" fill="#9edcbe"/>
<path d="M2101 1360Q2067 1278 2023 1223Q2070 1278 2106 1360Z" fill="#92d1b0"/>
<path d="M294 1360Q285 1281 277 1228Q288 1281 299 1360Z" fill="#76bb99"/>
<path d="M657 1360Q656 1242 652 1163Q662 1242 666 1360Z" fill="#76bb99"/>
<path d="M571 1360Q572 1286 574 1236Q577 1286 578 1360Z" fill="#80c5a3"/>
<path d="M1831 1360Q1823 1263 1819 1197Q1827 1263 1836 1360Z" fill="#a9e6c9"/>
<path d="M913 1361Q895 1253 881 1181Q901 1253 922 1361Z" fill="#8ccbaa"/>
<path d="M2075 1361Q2064 1259 2007 1191Q2070 1259 2085 1361Z" fill="#70b593"/>
<path d="M1467 1361Q1480 1283 1504 1231Q1489 1283 1479 1361Z" fill="#70b593"/>
<path d="M1385 1361Q1416 1290 1445 1242Q1423 1290 1395 1361Z" fill="#6cb190"/>
<path d="M510 1361Q509 1288 504 1240Q513 1288 516 1361Z" fill="#70b593"/>
<path d="M620 1362Q631 1243 649 1164Q639 1243 632 1362Z" fill="#87c7a6"/>
<path d="M552 1362Q541 1267 522 1204Q545 1267 558 1362Z" fill="#a9e6c9"/>
<path d="M915 1362Q923 1301 939 1261Q928 1301 922 1362Z" fill="#a9e6c9"/>
<path d="M2465 1362Q2483 1238 2537 1156Q2490 1238 2475 1362Z" fill="#6cb190"/>
<path d="M2085 1362Q2078 1250 2046 1175Q2081 1250 2090 1362Z" fill="#87c7a6"/>
<path d="M776 1362Q787 1268 819 1205Q793 1268 785 1362Z" fill="#a6e3c6"/>
<path d="M1604 1362Q1582 1282 1560 1229Q1587 1282 1611 1362Z" fill="#a9e6c9"/>
<path d="M1126 1362Q1134 1287 1146 1237Q1138 1287 1133 1362Z" fill="#80c5a3"/>
<path d="M1490 1362Q1490 1250 1491 1175Q1494 1250 1495 1362Z" fill="#a3e0c2"/>
<path d="M562 1363Q551 1267 533 1204Q557 1267 571 1363Z" fill="#a3e0c2"/>
<path d="M360 1363Q360 1281 362 1227Q368 1281 372 1363Z" fill="#b0ebcf"/>
<path d="M2417 1363Q2453 1198 2483 1088Q2461 1198 2429 1363Z" fill="#6cb190"/>
<path d="M622 1363Q628 1273 636 1212Q630 1273 626 1363Z" fill="#6cb190"/>
<path d="M919 1364Q897 1255 881 1182Q905 1255 932 1364Z" fill="#70b593"/>
<path d="M298 1364Q292 1243 290 1162Q299 1243 310 1364Z" fill="#9edcbe"/>
<path d="M2381 1364Q2383 1266 2387 1201Q2389 1266 2389 1364Z" fill="#76bb99"/>
<path d="M2314 1364Q2316 1294 2321 1246Q2325 1294 2327 1364Z" fill="#87c7a6"/>
<path d="M2313 1365Q2328 1266 2349 1201Q2337 1266 2325 1365Z" fill="#8ccbaa"/>
<path d="M1036 1365Q1038 1263 1040 1195Q1041 1263 1042 1365Z" fill="#a3e0c2"/>
<path d="M405 1365Q404 1269 399 1205Q411 1269 416 1365Z" fill="#80c5a3"/>
<path d="M1456 1365Q1446 1268 1425 1204Q1450 1268 1461 1365Z" fill="#a6e3c6"/>
<path d="M2079 1365Q2065 1228 2035 1136Q2069 1228 2085 1365Z" fill="#8ccbaa"/>
<path d="M2161 1365Q2137 1249 2112 1172Q2146 1249 2173 1365Z" fill="#76bb99"/>
<path d="M2001 1365Q2009 1239 2059 1154Q2014 1239 2010 1365Z" fill="#a3e0c2"/>
<path d="M888 1365Q893 1278 902 1220Q899 1278 898 1365Z" fill="#b0ebcf"/>
<path d="M1626 1366Q1642 1249 1660 1171Q1648 1249 1635 1366Z" fill="#87c7a6"/>
<path d="M2196 1366Q2179 1216 2122 1116Q2186 1216 2206 1366Z" fill="#7cc1a0"/>
<path d="M1691 1366Q1685 1192 1656 1077Q1691 1192 1699 1366Z" fill="#a3e0c2"/>
<path d="M1011 1366Q1005 1239 999 1154Q1010 1239 1019 1366Z" fill="#76bb99"/>
<path d="M1773 1366Q1773 1223 1774 1128Q1779 1223 1781 1366Z" fill="#a6e3c6"/>
<path d="M995 1366Q1000 1301 1009 1258Q1008 1301 1008 1366Z" fill="#a9e6c9"/>
<path d="M724 1366Q713 1289 683 1238Q718 1289 732 1366Z" fill="#70b593"/>
<path d="M438 1367Q452 1289 466 1238Q458 1289 447 1367Z" fill="#92d1b0"/>
<path d="M2077 1367Q2076 1246 2070 1166Q2082 1246 2086 1367Z" fill="#87c7a6"/>
<path d="M346 1368Q321 1210 289 1105Q330 1210 359 1368Z" fill="#7cc1a0"/>
<path d="M790 1368Q786 1298 772 1251Q794 1298 801 1368Z" fill="#b0ebcf"/>
<path d="M1448 1368Q1454 1276 1471 1215Q1457 1276 1453 1368Z" fill="#a3e0c2"/>
<path d="M2066 1368Q2080 1252 2125 1175Q2089 1252 2079 1368Z" fill="#80c5a3"/>
<path d="M1694 1368Q1688 1251 1685 1173Q1691 1251 1698 1368Z" fill="#80c5a3"/>
<path d="M333 1368Q314 1296 301 1249Q323 1296 346 1368Z" fill="#7cc1a0"/>
<path d="M1987 1369Q1983 1269 1980 1202Q1988 1269 1994 1369Z" fill="#a9e6c9"/>
<path d="M1040 1369Q1033 1261 1024 1189Q1039 1261 1049 1369Z" fill="#a9e6c9"/>
<path d="M1525 1369Q1524 1274 1515 1210Q1531 1274 1536 1369Z" fill="#8ccbaa"/>
<path d="M579 1369Q608 1228 635 1134Q616 1228 591 1369Z" fill="#9edcbe"/>
<path d="M2441 1369Q2447 1300 2461 1254Q2455 1300 2452 1369Z" fill="#80c5a3"/>
<path d="M1582 1369Q1568 1303 1517 1259Q1572 1303 1588 1369Z" fill="#9edcbe"/>
<path d="M2183 1369Q2183 1250 2175 1171Q2186 1250 2188 1369Z" fill="#b0ebcf"/>
<path d="M1284 1369Q1272 1244 1236 1161Q1275 1244 1288 1369Z" fill="#7cc1a0"/>
<path d="M1424 1370Q1439 1244 1477 1159Q1447 1244 1437 1370Z" fill="#92d1b0"/>
<path d="M2190 1370Q2175 1286 2166 1231Q2183 1286 2202 1370Z" fill="#7cc1a0"/>
<path d="M1897 1371Q1907 1248 1941 1166Q1914 1248 1908 1371Z" fill="#a9e6c9"/>
<path d="M736 1371Q744 1280 758 1220Q748 1280 743 1371Z" fill="#a3e0c2"/>
<path d="M2372 1371Q2378 1293 2384 1241Q2384 1293 2382 1371Z" fill="#b0ebcf"/>
<path d="M2384 1371Q2393 1243 2428 1157Q2400 1243 2396 1371Z" fill="#87c7a6"/>
<path d="M1574 1371Q1616 1204 1687 1092Q1623 1204 1584 1371Z" fill="#7cc1a0"/>
<path d="M590 1372Q593 1290 599 1235Q601 1290 601 1372Z" fill="#80c5a3"/>
<path d="M335 1372Q334 1270 333 1202Q342 1270 347 1372Z" fill="#a9e6c9"/>
<path d="M861 1372Q909 1220 962 1120Q915 1220 871 1372Z" fill="#6cb190"/>
<path d="M2300 1372Q2308 1232 2326 1139Q2313 1232 2307 1372Z" fill="#6cb190"/>
<path d="M791 1372Q794 1300 809 1252Q798 1300 797 1372Z" fill="#70b593"/>
<path d="M2459 1372Q2465 1258 2498 1182Q2473 1258 2470 1372Z" fill="#a3e0c2"/>
<path d="M1490 1372Q1485 1291 1448 1236Q1491 1291 1500 1372Z" fill="#87c7a6"/>
<path d="M962 1373Q978 1254 1001 1174Q982 1254 967 1373Z" fill="#a3e0c2"/>
<path d="M1533 1373Q1527 1306 1514 1261Q1532 1306 1541 1373Z" fill="#6cb190"/>
<path d="M1860 1373Q1855 1295 1850 1243Q1861 1295 1869 1373Z" fill="#b0ebcf"/>
<path d="M613 1373Q622 1221 659 1120Q626 1221 619 1373Z" fill="#b0ebcf"/>
<path d="M2214 1373Q2182 1296 2155 1244Q2185 1296 2218 1373Z" fill="#92d1b0"/>
<path d="M1986 1374Q1961 1206 1871 1095Q1966 1206 1994 1374Z" fill="#7cc1a0"/>
<path d="M1233 1374Q1242 1295 1257 1242Q1249 1295 1243 1374Z" fill="#6cb190"/>
<path d="M1121 1374Q1125 1274 1134 1208Q1129 1274 1126 1374Z" fill="#76bb99"/>
<path d="M666 1374Q666 1228 658 1131Q672 1228 675 1374Z" fill="#80c5a3"/>
<path d="M893 1375Q885 1238 859 1147Q893 1238 905 1375Z" fill="#9edcbe"/>
<path d="M1485 1375Q1511 1264 1540 1190Q1516 1264 1492 1375Z" fill="#92d1b0"/>
<path d="M1244 1375Q1239 1307 1234 1261Q1247 1307 1257 1375Z" fill="#76bb99"/>
<path d="M2267 1375Q2277 1305 2286 1258Q2281 1305 2272 1375Z" fill="#76bb99"/>
<path d="M2492 1375Q2518 1298 2539 1247Q2524 1298 2501 1375Z" fill="#9edcbe"/>
<path d="M2480 1375Q2483 1312 2490 1270Q2487 1312 2486 1375Z" fill="#a9e6c9"/>
<path d="M2029 1375Q2011 1273 1973 1205Q2018 1273 2040 1375Z" fill="#a9e6c9"/>
<path d="M1861 1375Q1880 1294 1897 1239Q1885 1294 1868 1375Z" fill="#76bb99"/>
<path d="M1470 1375Q1467 1261 1467 1184Q1475 1261 1482 1375Z" fill="#87c7a6"/>
<path d="M663 1375Q660 1256 654 1176Q665 1256 670 1375Z" fill="#a9e6c9"/>
<path d="M375 1376Q379 1300 400 1249Q383 1300 381 1376Z" fill="#7cc1a0"/>
<path d="M377 1376Q358 1294 322 1240Q362 1294 382 1376Z" fill="#70b593"/>
<path d="M2156 1376Q2137 1288 2117 1229Q2143 1288 2164 1376Z" fill="#a9e6c9"/>
<path d="M2020 1376Q2045 1217 2068 1110Q2050 1217 2028 1376Z" fill="#9edcbe"/>
<path d="M551 1376Q494 1275 445 1208Q497 1275 556 1376Z" fill="#80c5a3"/>
<path d="M2498 1376Q2498 1252 2499 1169Q2504 1252 2506 1376Z" fill="#92d1b0"/>
<path d="M1706 1376Q1667 1220 1640 1116Q1673 1220 1715 1376Z" fill="#70b593"/>
<path d="M1582 1377Q1628 1190 1670 1066Q1632 1190 1588 1377Z" fill="#a9e6c9"/>
<path d="M1815 1377Q1820 1290 1834 1233Q1824 1290 1821 1377Z" fill="#92d1b0"/>
<path d="M728 1377Q746 1298 770 1246Q755 1298 740 1377Z" fill="#70b593"/>
<path d="M294 1377Q298 1293 327 1237Q301 1293 299 1377Z" fill="#b0ebcf"/>
<path d="M732 1377Q751 1260 811 1183Q759 1260 743 1377Z" fill="#80c5a3"/>
<path d="M754 1377Q678 1224 622 1122Q682 1224 760 1377Z" fill="#8ccbaa"/>
<path d="M1696 1378Q1705 1292 1720 1234Q1712 1292 1707 1378Z" fill="#70b593"/>
<path d="M1046 1378Q1064 1313 1099 1270Q1067 1313 1051 1378Z" fill="#a3e0c2"/>
<path d="M1502 1378Q1507 1301 1528 1250Q1515 1301 1513 1378Z" fill="#87c7a6"/>
<path d="M994 1378Q993 1289 988 1230Q997 1289 1000 1378Z" fill="#7cc1a0"/>
<path d="M2471 1378Q2472 1304 2475 1255Q2479 1304 2481 1378Z" fill="#7cc1a0"/>
<path d="M664 1378Q659 1306 638 1258Q662 1306 669 1378Z" fill="#92d1b0"/>
<path d="M588 1378Q571 1303 561 1254Q578 1303 599 1378Z" fill="#70b593"/>
<path d="M713 1378Q723 1269 767 1196Q730 1269 723 1378Z" fill="#7cc1a0"/>
<path d="M2056 1379Q2071 1268 2138 1193Q2075 1268 2062 1379Z" fill="#a3e0c2"/>
<path d="M2007 1379Q2027 1308 2062 1260Q2033 1308 2017 1379Z" fill="#a3e0c2"/>
<path d="M1654 1379Q1658 1301 1671 1249Q1663 1301 1662 1379Z" fill="#b0ebcf"/>
<path d="M313 1379Q323 1290 356 1230Q327 1290 318 1379Z" fill="#92d1b0"/>
<path d="M2114 1379Q2116 1305 2123 1256Q2123 1305 2125 1379Z" fill="#76bb99"/>
<path d="M2143 1380Q2153 1307 2164 1259Q2159 1307 2152 1380Z" fill="#92d1b0"/>
<path d="M2211 1380Q2222 1302 2249 1251Q2229 1302 2222 1380Z" fill="#92d1b0"/>
<path d="M681 1380Q685 1293 694 1235Q693 1293 693 1380Z" fill="#80c5a3"/>
<path d="M1841 1380Q1823 1298 1770 1243Q1830 1298 1850 1380Z" fill="#9edcbe"/>
<path d="M421 1380Q386 1261 363 1181Q390 1261 427 1380Z" fill="#7cc1a0"/>
<path d="M1828 1381Q1848 1272 1896 1200Q1855 1272 1838 1381Z" fill="#a3e0c2"/>
<path d="M1637 1381Q1633 1262 1625 1183Q1641 1262 1649 1381Z" fill="#7cc1a0"/>
<path d="M632 1381Q654 1279 694 1212Q657 1279 637 1381Z" fill="#92d1b0"/>
<path d="M1075 1381Q1068 1254 1052 1170Q1076 1254 1087 1381Z" fill="#a3e0c2"/>
<path d="M1400 1381Q1368 1227 1343 1124Q1372 1227 1405 1381Z" fill="#7cc1a0"/>
<path d="M1434 1382Q1449 1300 1471 1246Q1453 1300 1440 1382Z" fill="#70b593"/>
<path d="M983 1382Q975 1243 948 1151Q979 1243 989 1382Z" fill="#92d1b0"/>
<path d="M821 1382Q825 1284 834 1219Q831 1284 829 1382Z" fill="#a6e3c6"/>
<path d="M803 1382Q805 1264 808 1185Q809 1264 810 1382Z" fill="#76bb99"/>
<path d="M1526 1382Q1544 1211 1562 1097Q1552 1211 1539 1382Z" fill="#b0ebcf"/>
<path d="M341 1382Q353 1256 370 1171Q361 1256 352 1382Z" fill="#76bb99"/>
<path d="M400 1382Q401 1295 402 1236Q403 1295 404 1382Z" fill="#70b593"/>
<path d="M1191 1382Q1170 1298 1157 1242Q1176 1298 1201 1382Z" fill="#87c7a6"/>
<path d="M872 1383Q878 1296 899 1239Q885 1296 883 1383Z" fill="#a3e0c2"/>
<path d="M1963 1383Q1963 1260 1963 1178Q1966 1260 1967 1383Z" fill="#70b593"/>
<path d="M1933 1383Q1937 1272 1945 1198Q1941 1272 1939 1383Z" fill="#b0ebcf"/>
<path d="M1576 1384Q1581 1285 1593 1218Q1584 1285 1581 1384Z" fill="#70b593"/>
<path d="M1940 1384Q1965 1310 1987 1261Q1972 1310 1950 1384Z" fill="#9edcbe"/>
<path d="M1658 1384Q1689 1268 1740 1190Q1696 1268 1669 1384Z" fill="#b0ebcf"/>
<path d="M1678 1384Q1667 1288 1641 1224Q1675 1288 1690 1384Z" fill="#70b593"/>
<path d="M2384 1384Q2383 1282 2367 1214Q2391 1282 2397 1384Z" fill="#76bb99"/>
<path d="M1917 1384Q1912 1297 1897 1239Q1915 1297 1922 1384Z" fill="#76bb99"/>
<path d="M301 1384Q302 1285 293 1218Q310 1285 313 1384Z" fill="#9edcbe"/>
<path d="M2306 1385Q2309 1305 2314 1252Q2315 1305 2316 1385Z" fill="#b0ebcf"/>
<path d="M780 1385Q776 1268 760 1190Q779 1268 785 1385Z" fill="#6cb190"/>
<path d="M798 1385Q796 1307 795 1255Q804 1307 811 1385Z" fill="#b0ebcf"/>
<path d="M1406 1385Q1408 1217 1412 1105Q1415 1217 1416 1385Z" fill="#76bb99"/>
<path d="M1204 1385Q1213 1294 1226 1233Q1216 1294 1208 1385Z" fill="#76bb99"/>
<path d="M2170 1385Q2178 1301 2196 1244Q2183 1301 2177 1385Z" fill="#8ccbaa"/>
<path d="M1776 1386Q1795 1282 1894 1213Q1804 1282 1788 1386Z" fill="#76bb99"/>
<path d="M317 1386Q298 1311 274 1261Q302 1311 323 1386Z" fill="#a9e6c9"/>
<path d="M1025 1386Q1029 1272 1051 1195Q1034 1272 1032 1386Z" fill="#a6e3c6"/>
<path d="M1390 1386Q1378 1224 1360 1116Q1384 1224 1399 1386Z" fill="#a3e0c2"/>
<path d="M505 1386Q503 1298 500 1240Q510 1298 514 1386Z" fill="#92d1b0"/>
<path d="M1816 1387Q1797 1289 1765 1224Q1804 1289 1826 1387Z" fill="#70b593"/>
<path d="M2450 1387Q2467 1312 2501 1261Q2471 1312 2456 1387Z" fill="#b0ebcf"/>
<path d="M2026 1387Q2031 1306 2039 1252Q2037 1306 2035 1387Z" fill="#8ccbaa"/>
<path d="M809 1387Q800 1289 787 1224Q804 1289 814 1387Z" fill="#70b593"/>
<path d="M699 1388Q708 1302 766 1245Q716 1302 711 1388Z" fill="#70b593"/>
<path d="M496 1388Q496 1285 497 1216Q499 1285 501 1388Z" fill="#87c7a6"/>
<path d="M2500 1388Q2527 1265 2550 1182Q2534 1265 2510 1388Z" fill="#92d1b0"/>
<path d="M356 1389Q377 1289 420 1223Q380 1289 360 1389Z" fill="#8ccbaa"/>
<path d="M2232 1389Q2255 1269 2286 1189Q2259 1269 2239 1389Z" fill="#a3e0c2"/>
<path d="M1357 1389Q1356 1308 1352 1255Q1359 1308 1362 1389Z" fill="#8ccbaa"/>
<path d="M2374 1389Q2383 1317 2392 1268Q2388 1317 2380 1389Z" fill="#a6e3c6"/>
<path d="M1247 1389Q1227 1274 1181 1197Q1230 1274 1251 1389Z" fill="#70b593"/>
<path d="M1148 1389Q1154 1304 1183 1247Q1160 1304 1159 1389Z" fill="#7cc1a0"/>
<path d="M531 1390Q535 1261 546 1175Q541 1261 541 1390Z" fill="#70b593"/>
<path d="M2011 1390Q2015 1300 2029 1239Q2023 1300 2022 1390Z" fill="#b0ebcf"/>
<path d="M922 1390Q910 1264 865 1180Q918 1264 933 1390Z" fill="#9edcbe"/>
<path d="M1886 1390Q1897 1297 1921 1235Q1905 1297 1899 1390Z" fill="#80c5a3"/>
<path d="M500 1390Q503 1262 513 1177Q510 1262 510 1390Z" fill="#7cc1a0"/>
<path d="M349 1390Q367 1287 388 1218Q372 1287 357 1390Z" fill="#a6e3c6"/>
<path d="M1851 1390Q1889 1251 1917 1159Q1892 1251 1856 1390Z" fill="#6cb190"/>
<path d="M942 1391Q957 1252 1055 1160Q961 1252 948 1391Z" fill="#a3e0c2"/>
<path d="M1044 1391Q1039 1295 994 1231Q1044 1295 1053 1391Z" fill="#a9e6c9"/>
<path d="M2237 1391Q2233 1281 2229 1208Q2241 1281 2249 1391Z" fill="#92d1b0"/>
<path d="M814 1391Q774 1310 748 1255Q781 1310 824 1391Z" fill="#a9e6c9"/>
<path d="M583 1391Q548 1257 521 1168Q554 1257 592 1391Z" fill="#80c5a3"/>
<path d="M1345 1392Q1316 1279 1277 1204Q1322 1279 1353 1392Z" fill="#8ccbaa"/>
<path d="M2262 1392Q2273 1247 2316 1151Q2278 1247 2270 1392Z" fill="#a3e0c2"/>
<path d="M1800 1392Q1825 1251 1933 1156Q1833 1251 1812 1392Z" fill="#6cb190"/>
<path d="M1780 1393Q1785 1315 1805 1263Q1794 1315 1792 1393Z" fill="#76bb99"/>
<path d="M1250 1393Q1254 1246 1258 1148Q1259 1246 1259 1393Z" fill="#6cb190"/>
<path d="M2128 1393Q2118 1315 2096 1263Q2127 1315 2140 1393Z" fill="#a3e0c2"/>
<path d="M1741 1393Q1743 1239 1748 1136Q1750 1239 1752 1393Z" fill="#70b593"/>
<path d="M478 1393Q475 1290 469 1222Q480 1290 486 1393Z" fill="#6cb190"/>
<path d="M2398 1393Q2405 1300 2414 1239Q2411 1300 2408 1393Z" fill="#b0ebcf"/>
<path d="M2192 1393Q2207 1312 2230 1258Q2213 1312 2201 1393Z" fill="#a9e6c9"/>
<path d="M766 1393Q770 1296 788 1230Q777 1296 775 1393Z" fill="#8ccbaa"/>
<path d="M842 1393Q829 1313 792 1260Q834 1313 850 1393Z" fill="#b0ebcf"/>
<path d="M2252 1393Q2235 1288 2211 1218Q2240 1288 2258 1393Z" fill="#7cc1a0"/>
<path d="M603 1393Q674 1203 734 1077Q682 1203 616 1393Z" fill="#6cb190"/>
<path d="M2086 1394Q2067 1311 2037 1257Q2071 1311 2091 1394Z" fill="#a3e0c2"/>
<path d="M702 1394Q705 1215 714 1096Q713 1215 713 1394Z" fill="#92d1b0"/>
<path d="M1145 1394Q1148 1313 1160 1259Q1155 1313 1155 1394Z" fill="#b0ebcf"/>
<path d="M1469 1394Q1470 1247 1473 1148Q1476 1247 1478 1394Z" fill="#a3e0c2"/>
<path d="M889 1394Q894 1315 906 1262Q898 1315 895 1394Z" fill="#7cc1a0"/>
<path d="M2141 1394Q2154 1252 2169 1158Q2160 1252 2151 1394Z" fill="#80c5a3"/>
<path d="M2447 1394Q2456 1319 2480 1270Q2464 1319 2458 1394Z" fill="#7cc1a0"/>
<path d="M963 1394Q961 1316 958 1264Q969 1316 975 1394Z" fill="#6cb190"/>
<path d="M757 1394Q764 1302 771 1240Q768 1302 762 1394Z" fill="#a6e3c6"/>
<path d="M1845 1394Q1878 1251 1905 1155Q1881 1251 1850 1394Z" fill="#9edcbe"/>
<path d="M1767 1394Q1745 1319 1728 1269Q1751 1319 1776 1394Z" fill="#70b593"/>
<path d="M575 1394Q589 1280 605 1203Q597 1280 588 1394Z" fill="#76bb99"/>
<path d="M1205 1395Q1225 1309 1269 1253Q1233 1309 1217 1395Z" fill="#76bb99"/>
<path d="M697 1395Q681 1285 644 1211Q686 1285 704 1395Z" fill="#8ccbaa"/>
<path d="M858 1395Q854 1308 838 1251Q862 1308 871 1395Z" fill="#b0ebcf"/>
<path d="M1133 1395Q1152 1282 1228 1207Q1158 1282 1143 1395Z" fill="#76bb99"/>
<path d="M1927 1395Q1936 1301 1945 1238Q1939 1301 1931 1395Z" fill="#7cc1a0"/>
<path d="M1232 1395Q1233 1298 1234 1233Q1239 1298 1241 1395Z" fill="#8ccbaa"/>
<path d="M645 1395Q630 1294 593 1227Q638 1294 655 1395Z" fill="#6cb190"/>
<path d="M2195 1395Q2208 1231 2244 1121Q2215 1231 2205 1395Z" fill="#7cc1a0"/>
<path d="M1526 1396Q1506 1208 1470 1082Q1514 1208 1538 1396Z" fill="#9edcbe"/>
<path d="M1791 1396Q1793 1315 1797 1261Q1798 1315 1799 1396Z" fill="#a9e6c9"/>
<path d="M373 1396Q378 1301 394 1237Q386 1301 384 1396Z" fill="#80c5a3"/>
<path d="M856 1396Q843 1279 831 1201Q851 1279 868 1396Z" fill="#b0ebcf"/>
<path d="M741 1396Q738 1238 735 1133Q742 1238 746 1396Z" fill="#76bb99"/>
<path d="M2076 1396Q2065 1295 2034 1228Q2072 1295 2087 1396Z" fill="#92d1b0"/>
<path d="M2049 1397Q2035 1271 2019 1187Q2040 1271 2056 1397Z" fill="#80c5a3"/>
<path d="M443 1397Q442 1287 436 1213Q446 1287 448 1397Z" fill="#80c5a3"/>
<path d="M1328 1397Q1324 1324 1313 1276Q1330 1324 1337 1397Z" fill="#6cb190"/>
<path d="M1356 1398Q1354 1289 1347 1217Q1360 1289 1365 1398Z" fill="#a6e3c6"/>
<path d="M1796 1398Q1791 1284 1765 1209Q1796 1284 1804 1398Z" fill="#70b593"/>
<path d="M2123 1398Q2118 1262 2111 1172Q2121 1262 2127 1398Z" fill="#92d1b0"/>
<path d="M885 1398Q915 1224 946 1108Q921 1224 894 1398Z" fill="#76bb99"/>
<path d="M1370 1398Q1358 1274 1339 1192Q1364 1274 1380 1398Z" fill="#70b593"/>
<path d="M704 1399Q725 1291 769 1219Q731 1291 712 1399Z" fill="#6cb190"/>
<path d="M2001 1399Q2001 1321 1994 1269Q2009 1321 2014 1399Z" fill="#a6e3c6"/>
<path d="M2286 1399Q2290 1270 2295 1184Q2295 1270 2294 1399Z" fill="#a6e3c6"/>
<path d="M675 1399Q698 1299 722 1233Q702 1299 681 1399Z" fill="#7cc1a0"/>
<path d="M667 1399Q643 1272 613 1187Q648 1272 674 1399Z" fill="#b0ebcf"/>
<path d="M1030 1399Q1025 1305 1008 1243Q1031 1305 1040 1399Z" fill="#b0ebcf"/>
<path d="M2213 1399Q2224 1252 2251 1153Q2231 1252 2223 1399Z" fill="#87c7a6"/>
<path d="M1517 1399Q1516 1310 1517 1251Q1522 1310 1526 1399Z" fill="#b0ebcf"/>
<path d="M319 1399Q307 1315 300 1259Q313 1315 327 1399Z" fill="#8ccbaa"/>
<path d="M2375 1399Q2370 1267 2318 1179Q2373 1267 2380 1399Z" fill="#87c7a6"/>
<path d="M1571 1400Q1565 1291 1557 1219Q1569 1291 1577 1400Z" fill="#70b593"/>
<path d="M1743 1400Q1736 1315 1718 1259Q1739 1315 1747 1400Z" fill="#a6e3c6"/>
<path d="M661 1400Q672 1269 687 1181Q678 1269 670 1400Z" fill="#7cc1a0"/>
<path d="M586 1400Q584 1319 583 1265Q592 1319 598 1400Z" fill="#6cb190"/>
<path d="M1377 1400Q1377 1326 1377 1276Q1385 1326 1389 1400Z" fill="#6cb190"/>
<path d="M1294 1400Q1252 1269 1209 1182Q1258 1269 1303 1400Z" fill="#8ccbaa"/>
<path d="M1493 1401Q1465 1291 1419 1218Q1471 1291 1502 1401Z" fill="#80c5a3"/>
<path d="M1969 1401Q1987 1324 2003 1273Q1989 1324 1973 1401Z" fill="#a9e6c9"/>
<path d="M2247 1401Q2243 1322 2224 1269Q2247 1322 2253 1401Z" fill="#7cc1a0"/>
<path d="M2505 1401Q2500 1311 2494 1250Q2505 1311 2512 1401Z" fill="#92d1b0"/>
<path d="M2403 1401Q2394 1244 2389 1138Q2399 1244 2411 1401Z" fill="#a9e6c9"/>
<path d="M1625 1401Q1633 1280 1647 1200Q1638 1280 1632 1401Z" fill="#80c5a3"/>
<path d="M2421 1402Q2445 1271 2478 1184Q2450 1271 2428 1402Z" fill="#a9e6c9"/>
<path d="M800 1402Q806 1243 843 1138Q809 1243 804 1402Z" fill="#8ccbaa"/>
<path d="M1364 1402Q1378 1300 1467 1232Q1381 1300 1370 1402Z" fill="#92d1b0"/>
<path d="M2487 1402Q2469 1269 2453 1180Q2475 1269 2496 1402Z" fill="#7cc1a0"/>
<path d="M583 1402Q584 1329 586 1280Q590 1329 591 1402Z" fill="#70b593"/>
<path d="M615 1402Q615 1260 613 1165Q621 1260 625 1402Z" fill="#a3e0c2"/>
<path d="M1270 1402Q1282 1242 1300 1135Q1290 1242 1281 1402Z" fill="#a3e0c2"/>
<path d="M366 1402Q380 1315 394 1257Q388 1315 377 1402Z" fill="#a3e0c2"/>
<path d="M990 1403Q987 1259 974 1163Q992 1259 997 1403Z" fill="#7cc1a0"/>
<path d="M1727 1403Q1708 1294 1637 1222Q1716 1294 1739 1403Z" fill="#6cb190"/>
<path d="M792 1403Q799 1268 813 1178Q803 1268 799 1403Z" fill="#76bb99"/>
<path d="M1272 1403Q1273 1317 1276 1259Q1278 1317 1279 1403Z" fill="#87c7a6"/>
<path d="M1501 1403Q1484 1284 1466 1205Q1489 1284 1509 1403Z" fill="#b0ebcf"/>
<path d="M903 1403Q909 1240 920 1131Q916 1240 914 1403Z" fill="#7cc1a0"/>
<path d="M1215 1403Q1219 1298 1226 1228Q1225 1298 1224 1403Z" fill="#76bb99"/>
<path d="M1105 1404Q1137 1223 1203 1103Q1142 1223 1113 1404Z" fill="#80c5a3"/>
<path d="M454 1404Q442 1267 435 1175Q447 1267 461 1404Z" fill="#8ccbaa"/>
<path d="M1924 1404Q1925 1323 1926 1268Q1928 1323 1928 1404Z" fill="#92d1b0"/>
<path d="M1782 1405Q1787 1242 1799 1134Q1794 1242 1793 1405Z" fill="#a9e6c9"/>
<path d="M681 1405Q708 1237 760 1125Q711 1237 686 1405Z" fill="#a3e0c2"/>
<path d="M774 1405Q752 1302 713 1234Q760 1302 786 1405Z" fill="#9edcbe"/>
<path d="M1836 1405Q1830 1270 1804 1180Q1834 1270 1841 1405Z" fill="#80c5a3"/>
<path d="M1456 1405Q1464 1298 1472 1227Q1467 1298 1461 1405Z" fill="#a6e3c6"/>
<path d="M865 1405Q858 1308 853 1244Q863 1308 871 1405Z" fill="#7cc1a0"/>
<path d="M992 1405Q962 1266 930 1174Q969 1266 1002 1405Z" fill="#a6e3c6"/>
<path d="M1550 1405Q1579 1314 1602 1253Q1585 1314 1559 1405Z" fill="#76bb99"/>
<path d="M1432 1405Q1423 1299 1402 1229Q1428 1299 1440 1405Z" fill="#8ccbaa"/>
<path d="M1799 1406Q1800 1320 1803 1264Q1805 1320 1805 1406Z" fill="#6cb190"/>
<path d="M605 1406Q604 1306 605 1240Q610 1306 614 1406Z" fill="#6cb190"/>
<path d="M1136 1406Q1154 1318 1181 1260Q1159 1318 1144 1406Z" fill="#92d1b0"/>
<path d="M1281 1406Q1279 1228 1272 1110Q1282 1228 1286 1406Z" fill="#a3e0c2"/>
<path d="M1096 1406Q1111 1312 1156 1250Q1118 1312 1108 1406Z" fill="#a9e6c9"/>
<path d="M2014 1406Q2018 1316 2037 1256Q2023 1316 2021 1406Z" fill="#70b593"/>
<path d="M2358 1407Q2350 1315 2322 1254Q2354 1315 2363 1407Z" fill="#80c5a3"/>
<path d="M418 1407Q426 1310 446 1246Q431 1310 425 1407Z" fill="#80c5a3"/>
<path d="M2260 1407Q2269 1249 2280 1143Q2274 1249 2269 1407Z" fill="#a6e3c6"/>
<path d="M1653 1407Q1652 1290 1639 1213Q1657 1290 1661 1407Z" fill="#a9e6c9"/>
<path d="M404 1407Q396 1309 383 1243Q399 1309 409 1407Z" fill="#a9e6c9"/>
<path d="M1758 1408Q1799 1307 1844 1239Q1807 1307 1770 1408Z" fill="#80c5a3"/>
<path d="M692 1408Q667 1308 628 1242Q672 1308 699 1408Z" fill="#92d1b0"/>
<path d="M526 1408Q591 1303 663 1232Q599 1303 539 1408Z" fill="#a9e6c9"/>
<path d="M1655 1408Q1668 1318 1678 1257Q1672 1318 1660 1408Z" fill="#8ccbaa"/>
<path d="M615 1408Q628 1319 642 1259Q636 1319 627 1408Z" fill="#92d1b0"/>
<path d="M2328 1409Q2330 1284 2335 1201Q2334 1284 2334 1409Z" fill="#b0ebcf"/>
<path d="M761 1409Q754 1322 732 1264Q758 1322 766 1409Z" fill="#b0ebcf"/>
<path d="M1236 1409Q1233 1314 1229 1251Q1238 1314 1243 1409Z" fill="#a6e3c6"/>
<path d="M2002 1409Q1980 1244 1907 1134Q1985 1244 2009 1409Z" fill="#76bb99"/>
<path d="M906 1409Q909 1332 913 1281Q912 1332 910 1409Z" fill="#87c7a6"/>
<path d="M876 1409Q885 1243 895 1132Q889 1243 881 1409Z" fill="#a3e0c2"/>
<path d="M1378 1409Q1350 1299 1302 1225Q1357 1299 1388 1409Z" fill="#76bb99"/>
<path d="M1420 1409Q1436 1323 1467 1265Q1439 1323 1424 1409Z" fill="#9edcbe"/>
<path d="M1927 1409Q1937 1281 1950 1196Q1945 1281 1938 1409Z" fill="#b0ebcf"/>
<path d="M586 1409Q602 1287 634 1205Q607 1287 594 1409Z" fill="#92d1b0"/>
<path d="M1504 1410Q1505 1319 1501 1259Q1510 1319 1512 1410Z" fill="#92d1b0"/>
<path d="M1094 1410Q1093 1324 1083 1267Q1101 1324 1105 1410Z" fill="#8ccbaa"/>
<path d="M2438 1410Q2450 1310 2510 1244Q2454 1310 2444 1410Z" fill="#80c5a3"/>
<path d="M2107 1410Q2101 1310 2091 1244Q2107 1310 2116 1410Z" fill="#9edcbe"/>
<path d="M2186 1410Q2210 1292 2276 1213Q2214 1292 2192 1410Z" fill="#76bb99"/>
<path d="M1748 1410Q1740 1320 1713 1260Q1744 1320 1755 1410Z" fill="#87c7a6"/>
<path d="M461 1410Q471 1321 510 1262Q479 1321 472 1410Z" fill="#b0ebcf"/>
<path d="M2228 1410Q2216 1293 2157 1214Q2223 1293 2239 1410Z" fill="#70b593"/>
<path d="M1944 1410Q1985 1286 2082 1203Q1994 1286 1957 1410Z" fill="#b0ebcf"/>
<path d="M2370 1410Q2406 1250 2476 1143Q2410 1250 2375 1410Z" fill="#80c5a3"/>
<path d="M538 1410Q531 1319 524 1258Q535 1319 543 1410Z" fill="#9edcbe"/>
<path d="M1003 1411Q999 1324 987 1267Q1002 1324 1008 1411Z" fill="#6cb190"/>
<path d="M1049 1411Q1043 1254 1041 1150Q1052 1254 1062 1411Z" fill="#b0ebcf"/>
<path d="M1384 1411Q1359 1338 1342 1289Q1364 1338 1391 1411Z" fill="#70b593"/>
<path d="M1472 1411Q1483 1335 1503 1284Q1486 1335 1477 1411Z" fill="#a3e0c2"/>
<path d="M1094 1411Q1085 1287 1030 1205Q1093 1287 1106 1411Z" fill="#87c7a6"/>
<path d="M2027 1411Q2032 1253 2047 1147Q2041 1253 2040 1411Z" fill="#80c5a3"/>
<path d="M2054 1411Q2053 1285 2040 1201Q2059 1285 2063 1411Z" fill="#b0ebcf"/>
<path d="M1959 1411Q1932 1257 1906 1153Q1938 1257 1968 1411Z" fill="#70b593"/>
<path d="M378 1412Q379 1316 385 1253Q384 1316 384 1412Z" fill="#a9e6c9"/>
<path d="M643 1412Q660 1272 715 1179Q667 1272 654 1412Z" fill="#7cc1a0"/>
<path d="M1936 1412Q1950 1304 1966 1232Q1954 1304 1942 1412Z" fill="#6cb190"/>
<path d="M2465 1412Q2466 1319 2467 1257Q2470 1319 2472 1412Z" fill="#9edcbe"/>
<path d="M2151 1413Q2167 1337 2206 1287Q2173 1337 2160 1413Z" fill="#7cc1a0"/>
<path d="M1785 1413Q1800 1252 1819 1145Q1806 1252 1793 1413Z" fill="#7cc1a0"/>
<path d="M1818 1413Q1822 1216 1830 1086Q1828 1216 1828 1413Z" fill="#8ccbaa"/>
<path d="M745 1413Q727 1298 697 1221Q736 1298 757 1413Z" fill="#a3e0c2"/>
<path d="M2383 1413Q2346 1268 2278 1172Q2353 1268 2394 1413Z" fill="#8ccbaa"/>
<path d="M1261 1413Q1261 1325 1260 1266Q1268 1325 1273 1413Z" fill="#87c7a6"/>
<path d="M2220 1413Q2210 1299 2192 1222Q2213 1299 2225 1413Z" fill="#9edcbe"/>
<path d="M2012 1413Q2010 1314 2010 1249Q2013 1314 2017 1413Z" fill="#8ccbaa"/>
<path d="M2027 1413Q2026 1264 2021 1165Q2034 1264 2040 1413Z" fill="#a9e6c9"/>
<path d="M1620 1414Q1600 1291 1531 1209Q1609 1291 1633 1414Z" fill="#9edcbe"/>
<path d="M1773 1414Q1710 1281 1666 1193Q1714 1281 1778 1414Z" fill="#87c7a6"/>
<path d="M1481 1414Q1477 1299 1471 1223Q1485 1299 1493 1414Z" fill="#87c7a6"/>
<path d="M1719 1415Q1718 1339 1718 1289Q1722 1339 1724 1415Z" fill="#6cb190"/>
<path d="M1209 1415Q1222 1286 1233 1200Q1225 1286 1214 1415Z" fill="#87c7a6"/>
<path d="M2134 1416Q2098 1313 2061 1245Q2102 1313 2140 1416Z" fill="#92d1b0"/>
<path d="M2103 1416Q2105 1323 2109 1262Q2114 1323 2116 1416Z" fill="#8ccbaa"/>
<path d="M2427 1416Q2442 1283 2519 1195Q2445 1283 2432 1416Z" fill="#9edcbe"/>
<path d="M1874 1416Q1877 1294 1889 1213Q1884 1294 1885 1416Z" fill="#7cc1a0"/>
<path d="M1786 1416Q1765 1270 1694 1173Q1772 1270 1796 1416Z" fill="#87c7a6"/>
<path d="M1072 1416Q1037 1280 973 1189Q1040 1280 1077 1416Z" fill="#80c5a3"/>
<path d="M986 1416Q984 1254 984 1146Q991 1254 995 1416Z" fill="#80c5a3"/>
<path d="M675 1416Q668 1279 651 1187Q673 1279 682 1416Z" fill="#8ccbaa"/>
<path d="M2419 1417Q2454 1261 2523 1157Q2460 1261 2429 1417Z" fill="#76bb99"/>
<path d="M2226 1417Q2225 1316 2223 1248Q2232 1316 2236 1417Z" fill="#7cc1a0"/>
<path d="M1028 1417Q1020 1301 975 1223Q1023 1301 1033 1417Z" fill="#76bb99"/>
<path d="M2148 1418Q2178 1311 2207 1239Q2186 1311 2159 1418Z" fill="#a6e3c6"/>
<path d="M2001 1418Q2013 1267 2028 1167Q2020 1267 2011 1418Z" fill="#87c7a6"/>
<path d="M1914 1418Q1935 1273 1969 1176Q1940 1273 1921 1418Z" fill="#b0ebcf"/>
<path d="M2372 1418Q2370 1274 2368 1177Q2377 1274 2384 1418Z" fill="#a6e3c6"/>
<path d="M1836 1418Q1842 1321 1849 1257Q1848 1321 1845 1418Z" fill="#a6e3c6"/>
<path d="M1215 1418Q1230 1341 1260 1290Q1235 1341 1222 1418Z" fill="#a3e0c2"/>
<path d="M1280 1419Q1277 1301 1270 1223Q1281 1301 1285 1419Z" fill="#92d1b0"/>
<path d="M2116 1419Q2094 1268 2070 1167Q2098 1268 2122 1419Z" fill="#92d1b0"/>
<path d="M1509 1419Q1513 1288 1536 1201Q1521 1288 1521 1419Z" fill="#b0ebcf"/>
<path d="M1200 1419Q1277 1273 1331 1176Q1282 1273 1208 1419Z" fill="#87c7a6"/>
<path d="M1261 1419Q1311 1276 1356 1181Q1316 1276 1269 1419Z" fill="#a9e6c9"/>
<path d="M1036 1419Q1056 1312 1078 1240Q1062 1312 1045 1419Z" fill="#87c7a6"/>
<path d="M1440 1419Q1423 1297 1397 1215Q1426 1297 1444 1419Z" fill="#7cc1a0"/>
<path d="M927 1419Q915 1287 830 1199Q920 1287 934 1419Z" fill="#80c5a3"/>
<path d="M2165 1419Q2162 1328 2152 1267Q2165 1328 2171 1419Z" fill="#70b593"/>
<path d="M1576 1419Q1579 1325 1590 1262Q1587 1325 1587 1419Z" fill="#a6e3c6"/>
<path d="M1744 1419Q1748 1271 1764 1172Q1753 1271 1752 1419Z" fill="#76bb99"/>
<path d="M704 1419Q716 1265 788 1162Q722 1265 712 1419Z" fill="#9edcbe"/>
<path d="M1134 1419Q1160 1297 1193 1216Q1163 1297 1139 1419Z" fill="#76bb99"/>
<path d="M1574 1420Q1507 1267 1439 1165Q1514 1267 1586 1420Z" fill="#a3e0c2"/>
<path d="M1412 1420Q1411 1325 1410 1262Q1416 1325 1419 1420Z" fill="#76bb99"/>
<path d="M1725 1420Q1715 1312 1702 1240Q1722 1312 1735 1420Z" fill="#a3e0c2"/>
<path d="M1175 1420Q1166 1271 1135 1171Q1169 1271 1179 1420Z" fill="#a6e3c6"/>
<path d="M945 1420Q952 1308 990 1233Q957 1308 954 1420Z" fill="#a6e3c6"/>
<path d="M2250 1420Q2245 1310 2202 1236Q2248 1310 2255 1420Z" fill="#a6e3c6"/>
<path d="M1274 1420Q1262 1232 1207 1106Q1265 1232 1279 1420Z" fill="#6cb190"/>
<path d="M421 1421Q455 1245 500 1128Q458 1245 425 1421Z" fill="#92d1b0"/>
<path d="M1161 1421Q1160 1337 1145 1281Q1162 1337 1166 1421Z" fill="#a3e0c2"/>
<path d="M1525 1421Q1541 1296 1562 1213Q1546 1296 1533 1421Z" fill="#76bb99"/>
<path d="M2349 1422Q2344 1326 2316 1262Q2349 1326 2356 1422Z" fill="#a3e0c2"/>
<path d="M2272 1422Q2320 1299 2356 1218Q2324 1299 2278 1422Z" fill="#87c7a6"/>
<path d="M282 1422Q283 1275 286 1178Q291 1275 293 1422Z" fill="#92d1b0"/>
<path d="M605 1422Q599 1283 585 1191Q603 1283 610 1422Z" fill="#a6e3c6"/>
<path d="M351 1422Q337 1330 313 1269Q341 1330 357 1422Z" fill="#80c5a3"/>
<path d="M803 1422Q812 1328 864 1266Q819 1328 812 1422Z" fill="#6cb190"/>
<path d="M2493 1422Q2500 1306 2507 1229Q2504 1306 2500 1422Z" fill="#a9e6c9"/>
<path d="M2326 1422Q2364 1240 2393 1119Q2372 1240 2338 1422Z" fill="#70b593"/>
<path d="M319 1422Q309 1307 281 1230Q313 1307 325 1422Z" fill="#a9e6c9"/>
<path d="M1538 1422Q1529 1289 1469 1200Q1536 1289 1550 1422Z" fill="#6cb190"/>
<path d="M1723 1422Q1734 1305 1759 1227Q1737 1305 1727 1422Z" fill="#80c5a3"/>
<path d="M1337 1422Q1335 1309 1328 1234Q1338 1309 1342 1422Z" fill="#a6e3c6"/>
<path d="M2096 1422Q2079 1304 1966 1226Q2086 1304 2107 1422Z" fill="#b0ebcf"/>
<path d="M1682 1423Q1685 1273 1698 1173Q1691 1273 1690 1423Z" fill="#76bb99"/>
<path d="M1437 1424Q1483 1295 1519 1209Q1491 1295 1448 1424Z" fill="#a9e6c9"/>
<path d="M2317 1424Q2316 1338 2303 1280Q2319 1338 2322 1424Z" fill="#b0ebcf"/>
<path d="M2176 1424Q2169 1348 2156 1297Q2175 1348 2185 1424Z" fill="#70b593"/>
<path d="M1841 1424Q1836 1300 1811 1217Q1843 1300 1851 1424Z" fill="#8ccbaa"/>
<path d="M557 1424Q545 1302 498 1220Q549 1302 563 1424Z" fill="#92d1b0"/>
<path d="M550 1425Q550 1326 548 1260Q558 1326 561 1425Z" fill="#a3e0c2"/>
<path d="M1256 1425Q1271 1304 1296 1224Q1277 1304 1266 1425Z" fill="#b0ebcf"/>
<path d="M1755 1425Q1754 1343 1725 1288Q1761 1343 1767 1425Z" fill="#7cc1a0"/>
<path d="M1825 1425Q1827 1326 1832 1260Q1832 1326 1832 1425Z" fill="#80c5a3"/>
<path d="M1719 1425Q1702 1329 1686 1265Q1708 1329 1728 1425Z" fill="#70b593"/>
<path d="M2328 1425Q2337 1352 2359 1303Q2344 1352 2340 1425Z" fill="#b0ebcf"/>
<path d="M558 1425Q556 1283 539 1189Q560 1283 565 1425Z" fill="#87c7a6"/>
<path d="M737 1426Q751 1336 787 1277Q755 1336 743 1426Z" fill="#a9e6c9"/>
<path d="M1387 1426Q1387 1327 1388 1260Q1391 1327 1393 1426Z" fill="#a9e6c9"/>
<path d="M1247 1426Q1250 1320 1257 1249Q1256 1320 1257 1426Z" fill="#9edcbe"/>
<path d="M2429 1426Q2386 1300 2357 1216Q2392 1300 2438 1426Z" fill="#92d1b0"/>
<path d="M350 1426Q345 1344 339 1290Q352 1344 362 1426Z" fill="#80c5a3"/>
<path d="M2022 1426Q2025 1325 2042 1258Q2028 1325 2026 1426Z" fill="#a6e3c6"/>
<path d="M605 1426Q597 1320 589 1250Q601 1320 610 1426Z" fill="#70b593"/>
<path d="M1742 1426Q1724 1262 1692 1153Q1730 1262 1749 1426Z" fill="#8ccbaa"/>
<path d="M630 1426Q641 1289 674 1198Q645 1289 635 1426Z" fill="#7cc1a0"/>
<path d="M282 1427Q290 1343 307 1288Q296 1343 290 1427Z" fill="#76bb99"/>
<path d="M1209 1427Q1247 1315 1299 1240Q1253 1315 1218 1427Z" fill="#9edcbe"/>
<path d="M844 1427Q851 1319 883 1247Q858 1319 854 1427Z" fill="#76bb99"/>
<path d="M758 1427Q750 1271 699 1166Q753 1271 763 1427Z" fill="#9edcbe"/>
<path d="M1775 1427Q1815 1284 1867 1189Q1818 1284 1780 1427Z" fill="#80c5a3"/>
<path d="M591 1428Q625 1287 652 1194Q632 1287 602 1428Z" fill="#a3e0c2"/>
<path d="M431 1428Q443 1316 491 1242Q446 1316 436 1428Z" fill="#80c5a3"/>
<path d="M1219 1428Q1188 1267 1162 1159Q1193 1267 1227 1428Z" fill="#6cb190"/>
<path d="M315 1428Q282 1303 139 1219Q285 1303 320 1428Z" fill="#76bb99"/>
<path d="M874 1428Q859 1315 840 1240Q868 1315 887 1428Z" fill="#70b593"/>
<path d="M1967 1428Q1988 1351 2025 1299Q1991 1351 1972 1428Z" fill="#70b593"/>
<path d="M729 1428Q741 1247 761 1126Q745 1247 735 1428Z" fill="#a9e6c9"/>
<path d="M804 1428Q754 1249 722 1129Q762 1249 816 1428Z" fill="#9edcbe"/>
<path d="M287 1428Q300 1313 359 1236Q305 1313 295 1428Z" fill="#8ccbaa"/>
<path d="M858 1429Q852 1287 847 1192Q856 1287 863 1429Z" fill="#87c7a6"/>
<path d="M790 1429Q786 1297 782 1208Q792 1297 798 1429Z" fill="#a6e3c6"/>
<path d="M2090 1429Q2054 1317 2026 1242Q2058 1317 2096 1429Z" fill="#9edcbe"/>
<path d="M1727 1429Q1742 1271 1754 1165Q1749 1271 1737 1429Z" fill="#7cc1a0"/>
<path d="M2109 1430Q2113 1326 2118 1257Q2116 1326 2114 1430Z" fill="#76bb99"/>
<path d="M1587 1430Q1608 1279 1739 1178Q1613 1279 1594 1430Z" fill="#7cc1a0"/>
<path d="M2153 1430Q2174 1320 2240 1246Q2182 1320 2165 1430Z" fill="#76bb99"/>
<path d="M537 1430Q540 1314 547 1237Q544 1314 543 1430Z" fill="#92d1b0"/>
<path d="M1558 1430Q1557 1332 1558 1267Q1565 1332 1569 1430Z" fill="#b0ebcf"/>
<path d="M1485 1430Q1475 1276 1446 1174Q1478 1276 1490 1430Z" fill="#87c7a6"/>
<path d="M1652 1430Q1650 1312 1646 1234Q1655 1312 1659 1430Z" fill="#92d1b0"/>
<path d="M1343 1431Q1344 1263 1347 1150Q1349 1263 1350 1431Z" fill="#6cb190"/>
<path d="M2275 1431Q2279 1327 2283 1258Q2284 1327 2283 1431Z" fill="#76bb99"/>
<path d="M1605 1431Q1606 1303 1608 1218Q1610 1303 1611 1431Z" fill="#b0ebcf"/>
<path d="M765 1431Q757 1305 724 1222Q762 1305 773 1431Z" fill="#a9e6c9"/>
<path d="M1935 1431Q1964 1353 2006 1302Q1970 1353 1944 1431Z" fill="#a3e0c2"/>
<path d="M1057 1431Q1053 1294 1044 1203Q1058 1294 1064 1431Z" fill="#9edcbe"/>
<path d="M2186 1432Q2188 1322 2193 1249Q2197 1322 2199 1432Z" fill="#6cb190"/>
<path d="M1254 1432Q1305 1294 1358 1202Q1313 1294 1267 1432Z" fill="#a6e3c6"/>
<path d="M2110 1432Q2116 1307 2133 1224Q2123 1307 2120 1432Z" fill="#a3e0c2"/>
<path d="M780 1432Q751 1239 654 1110Q758 1239 790 1432Z" fill="#a9e6c9"/>
<path d="M1140 1432Q1156 1316 1187 1239Q1159 1316 1145 1432Z" fill="#b0ebcf"/>
<path d="M2339 1433Q2337 1288 2313 1192Q2342 1288 2346 1433Z" fill="#8ccbaa"/>
<path d="M2268 1433Q2207 1272 2150 1164Q2215 1272 2281 1433Z" fill="#76bb99"/>
<path d="M1264 1433Q1280 1312 1331 1232Q1286 1312 1273 1433Z" fill="#92d1b0"/>
<path d="M1835 1433Q1853 1337 1900 1273Q1860 1337 1846 1433Z" fill="#a9e6c9"/>
<path d="M2050 1433Q2058 1320 2065 1244Q2062 1320 2056 1433Z" fill="#a9e6c9"/>
<path d="M843 1433Q840 1313 832 1232Q846 1313 852 1433Z" fill="#87c7a6"/>
<path d="M846 1433Q824 1268 798 1159Q831 1268 856 1433Z" fill="#a6e3c6"/>
<path d="M546 1434Q537 1301 529 1212Q544 1301 557 1434Z" fill="#6cb190"/>
<path d="M2401 1434Q2404 1331 2412 1263Q2411 1331 2412 1434Z" fill="#a3e0c2"/>
<path d="M1556 1434Q1565 1351 1578 1296Q1572 1351 1566 1434Z" fill="#6cb190"/>
<path d="M1698 1434Q1717 1252 1793 1131Q1723 1252 1708 1434Z" fill="#70b593"/>
<path d="M1271 1435Q1297 1334 1338 1267Q1302 1334 1278 1435Z" fill="#7cc1a0"/>
<path d="M1841 1435Q1846 1306 1851 1220Q1849 1306 1846 1435Z" fill="#6cb190"/>
<path d="M1168 1435Q1167 1326 1168 1253Q1176 1326 1180 1435Z" fill="#70b593"/>
<path d="M1674 1435Q1625 1286 1579 1187Q1628 1286 1679 1435Z" fill="#87c7a6"/>
<path d="M1047 1435Q1052 1293 1070 1198Q1059 1293 1058 1435Z" fill="#8ccbaa"/>
<path d="M326 1435Q361 1280 415 1176Q367 1280 334 1435Z" fill="#70b593"/>
<path d="M334 1435Q325 1300 286 1209Q333 1300 346 1435Z" fill="#76bb99"/>
<path d="M2283 1436Q2310 1335 2342 1268Q2317 1335 2292 1436Z" fill="#6cb190"/>
<path d="M1458 1437Q1474 1327 1503 1254Q1479 1327 1465 1437Z" fill="#80c5a3"/>
<path d="M1857 1437Q1867 1279 1890 1173Q1874 1279 1867 1437Z" fill="#76bb99"/>
<path d="M1702 1437Q1700 1315 1692 1234Q1706 1315 1711 1437Z" fill="#9edcbe"/>
<path d="M366 1438Q342 1295 233 1200Q347 1295 375 1438Z" fill="#76bb99"/>
<path d="M2003 1438Q2005 1318 2010 1239Q2012 1318 2013 1438Z" fill="#a6e3c6"/>
<path d="M950 1438Q958 1286 968 1185Q962 1286 957 1438Z" fill="#76bb99"/>
<path d="M1772 1438Q1786 1360 1806 1308Q1793 1360 1783 1438Z" fill="#76bb99"/>
<path d="M1180 1438Q1174 1345 1159 1283Q1178 1345 1186 1438Z" fill="#92d1b0"/>
<path d="M2169 1438Q2165 1336 2160 1267Q2170 1336 2176 1438Z" fill="#b0ebcf"/>
<path d="M524 1438Q508 1287 475 1187Q516 1287 535 1438Z" fill="#8ccbaa"/>
<path d="M1946 1438Q1942 1344 1916 1281Q1949 1344 1956 1438Z" fill="#76bb99"/>
<path d="M1695 1438Q1725 1314 1783 1231Q1733 1314 1707 1438Z" fill="#7cc1a0"/>
<path d="M385 1438Q360 1289 309 1189Q365 1289 393 1438Z" fill="#8ccbaa"/>
<path d="M2485 1438Q2483 1349 2474 1290Q2487 1349 2491 1438Z" fill="#a3e0c2"/>
<path d="M1027 1439Q1043 1310 1075 1225Q1049 1310 1035 1439Z" fill="#b0ebcf"/>
<path d="M1976 1439Q1961 1280 1945 1173Q1969 1280 1987 1439Z" fill="#6cb190"/>
<path d="M1533 1439Q1520 1330 1501 1258Q1524 1330 1539 1439Z" fill="#a6e3c6"/>
<path d="M1003 1440Q1018 1317 1086 1235Q1023 1317 1010 1440Z" fill="#6cb190"/>
<path d="M1594 1440Q1595 1354 1600 1296Q1598 1354 1598 1440Z" fill="#92d1b0"/>
<path d="M2054 1440Q2072 1318 2087 1236Q2078 1318 2062 1440Z" fill="#8ccbaa"/>
<path d="M2364 1440Q2354 1302 2346 1211Q2363 1302 2376 1440Z" fill="#87c7a6"/>
<path d="M1187 1440Q1183 1333 1181 1261Q1190 1333 1197 1440Z" fill="#8ccbaa"/>
<path d="M903 1440Q910 1326 923 1251Q914 1326 908 1440Z" fill="#a6e3c6"/>
<path d="M1273 1440Q1267 1335 1256 1264Q1270 1335 1277 1440Z" fill="#80c5a3"/>
<path d="M861 1440Q870 1317 891 1235Q875 1317 868 1440Z" fill="#9edcbe"/>
<path d="M1241 1441Q1269 1277 1375 1167Q1275 1277 1250 1441Z" fill="#8ccbaa"/>
<path d="M362 1442Q362 1352 355 1292Q368 1352 371 1442Z" fill="#6cb190"/>
<path d="M645 1442Q682 1333 719 1260Q688 1333 654 1442Z" fill="#b0ebcf"/>
<path d="M893 1442Q861 1340 823 1271Q867 1340 902 1442Z" fill="#a9e6c9"/>
<path d="M1039 1442Q1076 1342 1132 1276Q1080 1342 1045 1442Z" fill="#80c5a3"/>
<path d="M759 1442Q770 1325 790 1247Q774 1325 765 1442Z" fill="#9edcbe"/>
<path d="M1072 1442Q1088 1283 1113 1177Q1096 1283 1085 1442Z" fill="#87c7a6"/>
<path d="M662 1442Q660 1338 653 1268Q667 1338 673 1442Z" fill="#a6e3c6"/>
<path d="M914 1443Q921 1348 943 1284Q926 1348 922 1443Z" fill="#7cc1a0"/>
<path d="M937 1443Q860 1273 760 1160Q866 1273 947 1443Z" fill="#8ccbaa"/>
<path d="M1888 1443Q1877 1268 1870 1152Q1883 1268 1897 1443Z" fill="#b0ebcf"/>
<path d="M1576 1443Q1568 1316 1555 1231Q1572 1316 1581 1443Z" fill="#a6e3c6"/>
<path d="M925 1443Q904 1338 892 1267Q909 1338 932 1443Z" fill="#9edcbe"/>
<path d="M309 1443Q314 1321 330 1239Q317 1321 313 1443Z" fill="#a6e3c6"/>
<path d="M1426 1444Q1428 1279 1431 1168Q1435 1279 1437 1444Z" fill="#9edcbe"/>
<path d="M713 1444Q730 1298 819 1200Q735 1298 721 1444Z" fill="#7cc1a0"/>
<path d="M354 1444Q354 1344 344 1276Q360 1344 363 1444Z" fill="#76bb99"/>
<path d="M2238 1445Q2238 1307 2234 1216Q2246 1307 2250 1445Z" fill="#a6e3c6"/>
<path d="M769 1445Q772 1302 779 1208Q781 1302 782 1445Z" fill="#a3e0c2"/>
<path d="M370 1445Q408 1289 501 1185Q411 1289 375 1445Z" fill="#7cc1a0"/>
<path d="M2330 1445Q2310 1359 2259 1301Q2315 1359 2337 1445Z" fill="#80c5a3"/>
<path d="M1649 1445Q1662 1333 1674 1258Q1670 1333 1661 1445Z" fill="#b0ebcf"/>
<path d="M1872 1445Q1875 1338 1894 1266Q1881 1338 1881 1445Z" fill="#a6e3c6"/>
<path d="M497 1445Q512 1279 555 1168Q517 1279 505 1445Z" fill="#a6e3c6"/>
<path d="M359 1446Q405 1293 446 1191Q409 1293 365 1446Z" fill="#b0ebcf"/>
<path d="M1939 1446Q1942 1372 1961 1323Q1950 1372 1950 1446Z" fill="#70b593"/>
<path d="M2021 1447Q2040 1327 2101 1248Q2045 1327 2028 1447Z" fill="#a9e6c9"/>
<path d="M1065 1447Q1053 1291 1019 1186Q1057 1291 1071 1447Z" fill="#87c7a6"/>
<path d="M585 1447Q585 1365 583 1311Q592 1365 595 1447Z" fill="#a3e0c2"/>
<path d="M385 1447Q408 1286 459 1179Q416 1286 396 1447Z" fill="#7cc1a0"/>
<path d="M1325 1447Q1328 1341 1335 1271Q1337 1341 1338 1447Z" fill="#9edcbe"/>
<path d="M2482 1447Q2525 1319 2571 1233Q2528 1319 2486 1447Z" fill="#6cb190"/>
<path d="M585 1448Q606 1324 623 1241Q614 1324 597 1448Z" fill="#8ccbaa"/>
<path d="M1684 1448Q1671 1338 1660 1265Q1679 1338 1696 1448Z" fill="#7cc1a0"/>
<path d="M947 1448Q957 1335 982 1260Q966 1335 959 1448Z" fill="#b0ebcf"/>
<path d="M1125 1448Q1127 1358 1131 1297Q1134 1358 1135 1448Z" fill="#8ccbaa"/>
<path d="M2051 1448Q2044 1319 2038 1233Q2046 1319 2055 1448Z" fill="#87c7a6"/>
<path d="M1089 1448Q1085 1339 1080 1266Q1093 1339 1100 1448Z" fill="#a3e0c2"/>
<path d="M712 1448Q718 1337 752 1262Q724 1337 721 1448Z" fill="#76bb99"/>
<path d="M1774 1448Q1791 1313 1823 1222Q1799 1313 1786 1448Z" fill="#b0ebcf"/>
<path d="M1372 1448Q1370 1314 1363 1225Q1374 1314 1376 1448Z" fill="#80c5a3"/>
<path d="M649 1449Q621 1327 598 1246Q626 1327 656 1449Z" fill="#8ccbaa"/>
<path d="M2160 1449Q2170 1290 2179 1183Q2175 1290 2168 1449Z" fill="#87c7a6"/>
<path d="M310 1449Q319 1322 361 1237Q323 1322 317 1449Z" fill="#6cb190"/>
<path d="M1631 1449Q1616 1322 1601 1238Q1624 1322 1643 1449Z" fill="#70b593"/>
<path d="M1897 1449Q1901 1335 1915 1260Q1906 1335 1905 1449Z" fill="#76bb99"/>
<path d="M1797 1449Q1801 1285 1811 1176Q1807 1285 1807 1449Z" fill="#87c7a6"/>
<path d="M540 1449Q549 1313 575 1222Q556 1313 551 1449Z" fill="#80c5a3"/>
<path d="M1968 1449Q1946 1273 1877 1156Q1954 1273 1980 1449Z" fill="#a6e3c6"/>
<path d="M1805 1449Q1866 1328 1916 1246Q1871 1328 1812 1449Z" fill="#87c7a6"/>
<path d="M803 1450Q759 1321 675 1235Q766 1321 814 1450Z" fill="#a3e0c2"/>
<path d="M2403 1450Q2381 1341 2358 1268Q2385 1341 2408 1450Z" fill="#a6e3c6"/>
<path d="M870 1450Q849 1346 828 1276Q851 1346 874 1450Z" fill="#87c7a6"/>
<path d="M1398 1451Q1401 1377 1411 1329Q1409 1377 1409 1451Z" fill="#7cc1a0"/>
<path d="M374 1451Q348 1333 328 1255Q355 1333 385 1451Z" fill="#a6e3c6"/>
<path d="M1058 1451Q1028 1320 1004 1232Q1036 1320 1070 1451Z" fill="#9edcbe"/>
<path d="M1012 1451Q988 1304 946 1207Q991 1304 1017 1451Z" fill="#a3e0c2"/>
<path d="M565 1451Q558 1350 515 1283Q566 1350 577 1451Z" fill="#a6e3c6"/>
<path d="M1109 1452Q1128 1301 1178 1200Q1137 1301 1122 1452Z" fill="#a6e3c6"/>
<path d="M1060 1452Q989 1278 930 1163Q991 1278 1065 1452Z" fill="#80c5a3"/>
<path d="M1726 1452Q1726 1355 1726 1290Q1730 1355 1732 1452Z" fill="#8ccbaa"/>
<path d="M533 1452Q562 1255 631 1124Q569 1255 543 1452Z" fill="#87c7a6"/>
<path d="M777 1452Q789 1298 801 1195Q797 1298 789 1452Z" fill="#6cb190"/>
<path d="M447 1452Q428 1380 414 1332Q436 1380 459 1452Z" fill="#a3e0c2"/>
<path d="M2007 1453Q1978 1249 1955 1113Q1983 1249 2015 1453Z" fill="#9edcbe"/>
<path d="M1136 1453Q1115 1373 1036 1319Q1121 1373 1145 1453Z" fill="#87c7a6"/>
<path d="M1849 1453Q1849 1324 1848 1238Q1854 1324 1856 1453Z" fill="#70b593"/>
<path d="M1205 1453Q1198 1269 1194 1146Q1205 1269 1215 1453Z" fill="#7cc1a0"/>
<path d="M1967 1453Q1975 1377 1988 1326Q1983 1377 1979 1453Z" fill="#76bb99"/>
<path d="M832 1453Q860 1315 890 1223Q865 1315 839 1453Z" fill="#7cc1a0"/>
<path d="M1859 1454Q1886 1322 1911 1234Q1891 1322 1867 1454Z" fill="#a3e0c2"/>
<path d="M677 1454Q703 1327 723 1242Q708 1327 684 1454Z" fill="#92d1b0"/>
<path d="M1225 1454Q1216 1326 1183 1240Q1220 1326 1231 1454Z" fill="#9edcbe"/>
<path d="M1092 1454Q1077 1336 995 1258Q1080 1336 1097 1454Z" fill="#b0ebcf"/>
<path d="M1229 1454Q1195 1338 1151 1261Q1199 1338 1236 1454Z" fill="#a3e0c2"/>
<path d="M1845 1454Q1850 1273 1870 1151Q1855 1273 1852 1454Z" fill="#6cb190"/>
<path d="M1849 1455Q1884 1306 1941 1207Q1889 1306 1857 1455Z" fill="#a3e0c2"/>
<path d="M1225 1455Q1246 1321 1271 1232Q1252 1321 1234 1455Z" fill="#76bb99"/>
<path d="M2129 1455Q2132 1369 2141 1312Q2137 1369 2136 1455Z" fill="#a9e6c9"/>
<path d="M1265 1455Q1269 1363 1273 1301Q1273 1363 1271 1455Z" fill="#70b593"/>
<path d="M2272 1455Q2275 1358 2280 1293Q2279 1358 2278 1455Z" fill="#76bb99"/>
<path d="M1904 1455Q1889 1295 1827 1188Q1895 1295 1912 1455Z" fill="#a6e3c6"/>
<path d="M1604 1456Q1623 1298 1648 1193Q1629 1298 1612 1456Z" fill="#80c5a3"/>
<path d="M1924 1456Q1922 1351 1910 1281Q1925 1351 1929 1456Z" fill="#6cb190"/>
<path d="M1634 1456Q1647 1300 1682 1197Q1650 1300 1639 1456Z" fill="#a6e3c6"/>
<path d="M431 1456Q393 1309 368 1211Q399 1309 440 1456Z" fill="#9edcbe"/>
<path d="M1836 1456Q1866 1306 1891 1206Q1870 1306 1841 1456Z" fill="#9edcbe"/>
<path d="M547 1456Q550 1361 557 1298Q554 1361 553 1456Z" fill="#9edcbe"/>
<path d="M2056 1456Q2128 1256 2238 1123Q2133 1256 2064 1456Z" fill="#a3e0c2"/>
<path d="M2487 1456Q2482 1342 2440 1266Q2486 1342 2493 1456Z" fill="#87c7a6"/>
<path d="M2386 1456Q2398 1362 2419 1299Q2406 1362 2398 1456Z" fill="#6cb190"/>
<path d="M1360 1456Q1352 1309 1306 1211Q1360 1309 1371 1456Z" fill="#70b593"/>
<path d="M1672 1457Q1682 1330 1733 1246Q1690 1330 1683 1457Z" fill="#a3e0c2"/>
<path d="M1140 1458Q1166 1368 1215 1308Q1171 1368 1146 1458Z" fill="#70b593"/>
<path d="M1127 1458Q1127 1355 1118 1286Q1133 1355 1136 1458Z" fill="#7cc1a0"/>
<path d="M1809 1458Q1847 1363 1878 1299Q1851 1363 1815 1458Z" fill="#92d1b0"/>
<path d="M842 1459Q814 1279 753 1160Q818 1279 849 1459Z" fill="#a9e6c9"/>
<path d="M1846 1459Q1847 1344 1851 1267Q1850 1344 1851 1459Z" fill="#76bb99"/>
<path d="M392 1459Q396 1370 406 1310Q400 1370 398 1459Z" fill="#6cb190"/>
<path d="M513 1460Q500 1339 486 1258Q506 1339 522 1460Z" fill="#a6e3c6"/>
<path d="M560 1460Q549 1287 496 1171Q554 1287 567 1460Z" fill="#6cb190"/>
<path d="M708 1460Q668 1295 599 1185Q675 1295 719 1460Z" fill="#7cc1a0"/>
<path d="M530 1460Q532 1340 535 1260Q539 1340 540 1460Z" fill="#6cb190"/>
<path d="M387 1460Q374 1344 346 1267Q378 1344 393 1460Z" fill="#76bb99"/>
<path d="M419 1460Q423 1304 432 1200Q429 1304 428 1460Z" fill="#80c5a3"/>
<path d="M1989 1460Q1973 1339 1957 1258Q1979 1339 1998 1460Z" fill="#7cc1a0"/>
<path d="M1905 1460Q1985 1302 2065 1196Q1989 1302 1911 1460Z" fill="#6cb190"/>
<path d="M473 1460Q485 1345 511 1269Q494 1345 485 1460Z" fill="#80c5a3"/>
<path d="M1052 1461Q1044 1308 1040 1207Q1052 1308 1064 1461Z" fill="#70b593"/>
<path d="M1111 1461Q1112 1333 1116 1248Q1118 1333 1120 1461Z" fill="#87c7a6"/>
<path d="M344 1462Q344 1327 345 1237Q348 1327 351 1462Z" fill="#a3e0c2"/>
<path d="M2102 1462Q2108 1340 2129 1258Q2116 1340 2113 1462Z" fill="#b0ebcf"/>
<path d="M860 1462Q863 1331 873 1243Q870 1331 870 1462Z" fill="#87c7a6"/>
<path d="M322 1462Q345 1304 415 1198Q352 1304 332 1462Z" fill="#76bb99"/>
<path d="M1527 1462Q1526 1384 1524 1332Q1529 1384 1531 1462Z" fill="#b0ebcf"/>
<path d="M2267 1462Q2206 1311 2165 1211Q2214 1311 2279 1462Z" fill="#a9e6c9"/>
<path d="M1792 1462Q1787 1319 1768 1223Q1790 1319 1797 1462Z" fill="#9edcbe"/>
<path d="M669 1463Q667 1268 641 1139Q676 1268 682 1463Z" fill="#92d1b0"/>
<path d="M1829 1463Q1829 1333 1829 1246Q1837 1333 1841 1463Z" fill="#a6e3c6"/>
<path d="M1754 1463Q1735 1280 1690 1158Q1738 1280 1759 1463Z" fill="#9edcbe"/>
<path d="M1031 1463Q1051 1280 1100 1159Q1058 1280 1041 1463Z" fill="#9edcbe"/>
<path d="M668 1463Q683 1386 703 1335Q692 1386 681 1463Z" fill="#9edcbe"/>
<path d="M968 1463Q938 1369 886 1306Q941 1369 972 1463Z" fill="#a3e0c2"/>
<path d="M1267 1463Q1253 1351 1230 1277Q1260 1351 1277 1463Z" fill="#6cb190"/>
<path d="M2269 1464Q2257 1267 2165 1136Q2263 1267 2278 1464Z" fill="#6cb190"/>
<path d="M1769 1464Q1769 1344 1770 1265Q1774 1344 1777 1464Z" fill="#7cc1a0"/>
<path d="M1006 1464Q1015 1300 1063 1190Q1022 1300 1015 1464Z" fill="#76bb99"/>
<path d="M540 1464Q551 1331 560 1243Q556 1331 547 1464Z" fill="#a3e0c2"/>
<path d="M1625 1464Q1582 1294 1539 1180Q1590 1294 1638 1464Z" fill="#76bb99"/>
<path d="M2006 1464Q2002 1327 1979 1235Q2010 1327 2017 1464Z" fill="#7cc1a0"/>
<path d="M2289 1464Q2270 1368 2230 1304Q2273 1368 2293 1464Z" fill="#76bb99"/>
<path d="M2195 1464Q2199 1367 2203 1303Q2207 1367 2208 1464Z" fill="#70b593"/>
<path d="M888 1465Q868 1345 844 1266Q872 1345 893 1465Z" fill="#9edcbe"/>
<path d="M1931 1465Q1923 1388 1910 1336Q1928 1388 1937 1465Z" fill="#b0ebcf"/>
<path d="M290 1465Q289 1335 281 1248Q294 1335 298 1465Z" fill="#9edcbe"/>
<path d="M1862 1465Q1850 1383 1842 1329Q1855 1383 1869 1465Z" fill="#9edcbe"/>
<path d="M1354 1466Q1336 1329 1227 1238Q1340 1329 1359 1466Z" fill="#70b593"/>
<path d="M578 1466Q594 1386 627 1333Q600 1386 587 1466Z" fill="#9edcbe"/>
<path d="M1313 1466Q1286 1302 1254 1193Q1292 1302 1322 1466Z" fill="#80c5a3"/>
<path d="M1906 1466Q1914 1290 1941 1173Q1917 1290 1911 1466Z" fill="#92d1b0"/>
<path d="M1003 1466Q1009 1311 1023 1208Q1014 1311 1011 1466Z" fill="#a3e0c2"/>
<path d="M2465 1467Q2454 1389 2439 1338Q2462 1389 2477 1467Z" fill="#a3e0c2"/>
<path d="M682 1467Q701 1342 736 1259Q709 1342 694 1467Z" fill="#6cb190"/>
<path d="M619 1467Q622 1310 628 1206Q629 1310 629 1467Z" fill="#a3e0c2"/>
<path d="M946 1467Q994 1326 1077 1233Q1000 1326 955 1467Z" fill="#9edcbe"/>
<path d="M1068 1467Q1155 1310 1217 1206Q1158 1310 1072 1467Z" fill="#7cc1a0"/>
<path d="M331 1467Q358 1269 405 1137Q362 1269 336 1467Z" fill="#a6e3c6"/>
<path d="M1785 1467Q1789 1339 1795 1253Q1797 1339 1797 1467Z" fill="#8ccbaa"/>
<path d="M1185 1467Q1206 1390 1224 1338Q1214 1390 1197 1467Z" fill="#6cb190"/>
<path d="M718 1467Q704 1325 671 1230Q708 1325 725 1467Z" fill="#6cb190"/>
<path d="M1262 1467Q1259 1324 1250 1228Q1268 1324 1274 1467Z" fill="#92d1b0"/>
<path d="M477 1467Q494 1388 512 1335Q500 1388 486 1467Z" fill="#a3e0c2"/>
<path d="M2393 1468Q2390 1315 2361 1214Q2398 1315 2405 1468Z" fill="#76bb99"/>
<path d="M2097 1468Q2098 1287 2100 1166Q2105 1287 2108 1468Z" fill="#a6e3c6"/>
<path d="M1283 1468Q1301 1381 1320 1322Q1308 1381 1293 1468Z" fill="#a9e6c9"/>
<path d="M2039 1468Q2041 1318 2049 1217Q2046 1318 2047 1468Z" fill="#b0ebcf"/>
<path d="M315 1468Q319 1396 331 1348Q327 1396 327 1468Z" fill="#8ccbaa"/>
<path d="M2450 1468Q2401 1284 2325 1162Q2409 1284 2463 1468Z" fill="#92d1b0"/>
<path d="M1590 1468Q1608 1320 1657 1222Q1613 1320 1597 1468Z" fill="#a9e6c9"/>
<path d="M2094 1469Q2088 1378 2078 1317Q2092 1378 2099 1469Z" fill="#7cc1a0"/>
<path d="M1810 1469Q1751 1346 1710 1264Q1755 1346 1816 1469Z" fill="#a3e0c2"/>
<path d="M1139 1469Q1143 1368 1147 1301Q1146 1368 1143 1469Z" fill="#87c7a6"/>
<path d="M2391 1470Q2391 1333 2381 1242Q2400 1333 2404 1470Z" fill="#92d1b0"/>
<path d="M2147 1470Q2150 1382 2155 1323Q2155 1382 2154 1470Z" fill="#a6e3c6"/>
<path d="M2031 1470Q2016 1366 1998 1297Q2019 1366 2035 1470Z" fill="#70b593"/>
<path d="M549 1470Q547 1339 544 1251Q551 1339 555 1470Z" fill="#b0ebcf"/>
<path d="M1674 1470Q1676 1348 1681 1267Q1682 1348 1683 1470Z" fill="#70b593"/>
<path d="M2096 1470Q2121 1290 2140 1170Q2126 1290 2104 1470Z" fill="#b0ebcf"/>
<path d="M1655 1470Q1614 1342 1577 1256Q1620 1342 1663 1470Z" fill="#80c5a3"/>
<path d="M1096 1470Q1094 1391 1078 1339Q1102 1391 1108 1470Z" fill="#a3e0c2"/>
<path d="M457 1470Q451 1394 441 1343Q458 1394 466 1470Z" fill="#a6e3c6"/>
<path d="M2168 1471Q2178 1319 2212 1217Q2186 1319 2181 1471Z" fill="#70b593"/>
<path d="M826 1472Q806 1339 786 1251Q814 1339 838 1472Z" fill="#92d1b0"/>
<path d="M1471 1472Q1483 1300 1502 1186Q1489 1300 1479 1472Z" fill="#8ccbaa"/>
<path d="M1707 1472Q1713 1340 1724 1252Q1716 1340 1711 1472Z" fill="#6cb190"/>
<path d="M605 1472Q608 1380 611 1319Q611 1380 610 1472Z" fill="#a9e6c9"/>
<path d="M443 1472Q451 1278 491 1148Q459 1278 455 1472Z" fill="#92d1b0"/>
<path d="M2232 1472Q2253 1308 2319 1199Q2257 1308 2239 1472Z" fill="#8ccbaa"/>
<path d="M2483 1472Q2486 1322 2495 1223Q2494 1322 2495 1472Z" fill="#80c5a3"/>
<path d="M2133 1472Q2111 1331 2091 1238Q2114 1331 2137 1472Z" fill="#a9e6c9"/>
<path d="M2228 1472Q2240 1310 2294 1201Q2246 1310 2237 1472Z" fill="#a9e6c9"/>
<path d="M638 1472Q622 1331 610 1237Q628 1331 646 1472Z" fill="#a3e0c2"/>
<path d="M478 1473Q498 1326 533 1228Q502 1326 484 1473Z" fill="#87c7a6"/>
<path d="M1154 1473Q1147 1309 1135 1200Q1154 1309 1165 1473Z" fill="#76bb99"/>
<path d="M2191 1473Q2184 1343 2130 1256Q2187 1343 2195 1473Z" fill="#b0ebcf"/>
<path d="M746 1473Q734 1317 698 1212Q742 1317 759 1473Z" fill="#a3e0c2"/>
<path d="M1357 1473Q1370 1321 1419 1220Q1376 1321 1366 1473Z" fill="#9edcbe"/>
<path d="M817 1473Q775 1320 734 1218Q778 1320 821 1473Z" fill="#92d1b0"/>
<path d="M1405 1473Q1393 1327 1379 1230Q1396 1327 1409 1473Z" fill="#87c7a6"/>
<path d="M2247 1474Q2262 1370 2315 1301Q2267 1370 2253 1474Z" fill="#7cc1a0"/>
<path d="M1918 1474Q1926 1399 1939 1350Q1933 1399 1929 1474Z" fill="#a9e6c9"/>
<path d="M1747 1474Q1762 1368 1778 1298Q1765 1368 1751 1474Z" fill="#a3e0c2"/>
<path d="M1317 1474Q1288 1364 1229 1291Q1295 1364 1326 1474Z" fill="#a3e0c2"/>
<path d="M1453 1474Q1455 1377 1459 1313Q1461 1377 1462 1474Z" fill="#87c7a6"/>
<path d="M288 1474Q295 1314 324 1208Q299 1314 294 1474Z" fill="#6cb190"/>
<path d="M1639 1474Q1668 1332 1772 1237Q1671 1332 1643 1474Z" fill="#80c5a3"/>
<path d="M567 1474Q568 1330 569 1234Q571 1330 572 1474Z" fill="#92d1b0"/>
<path d="M1056 1475Q1056 1309 1051 1198Q1059 1309 1061 1475Z" fill="#76bb99"/>
<path d="M2190 1475Q2201 1359 2253 1282Q2209 1359 2202 1475Z" fill="#76bb99"/>
<path d="M1931 1475Q1945 1302 1968 1186Q1950 1302 1940 1475Z" fill="#a6e3c6"/>
<path d="M1394 1475Q1418 1390 1441 1334Q1425 1390 1406 1475Z" fill="#87c7a6"/>
<path d="M1957 1475Q1959 1326 1961 1226Q1963 1326 1964 1475Z" fill="#6cb190"/>
<path d="M1316 1476Q1307 1353 1292 1271Q1311 1353 1321 1476Z" fill="#92d1b0"/>
<path d="M1439 1476Q1462 1337 1510 1245Q1465 1337 1443 1476Z" fill="#87c7a6"/>
<path d="M797 1476Q768 1381 741 1318Q775 1381 808 1476Z" fill="#76bb99"/>
<path d="M1976 1476Q2008 1349 2061 1264Q2016 1349 1988 1476Z" fill="#a6e3c6"/>
<path d="M1090 1476Q1148 1371 1192 1301Q1153 1371 1097 1476Z" fill="#9edcbe"/>
<path d="M500 1476Q494 1348 437 1262Q498 1348 507 1476Z" fill="#70b593"/>
<path d="M2499 1477Q2520 1338 2547 1246Q2524 1338 2505 1477Z" fill="#92d1b0"/>
<path d="M448 1477Q439 1382 434 1319Q445 1382 457 1477Z" fill="#9edcbe"/>
<path d="M1198 1477Q1179 1372 1154 1302Q1182 1372 1204 1477Z" fill="#9edcbe"/>
<path d="M583 1477Q585 1350 589 1265Q593 1350 594 1477Z" fill="#a3e0c2"/>
<path d="M2043 1477Q2023 1404 1999 1355Q2027 1404 2049 1477Z" fill="#a6e3c6"/>
<path d="M997 1477Q996 1394 987 1339Q1003 1394 1008 1477Z" fill="#8ccbaa"/>
<path d="M2343 1477Q2366 1363 2390 1287Q2369 1363 2347 1477Z" fill="#80c5a3"/>
<path d="M2368 1477Q2404 1338 2452 1246Q2410 1338 2376 1477Z" fill="#9edcbe"/>
<path d="M663 1478Q676 1352 725 1267Q684 1352 676 1478Z" fill="#80c5a3"/>
<path d="M1509 1478Q1533 1348 1572 1261Q1535 1348 1513 1478Z" fill="#a3e0c2"/>
<path d="M1769 1478Q1755 1353 1744 1269Q1761 1353 1778 1478Z" fill="#b0ebcf"/>
<path d="M2031 1478Q2104 1326 2183 1225Q2109 1326 2039 1478Z" fill="#8ccbaa"/>
<path d="M718 1478Q685 1371 634 1300Q691 1371 727 1478Z" fill="#80c5a3"/>
<path d="M794 1478Q778 1298 697 1177Q782 1298 800 1478Z" fill="#9edcbe"/>
<path d="M594 1478Q575 1366 540 1290Q578 1366 599 1478Z" fill="#6cb190"/>
<path d="M1704 1479Q1693 1371 1619 1299Q1700 1371 1714 1479Z" fill="#a3e0c2"/>
<path d="M1455 1479Q1417 1375 1392 1305Q1421 1375 1461 1479Z" fill="#70b593"/>
<path d="M618 1479Q626 1304 654 1187Q635 1304 630 1479Z" fill="#76bb99"/>
<path d="M1686 1479Q1706 1314 1800 1204Q1709 1314 1690 1479Z" fill="#7cc1a0"/>
<path d="M2096 1480Q2090 1292 2067 1166Q2095 1292 2104 1480Z" fill="#a3e0c2"/>
<path d="M1997 1480Q2003 1305 2045 1188Q2007 1305 2003 1480Z" fill="#6cb190"/>
<path d="M1810 1480Q1832 1310 1855 1197Q1843 1310 1826 1480Z" fill="#6cb190"/>
<path d="M2167 1480Q2187 1330 2246 1229Q2198 1330 2184 1480Z" fill="#6cb190"/>
<path d="M299 1480Q319 1343 389 1251Q330 1343 316 1480Z" fill="#80c5a3"/>
<path d="M2058 1480Q2061 1379 2066 1312Q2066 1379 2065 1480Z" fill="#a6e3c6"/>
<path d="M2263 1481Q2258 1330 2244 1229Q2269 1330 2280 1481Z" fill="#b0ebcf"/>
<path d="M446 1481Q462 1342 489 1250Q470 1342 458 1481Z" fill="#80c5a3"/>
<path d="M543 1481Q527 1328 516 1227Q533 1328 553 1481Z" fill="#8ccbaa"/>
<path d="M521 1481Q526 1328 546 1227Q532 1328 530 1481Z" fill="#8ccbaa"/>
<path d="M624 1481Q639 1346 702 1257Q647 1346 637 1481Z" fill="#87c7a6"/>
<path d="M2211 1481Q2221 1306 2255 1189Q2224 1306 2217 1481Z" fill="#76bb99"/>
<path d="M2136 1481Q2149 1287 2172 1158Q2155 1287 2146 1481Z" fill="#8ccbaa"/>
<path d="M991 1481Q995 1300 1006 1179Q1007 1300 1008 1481Z" fill="#b0ebcf"/>
<path d="M893 1481Q893 1384 891 1319Q897 1384 900 1481Z" fill="#a9e6c9"/>
<path d="M1935 1481Q1936 1279 1938 1145Q1946 1279 1950 1481Z" fill="#80c5a3"/>
<path d="M1258 1482Q1263 1348 1289 1260Q1268 1348 1266 1482Z" fill="#80c5a3"/>
<path d="M1444 1482Q1437 1347 1421 1258Q1447 1347 1460 1482Z" fill="#8ccbaa"/>
<path d="M355 1482Q353 1348 329 1259Q359 1348 365 1482Z" fill="#b0ebcf"/>
<path d="M2171 1482Q2166 1300 2106 1179Q2176 1300 2186 1482Z" fill="#92d1b0"/>
<path d="M1506 1482Q1527 1259 1557 1110Q1531 1259 1513 1482Z" fill="#70b593"/>
<path d="M2152 1482Q2170 1310 2195 1196Q2180 1310 2167 1482Z" fill="#80c5a3"/>
<path d="M2323 1482Q2310 1350 2301 1262Q2315 1350 2331 1482Z" fill="#87c7a6"/>
<path d="M598 1482Q632 1385 660 1321Q640 1385 611 1482Z" fill="#7cc1a0"/>
<path d="M1021 1482Q1010 1321 1002 1214Q1018 1321 1032 1482Z" fill="#a6e3c6"/>
<path d="M1469 1482Q1459 1260 1425 1111Q1469 1260 1484 1482Z" fill="#a3e0c2"/>
<path d="M1301 1482Q1272 1346 1229 1255Q1278 1346 1311 1482Z" fill="#76bb99"/>
<path d="M403 1483Q385 1336 349 1239Q397 1336 421 1483Z" fill="#87c7a6"/>
<path d="M371 1483Q352 1342 282 1248Q360 1342 383 1483Z" fill="#70b593"/>
<path d="M811 1483Q802 1339 724 1244Q812 1339 826 1483Z" fill="#87c7a6"/>
<path d="M1909 1483Q1985 1311 2040 1197Q1995 1311 1924 1483Z" fill="#76bb99"/>
<path d="M1345 1483Q1343 1312 1342 1198Q1348 1312 1352 1483Z" fill="#87c7a6"/>
<path d="M2500 1483Q2468 1291 2446 1164Q2478 1291 2514 1483Z" fill="#76bb99"/>
<path d="M1332 1483Q1355 1328 1419 1225Q1365 1328 1346 1483Z" fill="#6cb190"/>
<path d="M1970 1483Q1973 1390 1988 1328Q1977 1390 1976 1483Z" fill="#a3e0c2"/>
<path d="M2290 1483Q2285 1344 2270 1251Q2296 1344 2307 1483Z" fill="#6cb190"/>
<path d="M638 1483Q631 1298 595 1175Q640 1298 651 1483Z" fill="#9edcbe"/>
<path d="M988 1483Q1009 1354 1027 1268Q1017 1354 1001 1483Z" fill="#a6e3c6"/>
<path d="M500 1483Q529 1371 566 1296Q539 1371 515 1483Z" fill="#a9e6c9"/>
<path d="M1975 1483Q1973 1276 1974 1138Q1982 1276 1988 1483Z" fill="#6cb190"/>
<path d="M2267 1483Q2259 1301 2246 1180Q2263 1301 2273 1483Z" fill="#a3e0c2"/>
<path d="M1503 1483Q1507 1298 1514 1175Q1514 1298 1515 1483Z" fill="#76bb99"/>
<path d="M724 1483Q728 1362 741 1281Q738 1362 739 1483Z" fill="#80c5a3"/>
<path d="M1250 1484Q1245 1341 1225 1246Q1251 1341 1259 1484Z" fill="#76bb99"/>
<path d="M2118 1484Q2106 1348 2101 1258Q2117 1348 2134 1484Z" fill="#a3e0c2"/>
<path d="M1750 1484Q1758 1326 1767 1221Q1763 1326 1758 1484Z" fill="#7cc1a0"/>
<path d="M1979 1484Q2000 1365 2026 1286Q2012 1365 1997 1484Z" fill="#92d1b0"/>
<path d="M1143 1484Q1154 1313 1170 1200Q1161 1313 1153 1484Z" fill="#8ccbaa"/>
<path d="M895 1484Q894 1357 882 1272Q899 1357 903 1484Z" fill="#9edcbe"/>
<path d="M2131 1485Q2075 1296 1987 1171Q2081 1296 2140 1485Z" fill="#a6e3c6"/>
<path d="M674 1485Q704 1317 770 1205Q710 1317 684 1485Z" fill="#80c5a3"/>
<path d="M970 1485Q959 1345 941 1253Q966 1345 979 1485Z" fill="#a3e0c2"/>
<path d="M1464 1485Q1501 1386 1532 1320Q1504 1386 1470 1485Z" fill="#a9e6c9"/>
<path d="M1736 1485Q1746 1320 1798 1210Q1752 1320 1745 1485Z" fill="#76bb99"/>
<path d="M1656 1485Q1653 1338 1653 1241Q1663 1338 1671 1485Z" fill="#80c5a3"/>
<path d="M1632 1485Q1622 1328 1616 1223Q1628 1328 1642 1485Z" fill="#70b593"/>
<path d="M457 1485Q442 1338 427 1241Q448 1338 466 1485Z" fill="#a9e6c9"/>
<path d="M1011 1485Q1019 1347 1045 1255Q1024 1347 1018 1485Z" fill="#70b593"/>
<path d="M1636 1485Q1644 1307 1658 1188Q1654 1307 1650 1485Z" fill="#76bb99"/>
<path d="M2302 1485Q2286 1344 2215 1249Q2294 1344 2314 1485Z" fill="#8ccbaa"/>
<path d="M1358 1485Q1350 1261 1269 1112Q1360 1261 1373 1485Z" fill="#a6e3c6"/>
<path d="M343 1486Q337 1357 331 1271Q341 1357 349 1486Z" fill="#80c5a3"/>
<path d="M940 1486Q935 1338 934 1240Q946 1338 956 1486Z" fill="#a3e0c2"/>
<path d="M2443 1486Q2433 1352 2400 1263Q2441 1352 2455 1486Z" fill="#b0ebcf"/>
<path d="M726 1486Q725 1335 705 1235Q737 1335 744 1486Z" fill="#87c7a6"/>
<path d="M1398 1486Q1351 1285 1299 1150Q1357 1285 1406 1486Z" fill="#70b593"/>
<path d="M1129 1486Q1120 1332 1105 1229Q1126 1332 1138 1486Z" fill="#6cb190"/>
<path d="M1808 1486Q1917 1347 2003 1255Q1926 1347 1822 1486Z" fill="#8ccbaa"/>
<path d="M593 1486Q619 1354 641 1266Q626 1354 604 1486Z" fill="#92d1b0"/>
<path d="M2407 1486Q2419 1376 2504 1302Q2430 1376 2424 1486Z" fill="#b0ebcf"/>
<path d="M589 1486Q612 1353 634 1264Q617 1353 597 1486Z" fill="#9edcbe"/>
<path d="M1866 1486Q1879 1267 1893 1121Q1891 1267 1884 1486Z" fill="#a6e3c6"/>
<path d="M2365 1486Q2389 1343 2417 1248Q2400 1343 2381 1486Z" fill="#a9e6c9"/>
<path d="M1486 1486Q1483 1292 1481 1163Q1487 1292 1492 1486Z" fill="#b0ebcf"/>
<path d="M1347 1486Q1367 1281 1383 1144Q1373 1281 1356 1486Z" fill="#80c5a3"/>
<path d="M2178 1486Q2187 1352 2202 1263Q2196 1352 2191 1486Z" fill="#a3e0c2"/>
<path d="M746 1487Q748 1341 753 1244Q754 1341 755 1487Z" fill="#b0ebcf"/>
<path d="M1191 1487Q1185 1306 1164 1186Q1190 1306 1198 1487Z" fill="#a3e0c2"/>
<path d="M550 1487Q564 1299 642 1173Q571 1299 560 1487Z" fill="#87c7a6"/>
<path d="M578 1487Q616 1365 662 1284Q626 1365 593 1487Z" fill="#80c5a3"/>
<path d="M887 1487Q892 1272 900 1129Q904 1272 904 1487Z" fill="#8ccbaa"/>
<path d="M950 1487Q951 1287 952 1153Q955 1287 957 1487Z" fill="#a6e3c6"/>
<path d="M2033 1487Q2050 1313 2082 1198Q2057 1313 2044 1487Z" fill="#87c7a6"/>
<path d="M2188 1487Q2186 1389 2166 1323Q2194 1389 2201 1487Z" fill="#b0ebcf"/>
<path d="M1030 1487Q1039 1351 1066 1260Q1050 1351 1047 1487Z" fill="#a6e3c6"/>
<path d="M1780 1488Q1793 1311 1868 1193Q1798 1311 1787 1488Z" fill="#a9e6c9"/>
<path d="M1115 1488Q1134 1344 1172 1249Q1138 1344 1120 1488Z" fill="#9edcbe"/>
<path d="M2292 1488Q2261 1345 2168 1249Q2273 1345 2309 1488Z" fill="#70b593"/>
<path d="M1330 1488Q1329 1253 1322 1097Q1340 1253 1347 1488Z" fill="#a6e3c6"/>
<path d="M704 1488Q685 1345 660 1250Q691 1345 712 1488Z" fill="#80c5a3"/>
<path d="M906 1488Q920 1351 955 1259Q923 1351 912 1488Z" fill="#87c7a6"/>
<path d="M1548 1488Q1557 1288 1566 1155Q1562 1288 1555 1488Z" fill="#6cb190"/>
<path d="M2119 1488Q2119 1344 2111 1248Q2129 1344 2134 1488Z" fill="#a3e0c2"/>
<path d="M479 1488Q532 1345 573 1249Q536 1345 485 1488Z" fill="#a9e6c9"/>
<path d="M2040 1488Q2047 1322 2071 1210Q2053 1322 2049 1488Z" fill="#80c5a3"/>
<path d="M1685 1488Q1667 1322 1640 1210Q1672 1322 1693 1488Z" fill="#76bb99"/>
<path d="M443 1488Q497 1398 541 1337Q504 1398 453 1488Z" fill="#80c5a3"/>
<path d="M1203 1488Q1194 1371 1158 1292Q1205 1371 1220 1488Z" fill="#7cc1a0"/>
<path d="M1319 1489Q1335 1339 1359 1239Q1346 1339 1335 1489Z" fill="#80c5a3"/>
<path d="M682 1489Q714 1326 742 1217Q719 1326 689 1489Z" fill="#8ccbaa"/>
<path d="M830 1489Q832 1340 837 1241Q839 1340 839 1489Z" fill="#a6e3c6"/>
<path d="M682 1489Q625 1313 577 1196Q633 1313 694 1489Z" fill="#70b593"/>
<path d="M1578 1489Q1596 1355 1643 1265Q1605 1355 1591 1489Z" fill="#6cb190"/>
<path d="M1277 1489Q1297 1290 1362 1157Q1305 1290 1289 1489Z" fill="#92d1b0"/>
<path d="M2378 1489Q2343 1312 2247 1194Q2354 1312 2395 1489Z" fill="#a9e6c9"/>
<path d="M789 1489Q822 1364 873 1281Q834 1364 807 1489Z" fill="#92d1b0"/>
<path d="M2210 1489Q2192 1317 2072 1203Q2199 1317 2222 1489Z" fill="#9edcbe"/>
<path d="M1886 1489Q1878 1355 1805 1265Q1889 1355 1901 1489Z" fill="#76bb99"/>
<path d="M2222 1489Q2215 1392 2213 1327Q2225 1392 2236 1489Z" fill="#9edcbe"/>
<path d="M1501 1489Q1502 1357 1502 1269Q1506 1357 1508 1489Z" fill="#92d1b0"/>
<path d="M503 1489Q508 1309 513 1189Q512 1309 508 1489Z" fill="#a3e0c2"/>
<path d="M2145 1489Q2129 1232 2045 1061Q2136 1232 2155 1489Z" fill="#6cb190"/>
<path d="M1590 1489Q1623 1328 1673 1220Q1628 1328 1598 1489Z" fill="#b0ebcf"/>
<path d="M399 1489Q433 1333 511 1228Q438 1333 407 1489Z" fill="#92d1b0"/>
<path d="M772 1490Q792 1274 810 1130Q803 1274 788 1490Z" fill="#a9e6c9"/>
<path d="M2475 1490Q2467 1287 2435 1152Q2473 1287 2484 1490Z" fill="#92d1b0"/>
<path d="M947 1490Q939 1349 891 1255Q949 1349 962 1490Z" fill="#a3e0c2"/>
<path d="M549 1490Q565 1324 601 1213Q576 1324 565 1490Z" fill="#a3e0c2"/>
<path d="M760 1490Q774 1279 817 1138Q783 1279 774 1490Z" fill="#80c5a3"/>
<path d="M431 1490Q439 1374 486 1297Q447 1374 444 1490Z" fill="#9edcbe"/>
<path d="M1986 1490Q1996 1372 2047 1293Q2002 1372 1995 1490Z" fill="#7cc1a0"/>
<path d="M889 1490Q920 1346 967 1250Q927 1346 899 1490Z" fill="#9edcbe"/>
<path d="M2071 1491Q2068 1359 2042 1271Q2079 1359 2086 1491Z" fill="#70b593"/>
<path d="M1755 1491Q1734 1353 1711 1260Q1742 1353 1766 1491Z" fill="#a9e6c9"/>
<path d="M1915 1491Q1898 1322 1875 1209Q1907 1322 1927 1491Z" fill="#7cc1a0"/>
<path d="M563 1491Q560 1317 556 1201Q570 1317 578 1491Z" fill="#92d1b0"/>
<path d="M1712 1491Q1718 1315 1736 1197Q1726 1315 1724 1491Z" fill="#76bb99"/>
<path d="M1954 1491Q1927 1339 1908 1237Q1937 1339 1970 1491Z" fill="#70b593"/>
<path d="M2440 1491Q2463 1310 2497 1190Q2473 1310 2455 1491Z" fill="#9edcbe"/>
<path d="M1104 1491Q1147 1300 1221 1172Q1154 1300 1115 1491Z" fill="#7cc1a0"/>
<path d="M1027 1492Q1031 1358 1038 1269Q1042 1358 1044 1492Z" fill="#b0ebcf"/>
<path d="M2237 1492Q2151 1348 2091 1252Q2160 1348 2250 1492Z" fill="#7cc1a0"/>
<path d="M672 1492Q685 1233 697 1061Q693 1233 685 1492Z" fill="#7cc1a0"/>
<path d="M1263 1492Q1261 1329 1232 1220Q1269 1329 1275 1492Z" fill="#a9e6c9"/>
<path d="M1476 1492Q1482 1395 1505 1331Q1491 1395 1490 1492Z" fill="#a9e6c9"/>
<path d="M777 1492Q791 1278 843 1135Q801 1278 791 1492Z" fill="#8ccbaa"/>
<path d="M428 1493Q439 1320 482 1205Q447 1320 440 1493Z" fill="#70b593"/>
<path d="M457 1493Q458 1391 460 1324Q467 1391 470 1493Z" fill="#92d1b0"/>
<path d="M762 1493Q776 1383 807 1309Q784 1383 774 1493Z" fill="#a6e3c6"/>
<path d="M1979 1493Q1951 1312 1889 1192Q1959 1312 1989 1493Z" fill="#70b593"/>
<path d="M763 1493Q759 1399 747 1337Q770 1399 778 1493Z" fill="#a6e3c6"/>
<path d="M2401 1493Q2409 1335 2447 1229Q2421 1335 2418 1493Z" fill="#70b593"/>
<path d="M1385 1493Q1371 1346 1243 1247Q1380 1346 1398 1493Z" fill="#7cc1a0"/>
<path d="M1834 1493Q1827 1255 1780 1097Q1831 1255 1840 1493Z" fill="#80c5a3"/>
<path d="M612 1493Q640 1306 687 1181Q648 1306 624 1493Z" fill="#a6e3c6"/>
<path d="M385 1493Q396 1349 419 1253Q402 1349 394 1493Z" fill="#9edcbe"/>
<path d="M543 1493Q574 1338 625 1235Q581 1338 555 1493Z" fill="#a6e3c6"/>
<path d="M950 1493Q959 1336 968 1231Q964 1336 958 1493Z" fill="#a9e6c9"/>
<path d="M547 1494Q552 1359 565 1269Q558 1359 557 1494Z" fill="#92d1b0"/>
<path d="M2192 1494Q2190 1345 2189 1247Q2196 1345 2201 1494Z" fill="#80c5a3"/>
<path d="M1243 1494Q1222 1294 1153 1161Q1232 1294 1258 1494Z" fill="#92d1b0"/>
<path d="M537 1494Q530 1324 502 1211Q534 1324 542 1494Z" fill="#70b593"/>
<path d="M1446 1494Q1449 1286 1454 1147Q1459 1286 1461 1494Z" fill="#76bb99"/>
<path d="M1583 1494Q1600 1278 1617 1134Q1607 1278 1593 1494Z" fill="#7cc1a0"/>
<path d="M346 1494Q321 1333 286 1226Q327 1333 354 1494Z" fill="#a6e3c6"/>
<path d="M291 1494Q303 1356 346 1264Q308 1356 299 1494Z" fill="#a3e0c2"/>
<path d="M318 1494Q312 1332 303 1224Q318 1332 326 1494Z" fill="#a9e6c9"/>
<path d="M888 1494Q880 1318 852 1201Q885 1318 896 1494Z" fill="#8ccbaa"/>
<path d="M2055 1494Q2056 1313 2060 1192Q2066 1313 2071 1494Z" fill="#7cc1a0"/>
<path d="M1500 1494Q1538 1310 1580 1187Q1547 1310 1514 1494Z" fill="#a9e6c9"/>
<path d="M1081 1494Q1039 1243 965 1076Q1051 1243 1098 1494Z" fill="#80c5a3"/>
<path d="M797 1495Q733 1349 691 1252Q742 1349 811 1495Z" fill="#76bb99"/>
<path d="M2116 1495Q2148 1385 2186 1312Q2155 1385 2126 1495Z" fill="#8ccbaa"/>
<path d="M1131 1495Q1164 1339 1193 1236Q1174 1339 1146 1495Z" fill="#a3e0c2"/>
<path d="M1140 1495Q1163 1258 1253 1099Q1174 1258 1156 1495Z" fill="#b0ebcf"/>
<path d="M996 1495Q986 1348 968 1250Q995 1348 1009 1495Z" fill="#80c5a3"/>
<path d="M2369 1495Q2326 1331 2295 1221Q2330 1331 2375 1495Z" fill="#a9e6c9"/>
<path d="M1923 1495Q1938 1299 2042 1168Q1948 1299 1938 1495Z" fill="#9edcbe"/>
<path d="M1070 1495Q1071 1334 1065 1227Q1081 1334 1085 1495Z" fill="#8ccbaa"/>
<path d="M729 1496Q732 1298 742 1167Q740 1298 741 1496Z" fill="#a3e0c2"/>
<path d="M1600 1496Q1604 1381 1611 1305Q1615 1381 1617 1496Z" fill="#a6e3c6"/>
<path d="M445 1496Q446 1347 449 1247Q453 1347 455 1496Z" fill="#7cc1a0"/>
<path d="M1012 1496Q1029 1322 1071 1206Q1041 1322 1030 1496Z" fill="#87c7a6"/>
<path d="M2263 1496Q2266 1404 2273 1343Q2278 1404 2281 1496Z" fill="#a9e6c9"/>
<path d="M2024 1496Q2047 1325 2064 1210Q2052 1325 2032 1496Z" fill="#a3e0c2"/>
<path d="M1386 1497Q1435 1333 1505 1223Q1441 1333 1396 1497Z" fill="#9edcbe"/>
<path d="M2098 1497Q2099 1360 2101 1269Q2104 1360 2106 1497Z" fill="#7cc1a0"/>
<path d="M385 1497Q404 1367 470 1281Q413 1367 398 1497Z" fill="#b0ebcf"/>
<path d="M1114 1498Q1120 1302 1144 1172Q1130 1302 1128 1498Z" fill="#92d1b0"/>
<path d="M1561 1498Q1567 1387 1585 1313Q1576 1387 1575 1498Z" fill="#a3e0c2"/>
<path d="M2077 1498Q2079 1326 2083 1212Q2089 1326 2092 1498Z" fill="#92d1b0"/>
<path d="M450 1498Q480 1373 514 1290Q491 1373 466 1498Z" fill="#7cc1a0"/>
<path d="M2273 1498Q2269 1355 2265 1261Q2276 1355 2283 1498Z" fill="#8ccbaa"/>
<path d="M369 1498Q363 1387 355 1313Q368 1387 376 1498Z" fill="#9edcbe"/>
<path d="M2501 1498Q2498 1395 2494 1327Q2504 1395 2509 1498Z" fill="#9edcbe"/>
<path d="M713 1498Q707 1342 687 1237Q712 1342 720 1498Z" fill="#b0ebcf"/>
<path d="M747 1498Q741 1379 737 1300Q746 1379 754 1498Z" fill="#6cb190"/>
<path d="M1973 1498Q1981 1342 1992 1238Q1991 1342 1989 1498Z" fill="#a3e0c2"/>
<path d="M1645 1498Q1677 1344 1749 1241Q1681 1344 1651 1498Z" fill="#87c7a6"/>
<path d="M1891 1498Q1890 1310 1882 1184Q1899 1310 1906 1498Z" fill="#76bb99"/>
<path d="M830 1498Q838 1362 881 1271Q848 1362 846 1498Z" fill="#80c5a3"/>
<path d="M1717 1498Q1740 1312 1775 1188Q1744 1312 1722 1498Z" fill="#70b593"/>
<path d="M2264 1499Q2290 1355 2349 1259Q2301 1355 2280 1499Z" fill="#8ccbaa"/>
<path d="M585 1499Q562 1325 480 1210Q573 1325 602 1499Z" fill="#8ccbaa"/>
<path d="M1509 1499Q1568 1391 1631 1319Q1576 1391 1520 1499Z" fill="#8ccbaa"/>
<path d="M2096 1499Q2101 1376 2119 1295Q2111 1376 2111 1499Z" fill="#7cc1a0"/>
<path d="M1478 1499Q1481 1350 1487 1251Q1490 1350 1492 1499Z" fill="#70b593"/>
<path d="M2412 1499Q2422 1301 2438 1169Q2428 1301 2420 1499Z" fill="#b0ebcf"/>
<path d="M1148 1499Q1151 1309 1160 1181Q1159 1309 1160 1499Z" fill="#76bb99"/>
<path d="M1451 1500Q1436 1309 1424 1181Q1440 1309 1457 1500Z" fill="#a3e0c2"/>
<path d="M755 1500Q773 1282 814 1136Q784 1282 771 1500Z" fill="#a3e0c2"/>
<path d="M1266 1500Q1273 1343 1286 1239Q1277 1343 1273 1500Z" fill="#80c5a3"/>
<path d="M613 1500Q644 1280 737 1133Q655 1280 630 1500Z" fill="#9edcbe"/>
<path d="M398 1500Q425 1341 472 1235Q434 1341 411 1500Z" fill="#a6e3c6"/>
<path d="M2458 1500Q2463 1358 2475 1264Q2474 1358 2475 1500Z" fill="#70b593"/>
<path d="M1178 1500Q1154 1333 1136 1222Q1164 1333 1193 1500Z" fill="#76bb99"/>
<path d="M1265 1500Q1267 1403 1269 1338Q1273 1403 1275 1500Z" fill="#87c7a6"/>
<path d="M2102 1500Q2080 1367 2061 1278Q2091 1367 2119 1500Z" fill="#a9e6c9"/>
<path d="M2369 1500Q2363 1354 2357 1257Q2374 1354 2385 1500Z" fill="#a6e3c6"/>
<path d="M367 1500Q397 1288 423 1147Q409 1288 384 1500Z" fill="#80c5a3"/>
<path d="M573 1500Q634 1277 697 1129Q646 1277 590 1500Z" fill="#87c7a6"/>
<path d="M908 1500Q940 1320 967 1199Q945 1320 917 1500Z" fill="#70b593"/>
<path d="M2185 1500Q2147 1273 2084 1122Q2159 1273 2203 1500Z" fill="#80c5a3"/>
<path d="M2232 1500Q2264 1363 2327 1272Q2270 1363 2242 1500Z" fill="#a6e3c6"/>
<path d="M1409 1500Q1416 1310 1455 1183Q1420 1310 1415 1500Z" fill="#a6e3c6"/>
<path d="M1296 1500Q1246 1345 1171 1242Q1258 1345 1313 1500Z" fill="#6cb190"/>
<path d="M1332 1501Q1354 1375 1403 1291Q1366 1375 1350 1501Z" fill="#76bb99"/>
<path d="M868 1501Q860 1383 785 1304Q872 1383 886 1501Z" fill="#8ccbaa"/>
<path d="M1700 1501Q1670 1328 1610 1213Q1675 1328 1707 1501Z" fill="#70b593"/>
<path d="M1849 1501Q1850 1286 1850 1142Q1860 1286 1864 1501Z" fill="#a6e3c6"/>
<path d="M1390 1501Q1368 1326 1318 1208Q1375 1326 1401 1501Z" fill="#a6e3c6"/>
<path d="M1725 1501Q1717 1387 1711 1311Q1721 1387 1731 1501Z" fill="#92d1b0"/>
<path d="M2106 1502Q2104 1313 2091 1187Q2110 1313 2115 1502Z" fill="#6cb190"/>
<path d="M1178 1502Q1171 1301 1153 1167Q1177 1301 1186 1502Z" fill="#a9e6c9"/>
<path d="M2100 1502Q2104 1370 2111 1282Q2115 1370 2115 1502Z" fill="#7cc1a0"/>
<path d="M1254 1502Q1287 1362 1355 1269Q1295 1362 1266 1502Z" fill="#87c7a6"/>
<path d="M280 1502Q284 1337 290 1227Q295 1337 298 1502Z" fill="#7cc1a0"/>
<path d="M754 1502Q723 1344 702 1238Q731 1344 765 1502Z" fill="#6cb190"/>
<path d="M1528 1502Q1527 1364 1528 1273Q1537 1364 1543 1502Z" fill="#a3e0c2"/>
<path d="M1072 1502Q1061 1341 1007 1234Q1069 1341 1083 1502Z" fill="#a9e6c9"/>
<path d="M2177 1502Q2170 1384 2165 1306Q2176 1384 2185 1502Z" fill="#a3e0c2"/>
<path d="M1668 1502Q1684 1315 1740 1191Q1688 1315 1674 1502Z" fill="#92d1b0"/>
<path d="M293 1502Q311 1328 368 1212Q318 1328 302 1502Z" fill="#76bb99"/>
<path d="M1318 1503Q1327 1398 1364 1328Q1336 1398 1332 1503Z" fill="#87c7a6"/>
<path d="M2029 1503Q2018 1346 1980 1241Q2023 1346 2035 1503Z" fill="#76bb99"/>
<path d="M2246 1503Q2257 1363 2268 1269Q2264 1363 2257 1503Z" fill="#a6e3c6"/>
<path d="M1348 1503Q1306 1237 1272 1060Q1314 1237 1360 1503Z" fill="#b0ebcf"/>
<path d="M1888 1503Q1885 1378 1880 1295Q1893 1378 1902 1503Z" fill="#70b593"/>
<path d="M2138 1503Q2155 1346 2182 1241Q2164 1346 2152 1503Z" fill="#9edcbe"/>
<path d="M543 1504Q571 1413 601 1353Q574 1413 549 1504Z" fill="#9edcbe"/>
<path d="M2030 1504Q2009 1376 1969 1291Q2016 1376 2041 1504Z" fill="#6cb190"/>
<path d="M1602 1504Q1631 1340 1685 1230Q1638 1340 1613 1504Z" fill="#6cb190"/>
<path d="M717 1504Q714 1331 713 1216Q725 1331 732 1504Z" fill="#87c7a6"/>
<path d="M968 1504Q963 1389 958 1312Q968 1389 976 1504Z" fill="#7cc1a0"/>
<path d="M399 1504Q420 1412 440 1350Q431 1412 416 1504Z" fill="#92d1b0"/>
<path d="M2255 1504Q2238 1372 2210 1285Q2242 1372 2262 1504Z" fill="#76bb99"/>
<path d="M1714 1504Q1722 1323 1730 1202Q1729 1323 1726 1504Z" fill="#6cb190"/>
<path d="M627 1504Q607 1354 584 1255Q612 1354 633 1504Z" fill="#80c5a3"/>
<path d="M2032 1504Q2057 1321 2147 1199Q2068 1321 2048 1504Z" fill="#a6e3c6"/>
<path d="M613 1504Q581 1338 530 1227Q591 1338 627 1504Z" fill="#a3e0c2"/>
<path d="M894 1504Q905 1362 919 1266Q912 1362 904 1504Z" fill="#9edcbe"/>
<path d="M1864 1504Q1872 1357 1931 1259Q1879 1357 1875 1504Z" fill="#76bb99"/>
<path d="M1695 1504Q1703 1319 1745 1196Q1709 1319 1704 1504Z" fill="#70b593"/>
<path d="M324 1504Q251 1306 196 1174Q263 1306 342 1504Z" fill="#87c7a6"/>
<path d="M1751 1505Q1757 1361 1780 1265Q1767 1361 1766 1505Z" fill="#8ccbaa"/>
<path d="M1931 1505Q1932 1342 1928 1233Q1938 1342 1941 1505Z" fill="#7cc1a0"/>
<path d="M1004 1505Q1125 1241 1240 1065Q1136 1241 1021 1505Z" fill="#9edcbe"/>
<path d="M1062 1505Q1059 1333 1036 1219Q1063 1333 1069 1505Z" fill="#6cb190"/>
<path d="M2121 1505Q2108 1382 2015 1301Q2112 1382 2127 1505Z" fill="#6cb190"/>
<path d="M473 1505Q518 1345 570 1238Q527 1345 486 1505Z" fill="#a6e3c6"/>
<path d="M2193 1505Q2263 1368 2333 1277Q2269 1368 2201 1505Z" fill="#80c5a3"/>
<path d="M1918 1505Q1914 1257 1905 1092Q1922 1257 1931 1505Z" fill="#76bb99"/>
<path d="M1040 1505Q1049 1342 1064 1234Q1055 1342 1049 1505Z" fill="#6cb190"/>
<path d="M815 1505Q841 1406 890 1340Q845 1406 820 1505Z" fill="#a9e6c9"/>
<path d="M704 1505Q679 1280 569 1130Q688 1280 717 1505Z" fill="#70b593"/>
<path d="M420 1505Q433 1397 491 1325Q438 1397 429 1505Z" fill="#b0ebcf"/>
<path d="M1917 1506Q1928 1363 1966 1268Q1935 1363 1928 1506Z" fill="#9edcbe"/>
<path d="M600 1506Q590 1278 558 1126Q601 1278 618 1506Z" fill="#76bb99"/>
<path d="M1637 1506Q1690 1283 1819 1134Q1696 1283 1646 1506Z" fill="#6cb190"/>
<path d="M1360 1506Q1389 1324 1472 1202Q1397 1324 1372 1506Z" fill="#a9e6c9"/>
<path d="M1104 1506Q1099 1259 1094 1095Q1108 1259 1118 1506Z" fill="#80c5a3"/>
<path d="M281 1506Q259 1315 241 1188Q270 1315 297 1506Z" fill="#92d1b0"/>
<path d="M1222 1506Q1214 1351 1204 1248Q1224 1351 1238 1506Z" fill="#87c7a6"/>
<path d="M2103 1506Q2115 1312 2141 1182Q2123 1312 2116 1506Z" fill="#7cc1a0"/>
<path d="M2137 1506Q2172 1322 2211 1200Q2180 1322 2148 1506Z" fill="#76bb99"/>
<path d="M513 1506Q501 1314 474 1185Q506 1314 520 1506Z" fill="#9edcbe"/>
<path d="M922 1506Q938 1399 982 1328Q942 1399 928 1506Z" fill="#87c7a6"/>
<path d="M397 1506Q393 1352 382 1250Q403 1352 413 1506Z" fill="#7cc1a0"/>
<path d="M2002 1506Q2027 1324 2094 1202Q2035 1324 2014 1506Z" fill="#8ccbaa"/>
<path d="M284 1506Q287 1405 293 1338Q293 1405 294 1506Z" fill="#6cb190"/>
<path d="M310 1506Q253 1251 165 1080Q263 1251 326 1506Z" fill="#6cb190"/>
<path d="M978 1506Q981 1416 989 1355Q990 1416 991 1506Z" fill="#76bb99"/>
<path d="M651 1507Q574 1313 487 1184Q581 1313 662 1507Z" fill="#70b593"/>
<path d="M1399 1507Q1425 1320 1495 1196Q1430 1320 1407 1507Z" fill="#a3e0c2"/>
<path d="M1916 1507Q1945 1324 2022 1201Q1952 1324 1926 1507Z" fill="#a6e3c6"/>
<path d="M739 1507Q715 1357 696 1257Q719 1357 746 1507Z" fill="#92d1b0"/>
<path d="M1419 1507Q1409 1361 1378 1264Q1413 1361 1425 1507Z" fill="#b0ebcf"/>
<path d="M1273 1507Q1274 1306 1274 1172Q1282 1306 1285 1507Z" fill="#92d1b0"/>
<path d="M1602 1507Q1604 1387 1607 1307Q1609 1387 1611 1507Z" fill="#6cb190"/>
<path d="M1009 1507Q1004 1366 988 1272Q1010 1366 1018 1507Z" fill="#76bb99"/>
<path d="M985 1507Q967 1412 943 1349Q973 1412 994 1507Z" fill="#87c7a6"/>
<path d="M440 1507Q419 1327 403 1207Q428 1327 454 1507Z" fill="#76bb99"/>
<path d="M1286 1507Q1315 1299 1354 1160Q1323 1299 1297 1507Z" fill="#a6e3c6"/>
<path d="M2077 1508Q2146 1315 2205 1186Q2155 1315 2091 1508Z" fill="#76bb99"/>
<path d="M1898 1508Q1936 1318 1989 1192Q1943 1318 1908 1508Z" fill="#70b593"/>
<path d="M2057 1508Q2061 1348 2068 1241Q2071 1348 2072 1508Z" fill="#9edcbe"/>
<path d="M1011 1508Q1002 1364 940 1268Q1005 1364 1016 1508Z" fill="#70b593"/>
<path d="M1011 1508Q1013 1336 1018 1220Q1018 1336 1017 1508Z" fill="#92d1b0"/>
<path d="M820 1508Q866 1338 925 1225Q877 1338 836 1508Z" fill="#7cc1a0"/>
<path d="M1370 1508Q1401 1295 1445 1152Q1408 1295 1381 1508Z" fill="#87c7a6"/>
<path d="M755 1509Q769 1346 826 1238Q775 1346 764 1509Z" fill="#80c5a3"/>
<path d="M748 1509Q755 1325 766 1203Q766 1325 764 1509Z" fill="#8ccbaa"/>
<path d="M1831 1509Q1816 1326 1775 1205Q1822 1326 1841 1509Z" fill="#8ccbaa"/>
<path d="M1476 1509Q1459 1416 1402 1354Q1468 1416 1489 1509Z" fill="#87c7a6"/>
<path d="M2215 1509Q2226 1398 2286 1323Q2238 1398 2232 1509Z" fill="#b0ebcf"/>
<path d="M1820 1509Q1815 1311 1793 1178Q1825 1311 1836 1509Z" fill="#a9e6c9"/>
<path d="M2165 1509Q2123 1389 2084 1309Q2134 1389 2181 1509Z" fill="#a6e3c6"/>
<path d="M2184 1509Q2203 1340 2258 1228Q2207 1340 2189 1509Z" fill="#76bb99"/>
<path d="M778 1509Q770 1262 757 1097Q779 1262 791 1509Z" fill="#87c7a6"/>
<path d="M338 1509Q285 1358 247 1257Q297 1358 356 1509Z" fill="#9edcbe"/>
<path d="M2339 1509Q2307 1364 2220 1266Q2313 1364 2348 1509Z" fill="#92d1b0"/>
<path d="M468 1509Q445 1365 399 1269Q450 1365 476 1509Z" fill="#6cb190"/>
<path d="M535 1510Q539 1365 550 1268Q551 1365 552 1510Z" fill="#87c7a6"/>
<path d="M315 1510Q319 1322 326 1196Q325 1322 324 1510Z" fill="#87c7a6"/>
<path d="M1078 1510Q1085 1362 1101 1264Q1095 1362 1092 1510Z" fill="#70b593"/>
<path d="M2112 1510Q2104 1349 2026 1242Q2111 1349 2122 1510Z" fill="#6cb190"/>
<path d="M732 1510Q728 1331 723 1211Q735 1331 743 1510Z" fill="#80c5a3"/>
<path d="M1415 1511Q1418 1393 1429 1315Q1426 1393 1426 1511Z" fill="#8ccbaa"/>
<path d="M892 1511Q876 1387 842 1304Q884 1387 905 1511Z" fill="#9edcbe"/>
<path d="M1990 1511Q1977 1350 1953 1242Q1982 1350 1998 1511Z" fill="#76bb99"/>
<path d="M1806 1511Q1785 1400 1725 1326Q1795 1400 1820 1511Z" fill="#7cc1a0"/>
<path d="M1824 1511Q1830 1347 1847 1238Q1835 1347 1832 1511Z" fill="#70b593"/>
<path d="M2068 1511Q2049 1352 2032 1247Q2058 1352 2081 1511Z" fill="#87c7a6"/>
<path d="M2047 1511Q2048 1364 2044 1266Q2059 1364 2064 1511Z" fill="#a6e3c6"/>
<path d="M638 1511Q616 1354 559 1249Q624 1354 650 1511Z" fill="#9edcbe"/>
<path d="M826 1511Q832 1373 847 1280Q841 1373 839 1511Z" fill="#9edcbe"/>
<path d="M393 1511Q401 1376 420 1286Q413 1376 411 1511Z" fill="#a9e6c9"/>
<path d="M1643 1512Q1631 1352 1594 1245Q1642 1352 1659 1512Z" fill="#70b593"/>
<path d="M442 1512Q431 1288 406 1139Q442 1288 459 1512Z" fill="#6cb190"/>
<path d="M2493 1512Q2499 1372 2522 1279Q2505 1372 2502 1512Z" fill="#b0ebcf"/>
<path d="M2483 1512Q2477 1326 2448 1202Q2487 1326 2498 1512Z" fill="#a9e6c9"/>
<path d="M621 1512Q549 1322 502 1196Q559 1322 635 1512Z" fill="#8ccbaa"/>
<path d="M1345 1512Q1341 1364 1324 1265Q1345 1364 1350 1512Z" fill="#7cc1a0"/>
<path d="M1899 1512Q1888 1353 1872 1248Q1896 1353 1912 1512Z" fill="#70b593"/>
<path d="M1371 1512Q1376 1379 1396 1291Q1385 1379 1384 1512Z" fill="#6cb190"/>
<path d="M1571 1512Q1591 1362 1614 1262Q1595 1362 1577 1512Z" fill="#6cb190"/>
<path d="M767 1512Q761 1363 748 1263Q768 1363 777 1512Z" fill="#70b593"/>
<path d="M1526 1513Q1540 1358 1583 1254Q1548 1358 1538 1513Z" fill="#87c7a6"/>
<path d="M1456 1513Q1438 1317 1360 1187Q1441 1317 1462 1513Z" fill="#80c5a3"/>
<path d="M1312 1513Q1313 1376 1314 1286Q1317 1376 1318 1513Z" fill="#a3e0c2"/>
<path d="M1979 1513Q1986 1398 2027 1322Q1993 1398 1990 1513Z" fill="#a9e6c9"/>
<path d="M2204 1513Q2243 1294 2296 1149Q2249 1294 2213 1513Z" fill="#76bb99"/>
<path d="M816 1513Q803 1291 682 1144Q808 1291 824 1513Z" fill="#a9e6c9"/>
<path d="M1875 1513Q1883 1412 1922 1344Q1887 1412 1881 1513Z" fill="#76bb99"/>
<path d="M395 1513Q417 1411 442 1343Q427 1411 409 1513Z" fill="#76bb99"/>
<path d="M2020 1513Q2026 1328 2035 1204Q2034 1328 2032 1513Z" fill="#a6e3c6"/>
<path d="M416 1513Q391 1395 362 1317Q400 1395 429 1513Z" fill="#70b593"/>
<path d="M2205 1513Q2213 1330 2226 1208Q2220 1330 2215 1513Z" fill="#8ccbaa"/>
<path d="M2254 1513Q2265 1312 2280 1178Q2270 1312 2262 1513Z" fill="#a3e0c2"/>
<path d="M1464 1513Q1461 1403 1444 1329Q1466 1403 1471 1513Z" fill="#a6e3c6"/>
<path d="M2400 1513Q2391 1370 2385 1275Q2397 1370 2409 1513Z" fill="#76bb99"/>
<path d="M464 1513Q483 1340 616 1224Q487 1340 471 1513Z" fill="#6cb190"/>
<path d="M1136 1513Q1157 1320 1257 1191Q1165 1320 1148 1513Z" fill="#70b593"/>
<path d="M1551 1514Q1547 1358 1545 1254Q1558 1358 1568 1514Z" fill="#80c5a3"/>
<path d="M1639 1514Q1632 1312 1578 1177Q1641 1312 1652 1514Z" fill="#a9e6c9"/>
<path d="M1959 1514Q1964 1385 1971 1299Q1972 1385 1973 1514Z" fill="#92d1b0"/>
<path d="M2401 1514Q2372 1320 2319 1191Q2380 1320 2414 1514Z" fill="#6cb190"/>
<path d="M1520 1514Q1518 1318 1514 1188Q1522 1318 1525 1514Z" fill="#70b593"/>
<path d="M1205 1514Q1212 1349 1252 1238Q1220 1349 1217 1514Z" fill="#6cb190"/>
<path d="M1310 1515Q1307 1323 1278 1195Q1315 1323 1321 1515Z" fill="#b0ebcf"/>
<path d="M2180 1515Q2158 1320 2136 1191Q2169 1320 2196 1515Z" fill="#70b593"/>
<path d="M1566 1515Q1564 1413 1558 1344Q1574 1413 1581 1515Z" fill="#a9e6c9"/>
<path d="M1062 1515Q1054 1351 1036 1242Q1060 1351 1072 1515Z" fill="#76bb99"/>
<path d="M1132 1515Q1151 1385 1205 1298Q1160 1385 1146 1515Z" fill="#a3e0c2"/>
<path d="M2465 1515Q2440 1349 2408 1238Q2450 1349 2480 1515Z" fill="#87c7a6"/>
<path d="M808 1515Q792 1368 773 1271Q799 1368 818 1515Z" fill="#76bb99"/>
<path d="M444 1515Q445 1420 443 1357Q456 1420 460 1515Z" fill="#7cc1a0"/>
<path d="M1060 1515Q1070 1306 1114 1166Q1076 1306 1069 1515Z" fill="#70b593"/>
<path d="M978 1515Q975 1290 972 1140Q987 1290 995 1515Z" fill="#6cb190"/>
<path d="M1758 1516Q1715 1300 1668 1156Q1722 1300 1769 1516Z" fill="#a6e3c6"/>
<path d="M1581 1516Q1565 1425 1553 1364Q1573 1425 1592 1516Z" fill="#6cb190"/>
<path d="M927 1516Q964 1424 1008 1363Q969 1424 935 1516Z" fill="#a9e6c9"/>
<path d="M1224 1516Q1162 1342 1122 1226Q1174 1342 1242 1516Z" fill="#6cb190"/>
<path d="M2137 1516Q2164 1286 2192 1132Q2170 1286 2146 1516Z" fill="#b0ebcf"/>
<path d="M2099 1516Q2122 1417 2141 1351Q2128 1417 2109 1516Z" fill="#a6e3c6"/>
<path d="M701 1516Q707 1407 719 1335Q714 1407 710 1516Z" fill="#80c5a3"/>
<path d="M2344 1516Q2345 1369 2345 1271Q2354 1369 2358 1516Z" fill="#7cc1a0"/>
<path d="M2266 1517Q2274 1326 2283 1199Q2280 1326 2275 1517Z" fill="#70b593"/>
<path d="M1293 1517Q1252 1324 1216 1195Q1262 1324 1308 1517Z" fill="#b0ebcf"/>
<path d="M566 1517Q573 1369 602 1270Q578 1369 575 1517Z" fill="#a3e0c2"/>
<path d="M526 1517Q514 1305 457 1163Q521 1305 537 1517Z" fill="#76bb99"/>
<path d="M1737 1517Q1746 1342 1759 1225Q1755 1342 1751 1517Z" fill="#a3e0c2"/>
<path d="M419 1518Q432 1422 444 1357Q439 1422 428 1518Z" fill="#70b593"/>
<path d="M636 1518Q591 1408 563 1334Q602 1408 653 1518Z" fill="#87c7a6"/>
<path d="M1328 1518Q1347 1367 1380 1267Q1353 1367 1338 1518Z" fill="#6cb190"/>
<path d="M2147 1518Q2141 1363 2122 1260Q2150 1363 2161 1518Z" fill="#6cb190"/>
<path d="M1793 1518Q1771 1411 1731 1340Q1776 1411 1801 1518Z" fill="#70b593"/>
<path d="M1288 1518Q1284 1373 1279 1277Q1290 1373 1297 1518Z" fill="#76bb99"/>
<path d="M924 1518Q925 1405 925 1330Q935 1405 940 1518Z" fill="#9edcbe"/>
<path d="M1057 1518Q1101 1299 1163 1154Q1105 1299 1064 1518Z" fill="#70b593"/>
<path d="M2483 1518Q2487 1409 2493 1336Q2490 1409 2489 1518Z" fill="#a3e0c2"/>
<path d="M2374 1518Q2372 1421 2368 1356Q2381 1421 2388 1518Z" fill="#80c5a3"/>
<path d="M949 1518Q969 1342 1023 1224Q978 1342 964 1518Z" fill="#80c5a3"/>
<path d="M2231 1519Q2171 1361 2130 1255Q2177 1361 2240 1519Z" fill="#a6e3c6"/>
<path d="M938 1519Q941 1372 947 1274Q952 1372 955 1519Z" fill="#a9e6c9"/>
<path d="M1737 1519Q1737 1391 1735 1306Q1742 1391 1745 1519Z" fill="#8ccbaa"/>
<path d="M1841 1519Q1865 1313 2012 1175Q1871 1313 1850 1519Z" fill="#87c7a6"/>
<path d="M862 1519Q865 1393 869 1309Q875 1393 878 1519Z" fill="#a6e3c6"/>
<path d="M559 1519Q532 1374 476 1277Q541 1374 571 1519Z" fill="#a6e3c6"/>
<path d="M966 1519Q976 1352 992 1240Q981 1352 974 1519Z" fill="#6cb190"/>
<path d="M407 1520Q449 1350 528 1237Q457 1350 418 1520Z" fill="#6cb190"/>
<path d="M1233 1520Q1201 1325 1173 1195Q1209 1325 1246 1520Z" fill="#80c5a3"/>
<path d="M511 1520Q486 1355 451 1246Q494 1355 522 1520Z" fill="#b0ebcf"/>
<path d="M665 1520Q655 1303 576 1159Q664 1303 679 1520Z" fill="#b0ebcf"/>
<path d="M1994 1520Q2005 1332 2014 1207Q2008 1332 1999 1520Z" fill="#8ccbaa"/>
<path d="M1320 1520Q1296 1402 1275 1324Q1300 1402 1326 1520Z" fill="#80c5a3"/>
<path d="M1205 1520Q1228 1333 1275 1208Q1236 1333 1216 1520Z" fill="#70b593"/>
<path d="M1780 1520Q1789 1315 1811 1178Q1795 1315 1790 1520Z" fill="#76bb99"/>
<path d="M2302 1520Q2307 1311 2327 1172Q2311 1311 2309 1520Z" fill="#92d1b0"/>
<path d="M1692 1520Q1716 1368 1754 1266Q1725 1368 1705 1520Z" fill="#70b593"/>
<path d="M2392 1520Q2370 1387 2355 1298Q2381 1387 2409 1520Z" fill="#76bb99"/>
<path d="M604 1521Q648 1375 706 1278Q653 1375 611 1521Z" fill="#b0ebcf"/>
<path d="M2126 1521Q2153 1412 2226 1339Q2158 1412 2133 1521Z" fill="#76bb99"/>
<path d="M1287 1521Q1289 1364 1292 1260Q1296 1364 1298 1521Z" fill="#a9e6c9"/>
<path d="M1384 1521Q1372 1255 1339 1079Q1378 1255 1392 1521Z" fill="#6cb190"/>
<path d="M1944 1521Q1893 1331 1847 1204Q1904 1331 1959 1521Z" fill="#a6e3c6"/>
<path d="M1163 1521Q1166 1383 1170 1291Q1170 1383 1169 1521Z" fill="#87c7a6"/>
<path d="M1085 1521Q1105 1341 1155 1220Q1116 1341 1101 1521Z" fill="#9edcbe"/>
<path d="M2438 1521Q2390 1346 2335 1229Q2395 1346 2446 1521Z" fill="#7cc1a0"/>
<path d="M1923 1521Q1961 1327 2072 1197Q1967 1327 1932 1521Z" fill="#b0ebcf"/>
<path d="M722 1521Q773 1329 841 1201Q785 1329 739 1521Z" fill="#a9e6c9"/>
<path d="M1641 1521Q1651 1388 1670 1299Q1660 1388 1655 1521Z" fill="#76bb99"/>
<path d="M797 1521Q785 1364 702 1258Q789 1364 804 1521Z" fill="#87c7a6"/>
<path d="M2115 1522Q2116 1358 2121 1248Q2128 1358 2132 1522Z" fill="#6cb190"/>
<path d="M1804 1522Q1821 1302 1854 1155Q1829 1302 1816 1522Z" fill="#b0ebcf"/>
<path d="M1613 1522Q1629 1303 1648 1157Q1641 1303 1631 1522Z" fill="#b0ebcf"/>
<path d="M1759 1522Q1801 1379 1879 1284Q1806 1379 1767 1522Z" fill="#80c5a3"/>
<path d="M1971 1523Q2053 1339 2112 1217Q2062 1339 1986 1523Z" fill="#a6e3c6"/>
<path d="M2498 1523Q2519 1366 2588 1262Q2524 1366 2505 1523Z" fill="#70b593"/>
<path d="M334 1523Q351 1341 364 1220Q356 1341 341 1523Z" fill="#b0ebcf"/>
<path d="M719 1523Q729 1341 773 1220Q738 1341 732 1523Z" fill="#a3e0c2"/>
<path d="M2280 1523Q2287 1395 2309 1311Q2294 1395 2289 1523Z" fill="#7cc1a0"/>
<path d="M1329 1523Q1329 1319 1328 1182Q1333 1319 1334 1523Z" fill="#6cb190"/>
<path d="M781 1523Q776 1411 740 1336Q782 1411 789 1523Z" fill="#8ccbaa"/>
<path d="M1578 1523Q1541 1412 1519 1338Q1548 1412 1588 1523Z" fill="#76bb99"/>
<path d="M2224 1523Q2223 1371 2211 1269Q2231 1371 2236 1523Z" fill="#7cc1a0"/>
<path d="M990 1523Q974 1303 941 1156Q977 1303 995 1523Z" fill="#8ccbaa"/>
<path d="M2430 1524Q2440 1384 2496 1291Q2446 1384 2439 1524Z" fill="#70b593"/>
<path d="M1323 1524Q1343 1407 1364 1329Q1353 1407 1337 1524Z" fill="#80c5a3"/>
<path d="M2086 1524Q2128 1432 2174 1371Q2137 1432 2100 1524Z" fill="#7cc1a0"/>
<path d="M2244 1524Q2232 1412 2224 1337Q2238 1412 2253 1524Z" fill="#76bb99"/>
<path d="M941 1524Q946 1412 961 1338Q952 1412 952 1524Z" fill="#76bb99"/>
<path d="M2135 1524Q2117 1360 2085 1251Q2127 1360 2149 1524Z" fill="#a6e3c6"/>
<path d="M2165 1524Q2164 1331 2166 1202Q2175 1331 2182 1524Z" fill="#a9e6c9"/>
<path d="M1383 1524Q1393 1373 1415 1273Q1405 1373 1401 1524Z" fill="#9edcbe"/>
<path d="M312 1525Q330 1361 374 1253Q334 1361 318 1525Z" fill="#a9e6c9"/>
<path d="M662 1525Q649 1369 636 1266Q656 1369 672 1525Z" fill="#a6e3c6"/>
<path d="M517 1525Q532 1351 547 1235Q544 1351 534 1525Z" fill="#9edcbe"/>
<path d="M2002 1525Q2019 1346 2077 1227Q2025 1346 2010 1525Z" fill="#9edcbe"/>
<path d="M1383 1525Q1403 1332 1432 1204Q1410 1332 1393 1525Z" fill="#87c7a6"/>
<path d="M1316 1525Q1398 1310 1472 1167Q1409 1310 1332 1525Z" fill="#92d1b0"/>
<path d="M1130 1525Q1152 1370 1256 1267Q1158 1370 1139 1525Z" fill="#7cc1a0"/>
<path d="M1138 1525Q1137 1358 1129 1247Q1146 1358 1151 1525Z" fill="#6cb190"/>
<path d="M1361 1525Q1353 1360 1348 1250Q1358 1360 1369 1525Z" fill="#87c7a6"/>
<path d="M860 1525Q872 1422 904 1353Q882 1422 874 1525Z" fill="#76bb99"/>
<path d="M2066 1525Q2061 1334 2057 1206Q2066 1334 2073 1525Z" fill="#8ccbaa"/>
<path d="M2272 1526Q2260 1381 2253 1285Q2267 1381 2283 1526Z" fill="#a6e3c6"/>
<path d="M599 1526Q639 1369 705 1264Q645 1369 607 1526Z" fill="#b0ebcf"/>
<path d="M1076 1526Q1076 1310 1075 1166Q1080 1310 1083 1526Z" fill="#7cc1a0"/>
<path d="M1755 1526Q1779 1341 1814 1217Q1785 1341 1765 1526Z" fill="#a3e0c2"/>
<path d="M303 1526Q303 1415 303 1341Q308 1415 311 1526Z" fill="#70b593"/>
<path d="M2381 1526Q2387 1402 2397 1319Q2395 1402 2393 1526Z" fill="#8ccbaa"/>
<path d="M916 1526Q917 1376 919 1275Q922 1376 923 1526Z" fill="#a9e6c9"/>
<path d="M1702 1526Q1706 1331 1711 1201Q1715 1331 1716 1526Z" fill="#b0ebcf"/>
<path d="M1511 1526Q1493 1426 1482 1359Q1501 1426 1523 1526Z" fill="#6cb190"/>
<path d="M833 1526Q888 1372 977 1269Q899 1372 849 1526Z" fill="#b0ebcf"/>
<path d="M1797 1526Q1858 1295 1943 1140Q1864 1295 1806 1526Z" fill="#70b593"/>
<path d="M1815 1527Q1818 1395 1824 1308Q1825 1395 1826 1527Z" fill="#b0ebcf"/>
<path d="M2024 1527Q2038 1383 2069 1288Q2049 1383 2039 1527Z" fill="#a6e3c6"/>
<path d="M1332 1527Q1356 1402 1377 1318Q1363 1402 1343 1527Z" fill="#a9e6c9"/>
<path d="M1043 1527Q1064 1351 1116 1234Q1072 1351 1054 1527Z" fill="#70b593"/>
<path d="M2209 1527Q2200 1355 2162 1240Q2204 1355 2214 1527Z" fill="#a9e6c9"/>
<path d="M686 1527Q691 1361 701 1251Q701 1361 702 1527Z" fill="#70b593"/>
<path d="M1074 1527Q1082 1369 1104 1263Q1088 1369 1083 1527Z" fill="#a9e6c9"/>
<path d="M1320 1527Q1323 1364 1340 1254Q1328 1364 1327 1527Z" fill="#70b593"/>
<path d="M285 1527Q313 1342 400 1218Q318 1342 293 1527Z" fill="#92d1b0"/>
<path d="M2194 1527Q2199 1369 2231 1263Q2203 1369 2201 1527Z" fill="#a9e6c9"/>
<path d="M1759 1528Q1762 1369 1768 1263Q1773 1369 1776 1528Z" fill="#8ccbaa"/>
<path d="M777 1528Q761 1396 721 1309Q766 1396 784 1528Z" fill="#70b593"/>
<path d="M1244 1528Q1289 1425 1325 1356Q1296 1425 1254 1528Z" fill="#a3e0c2"/>
<path d="M1578 1528Q1600 1348 1645 1229Q1609 1348 1592 1528Z" fill="#a3e0c2"/>
<path d="M1090 1528Q1088 1334 1081 1204Q1098 1334 1105 1528Z" fill="#70b593"/>
<path d="M1318 1528Q1330 1319 1357 1180Q1338 1319 1330 1528Z" fill="#76bb99"/>
<path d="M2294 1528Q2303 1346 2363 1224Q2307 1346 2301 1528Z" fill="#76bb99"/>
<path d="M377 1528Q381 1412 390 1335Q392 1412 393 1528Z" fill="#70b593"/>
<path d="M437 1528Q450 1425 505 1355Q460 1425 451 1528Z" fill="#6cb190"/>
<path d="M2412 1529Q2415 1373 2422 1270Q2426 1373 2427 1529Z" fill="#70b593"/>
<path d="M1847 1529Q1850 1430 1858 1365Q1859 1430 1860 1529Z" fill="#80c5a3"/>
<path d="M876 1529Q888 1314 917 1171Q892 1314 881 1529Z" fill="#7cc1a0"/>
<path d="M499 1529Q512 1344 559 1221Q519 1344 510 1529Z" fill="#b0ebcf"/>
<path d="M2443 1529Q2458 1294 2492 1138Q2463 1294 2449 1529Z" fill="#70b593"/>
<path d="M1435 1529Q1464 1323 1513 1186Q1473 1323 1448 1529Z" fill="#6cb190"/>
<path d="M717 1529Q713 1369 682 1263Q721 1369 729 1529Z" fill="#7cc1a0"/>
<path d="M486 1529Q441 1340 309 1213Q448 1340 497 1529Z" fill="#7cc1a0"/>
<path d="M1761 1529Q1732 1337 1708 1209Q1743 1337 1777 1529Z" fill="#a6e3c6"/>
<path d="M1734 1530Q1758 1344 1780 1221Q1769 1344 1750 1530Z" fill="#a6e3c6"/>
<path d="M1809 1530Q1800 1406 1757 1324Q1811 1406 1824 1530Z" fill="#9edcbe"/>
<path d="M1225 1530Q1207 1345 1169 1221Q1219 1345 1242 1530Z" fill="#70b593"/>
<path d="M616 1530Q595 1289 557 1128Q601 1289 625 1530Z" fill="#87c7a6"/>
<path d="M1937 1530Q1913 1399 1835 1311Q1917 1399 1944 1530Z" fill="#76bb99"/>
<path d="M1409 1530Q1406 1417 1405 1341Q1410 1417 1415 1530Z" fill="#8ccbaa"/>
<path d="M2146 1530Q2147 1363 2141 1252Q2156 1363 2159 1530Z" fill="#70b593"/>
<path d="M2125 1530Q2204 1292 2319 1133Q2207 1292 2131 1530Z" fill="#8ccbaa"/>
<path d="M2319 1530Q2328 1368 2342 1260Q2337 1368 2332 1530Z" fill="#9edcbe"/>
<path d="M942 1530Q930 1379 917 1278Q937 1379 952 1530Z" fill="#6cb190"/>
<path d="M481 1530Q534 1340 648 1214Q543 1340 494 1530Z" fill="#76bb99"/>
<path d="M1962 1530Q1981 1430 2001 1363Q1990 1430 1975 1530Z" fill="#8ccbaa"/>
<path d="M1727 1530Q1728 1436 1717 1372Q1737 1436 1741 1530Z" fill="#a6e3c6"/>
<path d="M1175 1530Q1176 1395 1178 1305Q1181 1395 1183 1530Z" fill="#80c5a3"/>
<path d="M1996 1531Q1987 1365 1975 1254Q1996 1365 2010 1531Z" fill="#80c5a3"/>
<path d="M1889 1531Q1933 1303 1980 1151Q1938 1303 1897 1531Z" fill="#7cc1a0"/>
<path d="M508 1531Q478 1393 442 1301Q483 1393 515 1531Z" fill="#b0ebcf"/>
<path d="M978 1531Q957 1373 902 1268Q966 1373 992 1531Z" fill="#7cc1a0"/>
<path d="M1482 1531Q1438 1303 1413 1150Q1450 1303 1500 1531Z" fill="#a6e3c6"/>
<path d="M403 1531Q404 1411 404 1330Q408 1411 410 1531Z" fill="#9edcbe"/>
<path d="M2276 1531Q2298 1318 2346 1177Q2303 1318 2283 1531Z" fill="#a6e3c6"/>
<path d="M934 1531Q916 1358 899 1243Q921 1358 941 1531Z" fill="#70b593"/>
<path d="M1972 1532Q1967 1347 1961 1223Q1979 1347 1989 1532Z" fill="#8ccbaa"/>
<path d="M1882 1532Q1887 1350 1910 1229Q1894 1350 1892 1532Z" fill="#a6e3c6"/>
<path d="M1549 1532Q1577 1365 1609 1254Q1586 1365 1561 1532Z" fill="#87c7a6"/>
<path d="M2367 1532Q2341 1395 2315 1304Q2346 1395 2374 1532Z" fill="#87c7a6"/>
<path d="M653 1532Q633 1349 595 1226Q638 1349 661 1532Z" fill="#87c7a6"/>
<path d="M1016 1532Q1025 1357 1034 1241Q1032 1357 1027 1532Z" fill="#7cc1a0"/>
<path d="M835 1532Q835 1433 824 1367Q846 1433 851 1532Z" fill="#a6e3c6"/>
<path d="M2077 1532Q2101 1371 2192 1264Q2112 1371 2094 1532Z" fill="#6cb190"/>
<path d="M1367 1532Q1435 1328 1499 1191Q1442 1328 1378 1532Z" fill="#7cc1a0"/>
<path d="M354 1532Q350 1429 317 1361Q356 1429 363 1532Z" fill="#87c7a6"/>
<path d="M816 1532Q885 1283 942 1117Q895 1283 831 1532Z" fill="#70b593"/>
<path d="M2405 1532Q2413 1370 2448 1261Q2420 1370 2415 1532Z" fill="#76bb99"/>
<path d="M847 1533Q867 1266 891 1088Q877 1266 862 1533Z" fill="#a6e3c6"/>
<path d="M1263 1533Q1261 1412 1247 1332Q1273 1412 1280 1533Z" fill="#7cc1a0"/>
<path d="M530 1533Q501 1350 441 1229Q511 1350 545 1533Z" fill="#b0ebcf"/>
<path d="M1725 1533Q1677 1410 1643 1327Q1688 1410 1741 1533Z" fill="#a9e6c9"/>
<path d="M2261 1533Q2258 1437 2256 1373Q2263 1437 2269 1533Z" fill="#7cc1a0"/>
<path d="M1400 1533Q1437 1405 1476 1320Q1442 1405 1408 1533Z" fill="#9edcbe"/>
<path d="M2012 1533Q2018 1406 2038 1322Q2026 1406 2024 1533Z" fill="#70b593"/>
<path d="M1305 1533Q1278 1405 1239 1319Q1287 1405 1319 1533Z" fill="#80c5a3"/>
<path d="M995 1533Q980 1366 918 1255Q985 1366 1001 1533Z" fill="#a6e3c6"/>
<path d="M790 1533Q767 1344 746 1218Q771 1344 796 1533Z" fill="#9edcbe"/>
<path d="M2057 1533Q2051 1350 2034 1229Q2062 1350 2073 1533Z" fill="#6cb190"/>
<path d="M2279 1533Q2237 1328 2128 1192Q2248 1328 2295 1533Z" fill="#92d1b0"/>
<path d="M816 1533Q781 1306 754 1154Q792 1306 832 1533Z" fill="#a9e6c9"/>
<path d="M1221 1534Q1197 1411 1162 1329Q1208 1411 1237 1534Z" fill="#a6e3c6"/>
<path d="M1803 1534Q1804 1428 1807 1357Q1811 1428 1812 1534Z" fill="#a9e6c9"/>
<path d="M1115 1534Q1092 1366 1065 1254Q1098 1366 1125 1534Z" fill="#76bb99"/>
<path d="M828 1534Q821 1406 789 1321Q826 1406 835 1534Z" fill="#b0ebcf"/>
<path d="M1506 1534Q1499 1321 1486 1179Q1507 1321 1519 1534Z" fill="#76bb99"/>
<path d="M910 1534Q917 1367 930 1255Q921 1367 917 1534Z" fill="#92d1b0"/>
<path d="M2271 1534Q2255 1280 2132 1110Q2266 1280 2288 1534Z" fill="#6cb190"/>
<path d="M1010 1535Q1005 1425 979 1351Q1013 1425 1022 1535Z" fill="#70b593"/>
<path d="M1915 1535Q1909 1358 1891 1240Q1920 1358 1932 1535Z" fill="#a6e3c6"/>
<path d="M279 1535Q261 1431 251 1361Q272 1431 297 1535Z" fill="#9edcbe"/>
<path d="M1902 1535Q1867 1430 1840 1360Q1872 1430 1909 1535Z" fill="#a3e0c2"/>
<path d="M1538 1535Q1538 1346 1535 1220Q1546 1346 1551 1535Z" fill="#6cb190"/>
<path d="M651 1535Q675 1357 758 1239Q682 1357 662 1535Z" fill="#9edcbe"/>
<path d="M1740 1535Q1752 1394 1818 1300Q1763 1394 1757 1535Z" fill="#7cc1a0"/>
<path d="M1733 1535Q1715 1354 1680 1233Q1725 1354 1749 1535Z" fill="#87c7a6"/>
<path d="M690 1535Q702 1413 716 1332Q714 1413 708 1535Z" fill="#6cb190"/>
<path d="M2072 1535Q2054 1356 2016 1236Q2061 1356 2082 1535Z" fill="#6cb190"/>
<path d="M396 1535Q431 1344 464 1217Q436 1344 404 1535Z" fill="#a3e0c2"/>
<path d="M2191 1535Q2196 1420 2207 1343Q2200 1420 2198 1535Z" fill="#a9e6c9"/>
<path d="M1394 1535Q1410 1365 1429 1252Q1419 1365 1407 1535Z" fill="#70b593"/>
<path d="M799 1535Q821 1353 850 1232Q833 1353 817 1535Z" fill="#76bb99"/>
<path d="M360 1535Q308 1356 266 1236Q319 1356 376 1535Z" fill="#8ccbaa"/>
<path d="M2436 1535Q2421 1320 2378 1177Q2427 1320 2445 1535Z" fill="#a6e3c6"/>
<path d="M2146 1535Q2146 1349 2148 1225Q2156 1349 2161 1535Z" fill="#6cb190"/>
<path d="M2461 1535Q2461 1404 2461 1316Q2466 1404 2469 1535Z" fill="#92d1b0"/>
<path d="M2313 1536Q2284 1366 2248 1252Q2289 1366 2320 1536Z" fill="#a3e0c2"/>
<path d="M1355 1536Q1359 1373 1368 1265Q1364 1373 1362 1536Z" fill="#76bb99"/>
<path d="M886 1536Q830 1309 717 1157Q835 1309 893 1536Z" fill="#80c5a3"/>
<path d="M1370 1536Q1382 1438 1452 1373Q1393 1438 1385 1536Z" fill="#b0ebcf"/>
<path d="M835 1536Q807 1377 779 1272Q814 1377 845 1536Z" fill="#a3e0c2"/>
<path d="M1732 1536Q1716 1314 1676 1165Q1723 1314 1742 1536Z" fill="#92d1b0"/>
<path d="M559 1536Q553 1361 529 1244Q563 1361 575 1536Z" fill="#a9e6c9"/>
<path d="M1549 1536Q1565 1359 1616 1241Q1572 1359 1560 1536Z" fill="#7cc1a0"/>
<path d="M466 1536Q439 1382 368 1279Q451 1382 483 1536Z" fill="#80c5a3"/>
<path d="M1225 1536Q1204 1273 1110 1098Q1214 1273 1241 1536Z" fill="#8ccbaa"/>
<path d="M756 1537Q783 1409 804 1323Q792 1409 770 1537Z" fill="#92d1b0"/>
<path d="M1478 1537Q1496 1396 1555 1303Q1505 1396 1490 1537Z" fill="#b0ebcf"/>
<path d="M768 1537Q741 1404 669 1316Q752 1404 785 1537Z" fill="#8ccbaa"/>
<path d="M2175 1537Q2226 1344 2294 1215Q2229 1344 2181 1537Z" fill="#a3e0c2"/>
<path d="M1647 1537Q1661 1375 1708 1267Q1666 1375 1655 1537Z" fill="#80c5a3"/>
<path d="M1421 1537Q1397 1356 1383 1235Q1404 1356 1432 1537Z" fill="#8ccbaa"/>
<path d="M1386 1537Q1293 1284 1166 1115Q1298 1284 1393 1537Z" fill="#70b593"/>
<path d="M792 1538Q763 1432 743 1362Q768 1432 801 1538Z" fill="#9edcbe"/>
<path d="M2430 1538Q2419 1374 2390 1265Q2427 1374 2442 1538Z" fill="#a3e0c2"/>
<path d="M2416 1538Q2377 1344 2311 1215Q2389 1344 2434 1538Z" fill="#80c5a3"/>
<path d="M1159 1538Q1105 1313 1042 1163Q1113 1313 1171 1538Z" fill="#92d1b0"/>
<path d="M2071 1538Q2087 1389 2121 1290Q2098 1389 2087 1538Z" fill="#b0ebcf"/>
<path d="M1959 1538Q1965 1404 1986 1315Q1972 1404 1970 1538Z" fill="#76bb99"/>
<path d="M688 1538Q674 1408 665 1322Q682 1408 699 1538Z" fill="#a3e0c2"/>
<path d="M1879 1538Q1874 1433 1839 1363Q1879 1433 1887 1538Z" fill="#76bb99"/>
<path d="M319 1538Q305 1428 267 1354Q312 1428 329 1538Z" fill="#70b593"/>
<path d="M519 1538Q530 1325 556 1183Q535 1325 526 1538Z" fill="#a6e3c6"/>
<path d="M609 1538Q684 1331 789 1193Q688 1331 614 1538Z" fill="#a6e3c6"/>
<path d="M1889 1538Q1894 1428 1922 1354Q1904 1428 1903 1538Z" fill="#92d1b0"/>
<path d="M1687 1538Q1699 1362 1713 1245Q1707 1362 1699 1538Z" fill="#70b593"/>
<path d="M1637 1538Q1633 1368 1633 1254Q1643 1368 1651 1538Z" fill="#76bb99"/>
<path d="M2412 1538Q2406 1397 2401 1304Q2412 1397 2421 1538Z" fill="#6cb190"/>
<path d="M1785 1539Q1777 1348 1703 1220Q1781 1348 1792 1539Z" fill="#80c5a3"/>
<path d="M338 1539Q361 1328 450 1187Q373 1328 356 1539Z" fill="#80c5a3"/>
<path d="M2364 1539Q2325 1369 2239 1255Q2333 1369 2376 1539Z" fill="#87c7a6"/>
<path d="M567 1539Q554 1335 487 1199Q558 1335 574 1539Z" fill="#80c5a3"/>
<path d="M645 1539Q593 1379 483 1272Q598 1379 653 1539Z" fill="#87c7a6"/>
<path d="M2484 1539Q2482 1426 2472 1350Q2487 1426 2491 1539Z" fill="#8ccbaa"/>
<path d="M1648 1539Q1652 1445 1668 1382Q1662 1445 1662 1539Z" fill="#80c5a3"/>
<path d="M1259 1539Q1244 1331 1234 1191Q1252 1331 1270 1539Z" fill="#76bb99"/>
<path d="M1453 1539Q1438 1432 1424 1360Q1448 1432 1468 1539Z" fill="#7cc1a0"/>
<path d="M1074 1540Q1072 1375 1048 1266Q1083 1375 1091 1540Z" fill="#9edcbe"/>
<path d="M1030 1540Q1021 1333 935 1194Q1025 1333 1037 1540Z" fill="#87c7a6"/>
<path d="M1895 1540Q1902 1383 1922 1278Q1910 1383 1907 1540Z" fill="#87c7a6"/>
<path d="M705 1540Q664 1386 633 1284Q673 1386 719 1540Z" fill="#6cb190"/>
<path d="M1720 1540Q1720 1387 1721 1286Q1726 1387 1730 1540Z" fill="#7cc1a0"/>
<path d="M2266 1540Q2278 1273 2360 1094Q2281 1273 2271 1540Z" fill="#b0ebcf"/>
<path d="M2077 1540Q2080 1386 2085 1283Q2090 1386 2093 1540Z" fill="#a6e3c6"/>
<path d="M674 1541Q699 1354 742 1229Q711 1354 692 1541Z" fill="#9edcbe"/>
<path d="M1106 1541Q1131 1417 1205 1335Q1135 1417 1113 1541Z" fill="#87c7a6"/>
<path d="M1505 1541Q1518 1390 1549 1290Q1523 1390 1512 1541Z" fill="#87c7a6"/>
<path d="M1355 1541Q1318 1436 1288 1367Q1330 1436 1373 1541Z" fill="#80c5a3"/>
<path d="M1056 1541Q1062 1439 1074 1371Q1070 1439 1069 1541Z" fill="#6cb190"/>
<path d="M2368 1541Q2359 1330 2305 1190Q2366 1330 2378 1541Z" fill="#8ccbaa"/>
<path d="M1874 1541Q1861 1375 1779 1265Q1867 1375 1883 1541Z" fill="#b0ebcf"/>
<path d="M1909 1541Q1917 1396 1931 1299Q1922 1396 1917 1541Z" fill="#a3e0c2"/>
<path d="M1117 1541Q1115 1339 1109 1204Q1123 1339 1129 1541Z" fill="#9edcbe"/>
<path d="M928 1541Q946 1296 968 1132Q956 1296 942 1541Z" fill="#76bb99"/>
<path d="M631 1541Q612 1367 594 1251Q621 1367 644 1541Z" fill="#70b593"/>
<path d="M858 1541Q866 1390 880 1289Q877 1390 875 1541Z" fill="#a9e6c9"/>
<path d="M2379 1542Q2444 1380 2496 1272Q2449 1380 2387 1542Z" fill="#87c7a6"/>
<path d="M1955 1542Q1977 1318 2042 1169Q1981 1318 1962 1542Z" fill="#92d1b0"/>
<path d="M1212 1542Q1217 1370 1225 1255Q1225 1370 1225 1542Z" fill="#87c7a6"/>
<path d="M2290 1542Q2242 1371 2186 1256Q2249 1371 2302 1542Z" fill="#80c5a3"/>
<path d="M2165 1542Q2152 1337 2115 1200Q2158 1337 2174 1542Z" fill="#70b593"/>
<path d="M2087 1542Q2088 1389 2090 1287Q2093 1389 2094 1542Z" fill="#7cc1a0"/>
<path d="M1878 1542Q1858 1351 1827 1224Q1865 1351 1889 1542Z" fill="#6cb190"/>
<path d="M1448 1543Q1476 1363 1569 1243Q1483 1363 1459 1543Z" fill="#9edcbe"/>
<path d="M277 1543Q298 1376 322 1265Q308 1376 292 1543Z" fill="#a9e6c9"/>
<path d="M2210 1543Q2207 1423 2201 1343Q2214 1423 2220 1543Z" fill="#70b593"/>
<path d="M1723 1543Q1745 1331 1780 1190Q1751 1331 1732 1543Z" fill="#70b593"/>
<path d="M1328 1543Q1328 1381 1328 1274Q1337 1381 1342 1543Z" fill="#a6e3c6"/>
<path d="M327 1543Q334 1348 344 1219Q346 1348 345 1543Z" fill="#92d1b0"/>
<path d="M664 1543Q685 1375 703 1263Q694 1375 677 1543Z" fill="#8ccbaa"/>
<path d="M724 1543Q744 1368 829 1251Q751 1368 735 1543Z" fill="#76bb99"/>
<path d="M1464 1543Q1478 1411 1496 1322Q1484 1411 1473 1543Z" fill="#92d1b0"/>
<path d="M2255 1544Q2268 1347 2291 1216Q2272 1347 2261 1544Z" fill="#a9e6c9"/>
<path d="M1089 1544Q1086 1406 1067 1314Q1097 1406 1105 1544Z" fill="#6cb190"/>
<path d="M1727 1544Q1723 1326 1718 1181Q1731 1326 1739 1544Z" fill="#7cc1a0"/>
<path d="M509 1544Q522 1376 549 1264Q528 1376 517 1544Z" fill="#7cc1a0"/>
<path d="M778 1544Q746 1438 696 1367Q754 1438 790 1544Z" fill="#9edcbe"/>
<path d="M2114 1544Q2100 1368 2058 1250Q2109 1368 2127 1544Z" fill="#70b593"/>
<path d="M1960 1544Q1970 1320 2022 1171Q1976 1320 1969 1544Z" fill="#7cc1a0"/>
<path d="M2478 1544Q2471 1363 2465 1243Q2476 1363 2486 1544Z" fill="#7cc1a0"/>
<path d="M2160 1544Q2163 1444 2170 1378Q2168 1444 2168 1544Z" fill="#a6e3c6"/>
<path d="M682 1544Q651 1329 627 1186Q661 1329 697 1544Z" fill="#76bb99"/>
<path d="M538 1544Q546 1378 557 1267Q557 1378 554 1544Z" fill="#b0ebcf"/>
<path d="M1949 1544Q1970 1418 2013 1334Q1976 1418 1958 1544Z" fill="#b0ebcf"/>
<path d="M339 1544Q349 1317 411 1166Q358 1317 353 1544Z" fill="#6cb190"/>
<path d="M2407 1544Q2335 1356 2269 1230Q2342 1356 2418 1544Z" fill="#6cb190"/>
<path d="M2275 1544Q2268 1344 2238 1211Q2274 1344 2283 1544Z" fill="#7cc1a0"/>
<path d="M1277 1544Q1262 1379 1227 1269Q1268 1379 1286 1544Z" fill="#a6e3c6"/>
<path d="M2035 1545Q2006 1360 1988 1237Q2012 1360 2044 1545Z" fill="#92d1b0"/>
<path d="M2310 1545Q2279 1338 2257 1200Q2284 1338 2317 1545Z" fill="#7cc1a0"/>
<path d="M1486 1545Q1510 1367 1537 1248Q1516 1367 1495 1545Z" fill="#9edcbe"/>
<path d="M1099 1545Q1100 1360 1103 1237Q1107 1360 1109 1545Z" fill="#92d1b0"/>
<path d="M804 1545Q843 1296 919 1131Q848 1296 812 1545Z" fill="#92d1b0"/>
<path d="M361 1545Q338 1402 302 1307Q349 1402 376 1545Z" fill="#87c7a6"/>
<path d="M2374 1545Q2352 1359 2316 1234Q2359 1359 2384 1545Z" fill="#a9e6c9"/>
<path d="M2002 1545Q2005 1324 2011 1177Q2011 1324 2010 1545Z" fill="#80c5a3"/>
<path d="M2335 1545Q2397 1379 2442 1268Q2407 1379 2350 1545Z" fill="#87c7a6"/>
<path d="M2359 1545Q2364 1370 2386 1253Q2370 1370 2369 1545Z" fill="#70b593"/>
<path d="M1707 1545Q1789 1362 1903 1240Q1798 1362 1721 1545Z" fill="#b0ebcf"/>
<path d="M774 1545Q771 1422 743 1339Q775 1422 780 1545Z" fill="#b0ebcf"/>
<path d="M1594 1545Q1589 1374 1574 1259Q1594 1374 1602 1545Z" fill="#b0ebcf"/>
<path d="M299 1546Q373 1326 446 1179Q379 1326 307 1546Z" fill="#92d1b0"/>
<path d="M1338 1546Q1380 1343 1416 1208Q1386 1343 1347 1546Z" fill="#87c7a6"/>
<path d="M1654 1546Q1629 1315 1609 1162Q1636 1315 1665 1546Z" fill="#87c7a6"/>
<path d="M2256 1546Q2265 1293 2291 1125Q2272 1293 2267 1546Z" fill="#87c7a6"/>
<path d="M1778 1546Q1757 1439 1731 1368Q1763 1439 1787 1546Z" fill="#9edcbe"/>
<path d="M2026 1546Q2058 1364 2232 1243Q2065 1364 2037 1546Z" fill="#76bb99"/>
<path d="M1531 1546Q1527 1451 1498 1388Q1537 1451 1547 1546Z" fill="#a9e6c9"/>
<path d="M490 1546Q481 1397 468 1297Q491 1397 505 1546Z" fill="#76bb99"/>
<path d="M1969 1546Q1969 1401 1969 1305Q1979 1401 1983 1546Z" fill="#8ccbaa"/>
<path d="M1783 1546Q1773 1375 1759 1260Q1780 1375 1795 1546Z" fill="#b0ebcf"/>
<path d="M946 1547Q984 1410 1032 1319Q992 1410 957 1547Z" fill="#76bb99"/>
<path d="M943 1547Q939 1368 935 1249Q948 1368 957 1547Z" fill="#92d1b0"/>
<path d="M1801 1547Q1806 1436 1814 1363Q1817 1436 1817 1547Z" fill="#a6e3c6"/>
<path d="M2428 1547Q2440 1380 2472 1269Q2444 1380 2434 1547Z" fill="#70b593"/>
<path d="M2346 1547Q2331 1371 2319 1255Q2336 1371 2355 1547Z" fill="#a3e0c2"/>
<path d="M638 1547Q624 1438 606 1365Q630 1438 647 1547Z" fill="#9edcbe"/>
<path d="M1654 1547Q1622 1349 1583 1217Q1630 1349 1666 1547Z" fill="#b0ebcf"/>
<path d="M2217 1547Q2199 1381 2187 1270Q2210 1381 2233 1547Z" fill="#a9e6c9"/>
<path d="M2245 1547Q2242 1362 2239 1240Q2246 1362 2252 1547Z" fill="#9edcbe"/>
<path d="M1532 1547Q1508 1360 1482 1236Q1519 1360 1550 1547Z" fill="#a9e6c9"/>
<path d="M2061 1547Q2052 1416 2026 1329Q2057 1416 2068 1547Z" fill="#7cc1a0"/>
<path d="M998 1547Q1008 1421 1083 1338Q1014 1421 1007 1547Z" fill="#b0ebcf"/>
<path d="M531 1547Q533 1418 538 1332Q538 1418 539 1547Z" fill="#87c7a6"/>
<path d="M569 1547Q559 1406 549 1312Q566 1406 579 1547Z" fill="#a6e3c6"/>
<path d="M1739 1547Q1750 1454 1793 1392Q1758 1454 1751 1547Z" fill="#80c5a3"/>
<path d="M2461 1548Q2444 1340 2414 1202Q2452 1340 2472 1548Z" fill="#87c7a6"/>
<path d="M1938 1548Q1953 1367 1997 1246Q1960 1367 1949 1548Z" fill="#92d1b0"/>
<path d="M1595 1548Q1586 1367 1574 1246Q1591 1367 1603 1548Z" fill="#7cc1a0"/>
<path d="M1917 1548Q1911 1445 1880 1376Q1921 1445 1933 1548Z" fill="#80c5a3"/>
<path d="M2150 1548Q2156 1432 2166 1354Q2160 1432 2157 1548Z" fill="#a6e3c6"/>
<path d="M1059 1548Q1047 1430 1036 1351Q1057 1430 1074 1548Z" fill="#9edcbe"/>
<path d="M394 1548Q409 1319 439 1166Q421 1319 412 1548Z" fill="#a9e6c9"/>
<path d="M2436 1548Q2427 1391 2353 1287Q2435 1391 2448 1548Z" fill="#7cc1a0"/>
<path d="M1255 1548Q1276 1396 1305 1295Q1287 1396 1272 1548Z" fill="#76bb99"/>
<path d="M1829 1549Q1869 1370 1950 1250Q1875 1370 1839 1549Z" fill="#7cc1a0"/>
<path d="M2271 1549Q2277 1366 2283 1244Q2284 1366 2283 1549Z" fill="#70b593"/>
<path d="M559 1549Q570 1399 593 1300Q578 1399 572 1549Z" fill="#80c5a3"/>
<path d="M783 1549Q814 1381 870 1269Q824 1381 797 1549Z" fill="#a6e3c6"/>
<path d="M2418 1549Q2416 1420 2412 1334Q2424 1420 2431 1549Z" fill="#b0ebcf"/>
<path d="M752 1549Q739 1355 710 1226Q742 1355 758 1549Z" fill="#70b593"/>
<path d="M532 1550Q596 1322 665 1171Q602 1322 541 1550Z" fill="#6cb190"/>
<path d="M1301 1550Q1302 1349 1306 1216Q1312 1349 1315 1550Z" fill="#6cb190"/>
<path d="M2361 1550Q2450 1371 2545 1252Q2454 1371 2367 1550Z" fill="#7cc1a0"/>
<path d="M769 1550Q773 1305 780 1141Q777 1305 774 1550Z" fill="#87c7a6"/>
<path d="M2213 1550Q2200 1376 2187 1260Q2205 1376 2219 1550Z" fill="#8ccbaa"/>
<path d="M1136 1550Q1139 1305 1144 1141Q1151 1305 1154 1550Z" fill="#76bb99"/>
<path d="M1790 1550Q1819 1449 1841 1382Q1823 1449 1796 1550Z" fill="#80c5a3"/>
<path d="M797 1550Q830 1425 869 1341Q835 1425 805 1550Z" fill="#92d1b0"/>
<path d="M1447 1550Q1456 1393 1467 1288Q1462 1393 1456 1550Z" fill="#a9e6c9"/>
<path d="M447 1550Q492 1354 598 1223Q504 1354 465 1550Z" fill="#70b593"/>
<path d="M1061 1550Q1093 1455 1125 1391Q1103 1455 1076 1550Z" fill="#a3e0c2"/>
<path d="M1480 1550Q1480 1356 1483 1226Q1489 1356 1492 1550Z" fill="#70b593"/>
<path d="M286 1551Q335 1389 432 1281Q347 1389 304 1551Z" fill="#80c5a3"/>
<path d="M1385 1551Q1401 1396 1477 1293Q1408 1396 1397 1551Z" fill="#8ccbaa"/>
<path d="M2009 1551Q2000 1367 1928 1244Q2010 1367 2024 1551Z" fill="#9edcbe"/>
<path d="M1347 1551Q1338 1341 1288 1202Q1343 1341 1355 1551Z" fill="#a3e0c2"/>
<path d="M560 1551Q576 1386 659 1275Q583 1386 571 1551Z" fill="#80c5a3"/>
<path d="M585 1551Q588 1314 594 1157Q598 1314 600 1551Z" fill="#a9e6c9"/>
<path d="M1042 1551Q1032 1358 1009 1230Q1036 1358 1047 1551Z" fill="#a6e3c6"/>
<path d="M1194 1551Q1163 1403 1099 1303Q1175 1403 1212 1551Z" fill="#a3e0c2"/>
<path d="M2414 1552Q2461 1398 2496 1296Q2467 1398 2424 1552Z" fill="#92d1b0"/>
<path d="M2233 1552Q2213 1363 2044 1238Q2218 1363 2240 1552Z" fill="#a9e6c9"/>
<path d="M1696 1552Q1658 1314 1633 1156Q1665 1314 1706 1552Z" fill="#9edcbe"/>
<path d="M865 1552Q866 1344 865 1205Q870 1344 872 1552Z" fill="#9edcbe"/>
<path d="M1123 1552Q1127 1441 1135 1367Q1131 1441 1129 1552Z" fill="#92d1b0"/>
<path d="M1307 1552Q1307 1423 1300 1337Q1318 1423 1323 1552Z" fill="#b0ebcf"/>
<path d="M718 1552Q716 1372 711 1251Q724 1372 729 1552Z" fill="#a3e0c2"/>
<path d="M452 1552Q446 1435 417 1356Q452 1435 462 1552Z" fill="#b0ebcf"/>
<path d="M2237 1552Q2279 1379 2322 1264Q2285 1379 2245 1552Z" fill="#76bb99"/>
<path d="M1453 1552Q1462 1420 1479 1332Q1471 1420 1466 1552Z" fill="#9edcbe"/>
<path d="M1253 1552Q1218 1331 1172 1184Q1222 1331 1259 1552Z" fill="#7cc1a0"/>
<path d="M1817 1552Q1816 1373 1800 1253Q1827 1373 1834 1552Z" fill="#70b593"/>
<path d="M1947 1552Q1995 1394 2033 1289Q2002 1394 1959 1552Z" fill="#70b593"/>
<path d="M2010 1553Q2016 1459 2039 1397Q2028 1459 2027 1553Z" fill="#b0ebcf"/>
<path d="M1808 1553Q1808 1429 1806 1346Q1813 1429 1816 1553Z" fill="#70b593"/>
<path d="M836 1553Q847 1355 864 1223Q859 1355 853 1553Z" fill="#76bb99"/>
<path d="M2258 1553Q2235 1303 2141 1137Q2244 1303 2272 1553Z" fill="#80c5a3"/>
<path d="M950 1553Q959 1408 986 1312Q964 1408 957 1553Z" fill="#a6e3c6"/>
<path d="M318 1553Q302 1387 211 1276Q307 1387 325 1553Z" fill="#92d1b0"/>
<path d="M468 1553Q488 1420 561 1331Q498 1420 484 1553Z" fill="#a9e6c9"/>
<path d="M966 1553Q957 1317 874 1160Q964 1317 975 1553Z" fill="#70b593"/>
<path d="M2265 1553Q2294 1435 2320 1356Q2303 1435 2279 1553Z" fill="#76bb99"/>
<path d="M1031 1553Q1024 1363 966 1236Q1035 1363 1047 1553Z" fill="#6cb190"/>
<path d="M2339 1553Q2328 1350 2318 1214Q2333 1350 2346 1553Z" fill="#76bb99"/>
<path d="M1746 1553Q1737 1388 1709 1278Q1743 1388 1754 1553Z" fill="#8ccbaa"/>
<path d="M2032 1553Q2008 1365 1983 1240Q2019 1365 2049 1553Z" fill="#a6e3c6"/>
<path d="M1903 1553Q1887 1424 1857 1337Q1893 1424 1913 1553Z" fill="#a9e6c9"/>
<path d="M2203 1553Q2278 1332 2368 1185Q2283 1332 2212 1553Z" fill="#8ccbaa"/>
<path d="M1159 1553Q1137 1365 1121 1239Q1142 1365 1166 1553Z" fill="#7cc1a0"/>
<path d="M2334 1554Q2304 1376 2247 1257Q2313 1376 2346 1554Z" fill="#70b593"/>
<path d="M2405 1554Q2379 1395 2349 1289Q2383 1395 2412 1554Z" fill="#92d1b0"/>
<path d="M1584 1554Q1586 1452 1587 1385Q1596 1452 1599 1554Z" fill="#87c7a6"/>
<path d="M2302 1554Q2302 1351 2301 1216Q2310 1351 2314 1554Z" fill="#7cc1a0"/>
<path d="M862 1554Q877 1352 905 1218Q880 1352 868 1554Z" fill="#7cc1a0"/>
<path d="M1453 1554Q1442 1342 1428 1201Q1451 1342 1465 1554Z" fill="#76bb99"/>
<path d="M2384 1554Q2382 1433 2372 1352Q2386 1433 2391 1554Z" fill="#9edcbe"/>
<path d="M701 1554Q692 1405 670 1306Q701 1405 714 1554Z" fill="#70b593"/>
<path d="M929 1554Q938 1378 958 1261Q942 1378 935 1554Z" fill="#b0ebcf"/>
<path d="M2256 1554Q2224 1376 2187 1257Q2227 1376 2262 1554Z" fill="#a3e0c2"/>
<path d="M1739 1554Q1719 1353 1679 1219Q1727 1353 1751 1554Z" fill="#9edcbe"/>
<path d="M1252 1555Q1264 1438 1283 1360Q1272 1438 1265 1555Z" fill="#8ccbaa"/>
<path d="M2032 1555Q2031 1438 2028 1361Q2041 1438 2047 1555Z" fill="#76bb99"/>
<path d="M386 1555Q391 1403 408 1302Q398 1403 397 1555Z" fill="#a3e0c2"/>
<path d="M622 1555Q626 1433 632 1353Q631 1433 630 1555Z" fill="#a6e3c6"/>
<path d="M409 1555Q410 1359 412 1228Q422 1359 426 1555Z" fill="#9edcbe"/>
<path d="M2200 1555Q2202 1463 2197 1402Q2213 1463 2217 1555Z" fill="#7cc1a0"/>
<path d="M864 1555Q888 1335 907 1188Q895 1335 874 1555Z" fill="#6cb190"/>
<path d="M1780 1555Q1769 1353 1722 1218Q1774 1353 1787 1555Z" fill="#9edcbe"/>
<path d="M1826 1555Q1845 1351 1864 1216Q1849 1351 1832 1555Z" fill="#70b593"/>
<path d="M1784 1555Q1791 1349 1816 1211Q1803 1349 1801 1555Z" fill="#70b593"/>
<path d="M1361 1555Q1373 1344 1388 1204Q1378 1344 1369 1555Z" fill="#b0ebcf"/>
<path d="M312 1555Q302 1356 296 1223Q307 1356 320 1555Z" fill="#6cb190"/>
<path d="M1203 1555Q1219 1363 1237 1235Q1223 1363 1208 1555Z" fill="#92d1b0"/>
<path d="M833 1555Q938 1420 1020 1330Q949 1420 849 1555Z" fill="#70b593"/>
<path d="M2222 1555Q2217 1383 2162 1268Q2226 1383 2236 1555Z" fill="#70b593"/>
<path d="M2403 1556Q2381 1377 2368 1257Q2388 1377 2412 1556Z" fill="#6cb190"/>
<path d="M795 1556Q784 1339 779 1194Q791 1339 806 1556Z" fill="#92d1b0"/>
<path d="M380 1556Q369 1417 338 1325Q380 1417 396 1556Z" fill="#b0ebcf"/>
<path d="M2337 1556Q2388 1353 2476 1217Q2392 1353 2343 1556Z" fill="#9edcbe"/>
<path d="M940 1556Q895 1380 790 1263Q898 1380 945 1556Z" fill="#76bb99"/>
<path d="M1584 1556Q1585 1409 1586 1311Q1589 1409 1590 1556Z" fill="#a6e3c6"/>
<path d="M2234 1556Q2227 1326 2157 1172Q2234 1326 2245 1556Z" fill="#b0ebcf"/>
<path d="M2104 1556Q2109 1361 2117 1230Q2115 1361 2113 1556Z" fill="#a6e3c6"/>
<path d="M2067 1556Q2062 1455 2041 1388Q2071 1455 2081 1556Z" fill="#76bb99"/>
<path d="M1943 1556Q1951 1376 1962 1256Q1956 1376 1951 1556Z" fill="#a3e0c2"/>
<path d="M917 1556Q931 1463 1005 1401Q939 1463 930 1556Z" fill="#76bb99"/>
<path d="M1002 1556Q1003 1379 1006 1261Q1013 1379 1017 1556Z" fill="#a9e6c9"/>
<path d="M661 1557Q664 1422 674 1332Q675 1422 677 1557Z" fill="#8ccbaa"/>
<path d="M1018 1557Q1007 1370 1002 1245Q1017 1370 1031 1557Z" fill="#b0ebcf"/>
<path d="M709 1557Q635 1369 520 1244Q647 1369 726 1557Z" fill="#9edcbe"/>
<path d="M907 1557Q956 1343 995 1200Q967 1343 924 1557Z" fill="#7cc1a0"/>
<path d="M736 1558Q740 1460 749 1395Q752 1460 754 1558Z" fill="#a6e3c6"/>
<path d="M296 1558Q295 1389 292 1277Q299 1389 302 1558Z" fill="#6cb190"/>
<path d="M417 1558Q411 1381 407 1263Q415 1381 422 1558Z" fill="#a3e0c2"/>
<path d="M912 1558Q906 1379 871 1260Q917 1379 929 1558Z" fill="#b0ebcf"/>
<path d="M344 1558Q348 1362 367 1231Q355 1362 355 1558Z" fill="#80c5a3"/>
<path d="M1677 1558Q1683 1461 1689 1396Q1689 1461 1687 1558Z" fill="#8ccbaa"/>
<path d="M518 1558Q521 1288 528 1107Q530 1288 531 1558Z" fill="#70b593"/>
<path d="M536 1558Q573 1436 621 1354Q580 1436 546 1558Z" fill="#a6e3c6"/>
<path d="M388 1558Q382 1349 376 1209Q386 1349 394 1558Z" fill="#70b593"/>
<path d="M1135 1558Q1085 1341 1027 1197Q1090 1341 1144 1558Z" fill="#6cb190"/>
<path d="M2191 1558Q2181 1333 2147 1183Q2193 1333 2209 1558Z" fill="#87c7a6"/>
<path d="M868 1559Q876 1464 902 1401Q883 1464 879 1559Z" fill="#a9e6c9"/>
<path d="M614 1559Q607 1410 582 1311Q611 1410 620 1559Z" fill="#80c5a3"/>
<path d="M438 1559Q448 1459 462 1392Q453 1459 445 1559Z" fill="#76bb99"/>
<path d="M2224 1559Q2232 1358 2263 1223Q2240 1358 2237 1559Z" fill="#a3e0c2"/>
<path d="M1326 1560Q1345 1325 1365 1169Q1357 1325 1344 1560Z" fill="#a6e3c6"/>
<path d="M587 1560Q585 1453 576 1381Q590 1453 594 1560Z" fill="#92d1b0"/>
<path d="M631 1560Q623 1465 599 1401Q627 1465 637 1560Z" fill="#a6e3c6"/>
<path d="M1508 1560Q1493 1328 1468 1174Q1501 1328 1520 1560Z" fill="#a9e6c9"/>
<path d="M650 1560Q653 1456 657 1387Q664 1456 667 1560Z" fill="#87c7a6"/>
<path d="M2354 1560Q2378 1391 2406 1279Q2385 1391 2365 1560Z" fill="#70b593"/>
<path d="M1284 1560Q1307 1410 1369 1310Q1319 1410 1302 1560Z" fill="#6cb190"/>
<path d="M2349 1560Q2346 1423 2324 1332Q2352 1423 2359 1560Z" fill="#6cb190"/>
<path d="M688 1560Q669 1359 615 1226Q676 1359 698 1560Z" fill="#80c5a3"/>
<path d="M476 1561Q464 1311 354 1145Q468 1311 482 1561Z" fill="#70b593"/>
<path d="M425 1561Q432 1382 482 1263Q437 1382 433 1561Z" fill="#a9e6c9"/>
<path d="M374 1561Q406 1459 436 1392Q412 1459 382 1561Z" fill="#80c5a3"/>
<path d="M1202 1561Q1216 1354 1233 1217Q1227 1354 1218 1561Z" fill="#8ccbaa"/>
<path d="M470 1561Q455 1404 427 1299Q463 1404 482 1561Z" fill="#6cb190"/>
<path d="M669 1561Q684 1336 715 1186Q696 1336 687 1561Z" fill="#a6e3c6"/>
<path d="M1107 1561Q1092 1347 971 1205Q1098 1347 1117 1561Z" fill="#70b593"/>
<path d="M2504 1561Q2515 1388 2531 1273Q2523 1388 2516 1561Z" fill="#6cb190"/>
<path d="M1193 1561Q1182 1341 1173 1195Q1188 1341 1203 1561Z" fill="#7cc1a0"/>
<path d="M834 1561Q834 1467 831 1404Q839 1467 841 1561Z" fill="#8ccbaa"/>
<path d="M2426 1561Q2513 1337 2576 1188Q2517 1337 2433 1561Z" fill="#6cb190"/>
<path d="M406 1561Q417 1445 437 1367Q424 1445 416 1561Z" fill="#80c5a3"/>
<path d="M1285 1561Q1240 1348 1175 1206Q1249 1348 1298 1561Z" fill="#a3e0c2"/>
<path d="M2242 1561Q2253 1334 2281 1183Q2260 1334 2254 1561Z" fill="#76bb99"/>
<path d="M1576 1561Q1569 1455 1531 1384Q1574 1455 1584 1561Z" fill="#8ccbaa"/>
<path d="M1766 1562Q1813 1339 1847 1190Q1819 1339 1776 1562Z" fill="#9edcbe"/>
<path d="M1166 1562Q1169 1387 1175 1270Q1176 1387 1176 1562Z" fill="#70b593"/>
<path d="M1525 1562Q1550 1445 1587 1367Q1554 1445 1531 1562Z" fill="#6cb190"/>
<path d="M1889 1562Q1921 1368 1950 1238Q1927 1368 1898 1562Z" fill="#a6e3c6"/>
<path d="M800 1562Q775 1468 742 1405Q781 1468 809 1562Z" fill="#8ccbaa"/>
<path d="M1391 1562Q1396 1372 1407 1246Q1402 1372 1399 1562Z" fill="#9edcbe"/>
<path d="M1968 1562Q1979 1341 2065 1194Q1984 1341 1975 1562Z" fill="#70b593"/>
<path d="M1864 1562Q1859 1367 1846 1237Q1870 1367 1880 1562Z" fill="#9edcbe"/>
<path d="M306 1562Q327 1380 366 1259Q336 1380 319 1562Z" fill="#8ccbaa"/>
<path d="M2451 1562Q2447 1431 2435 1343Q2457 1431 2466 1562Z" fill="#7cc1a0"/>
<path d="M1405 1563Q1448 1422 1494 1329Q1456 1422 1416 1563Z" fill="#92d1b0"/>
<path d="M346 1563Q355 1327 373 1170Q364 1327 360 1563Z" fill="#76bb99"/>
<path d="M660 1563Q660 1349 647 1206Q671 1349 676 1563Z" fill="#a3e0c2"/>
<path d="M2394 1563Q2405 1323 2486 1162Q2410 1323 2401 1563Z" fill="#80c5a3"/>
<path d="M649 1563Q708 1396 759 1284Q718 1396 665 1563Z" fill="#9edcbe"/>
<path d="M2040 1563Q2063 1343 2081 1196Q2072 1343 2054 1563Z" fill="#70b593"/>
<path d="M1245 1563Q1246 1370 1247 1241Q1253 1370 1256 1563Z" fill="#6cb190"/>
<path d="M1518 1563Q1478 1385 1432 1267Q1482 1385 1523 1563Z" fill="#87c7a6"/>
<path d="M1507 1563Q1541 1462 1588 1394Q1548 1462 1518 1563Z" fill="#6cb190"/>
<path d="M1940 1563Q1921 1345 1899 1199Q1927 1345 1948 1563Z" fill="#9edcbe"/>
<path d="M1107 1563Q1143 1350 1218 1207Q1150 1350 1117 1563Z" fill="#76bb99"/>
<path d="M1694 1563Q1694 1388 1685 1272Q1703 1388 1708 1563Z" fill="#87c7a6"/>
<path d="M1027 1564Q1071 1463 1110 1396Q1078 1463 1038 1564Z" fill="#8ccbaa"/>
<path d="M1954 1564Q1954 1412 1943 1311Q1962 1412 1966 1564Z" fill="#b0ebcf"/>
<path d="M1229 1564Q1283 1383 1365 1263Q1290 1383 1241 1564Z" fill="#7cc1a0"/>
<path d="M2036 1564Q2049 1367 2141 1236Q2060 1367 2052 1564Z" fill="#9edcbe"/>
<path d="M1354 1564Q1352 1411 1336 1310Q1362 1411 1369 1564Z" fill="#70b593"/>
<path d="M2464 1564Q2429 1392 2399 1277Q2440 1392 2480 1564Z" fill="#92d1b0"/>
<path d="M654 1564Q724 1372 801 1245Q736 1372 672 1564Z" fill="#87c7a6"/>
<path d="M1368 1564Q1396 1378 1425 1253Q1405 1378 1382 1564Z" fill="#a6e3c6"/>
<path d="M1240 1565Q1255 1364 1269 1230Q1262 1364 1251 1565Z" fill="#80c5a3"/>
<path d="M805 1565Q807 1352 810 1210Q817 1352 820 1565Z" fill="#a6e3c6"/>
<path d="M1592 1565Q1572 1338 1541 1186Q1579 1338 1603 1565Z" fill="#b0ebcf"/>
<path d="M899 1565Q865 1421 842 1326Q870 1421 907 1565Z" fill="#80c5a3"/>
<path d="M1812 1565Q1804 1463 1774 1394Q1813 1463 1824 1565Z" fill="#70b593"/>
<path d="M645 1565Q661 1370 721 1239Q666 1370 652 1565Z" fill="#70b593"/>
<path d="M878 1565Q967 1342 1062 1193Q977 1342 892 1565Z" fill="#80c5a3"/>
<path d="M1559 1565Q1567 1425 1578 1332Q1575 1425 1571 1565Z" fill="#92d1b0"/>
<path d="M780 1566Q730 1355 636 1214Q734 1355 785 1566Z" fill="#a6e3c6"/>
<path d="M2102 1566Q2070 1358 2023 1220Q2077 1358 2111 1566Z" fill="#b0ebcf"/>
<path d="M589 1566Q625 1379 700 1255Q628 1379 595 1566Z" fill="#80c5a3"/>
<path d="M2299 1566Q2279 1465 2261 1398Q2290 1465 2316 1566Z" fill="#a6e3c6"/>
<path d="M496 1566Q488 1400 478 1290Q494 1400 504 1566Z" fill="#8ccbaa"/>
<path d="M1078 1566Q1082 1307 1090 1134Q1088 1307 1087 1566Z" fill="#80c5a3"/>
<path d="M2173 1566Q2178 1323 2197 1160Q2183 1323 2180 1566Z" fill="#7cc1a0"/>
<path d="M284 1566Q320 1379 405 1255Q332 1379 302 1566Z" fill="#6cb190"/>
<path d="M1331 1566Q1222 1349 1130 1204Q1226 1349 1336 1566Z" fill="#70b593"/>
<path d="M2150 1566Q2192 1343 2235 1194Q2200 1343 2161 1566Z" fill="#70b593"/>
<path d="M313 1566Q330 1356 355 1216Q337 1356 324 1566Z" fill="#92d1b0"/>
<path d="M1527 1566Q1540 1340 1558 1189Q1551 1340 1544 1566Z" fill="#80c5a3"/>
<path d="M414 1566Q407 1361 394 1224Q416 1361 428 1566Z" fill="#b0ebcf"/>
<path d="M1772 1566Q1776 1438 1799 1352Q1780 1438 1778 1566Z" fill="#76bb99"/>
<path d="M1313 1567Q1318 1439 1340 1354Q1322 1439 1320 1567Z" fill="#7cc1a0"/>
<path d="M634 1567Q582 1372 536 1242Q589 1372 645 1567Z" fill="#80c5a3"/>
<path d="M2472 1567Q2473 1364 2472 1229Q2481 1364 2484 1567Z" fill="#80c5a3"/>
<path d="M646 1567Q642 1437 638 1350Q654 1437 663 1567Z" fill="#76bb99"/>
<path d="M954 1567Q938 1373 922 1243Q943 1373 961 1567Z" fill="#7cc1a0"/>
<path d="M979 1567Q974 1335 946 1181Q979 1335 986 1567Z" fill="#6cb190"/>
<path d="M1285 1567Q1317 1365 1353 1231Q1328 1365 1302 1567Z" fill="#87c7a6"/>
<path d="M2266 1413Q2307 1329 2379 1273Q2310 1329 2271 1413Z" fill="#87c7a6"/>
<path d="M1309 1492Q1367 1379 1489 1303Q1374 1379 1320 1492Z" fill="#80c5a3"/>
<path d="M1840 1498Q1883 1382 1960 1305Q1888 1382 1849 1498Z" fill="#a3e0c2"/>
<path d="M1474 1494Q1452 1424 1374 1378Q1459 1424 1485 1494Z" fill="#8ccbaa"/>
<path d="M1576 1516Q1528 1383 1444 1295Q1536 1383 1588 1516Z" fill="#8ccbaa"/>
<path d="M1141 1452Q1097 1324 1003 1238Q1101 1324 1148 1452Z" fill="#6cb190"/>
<path d="M270 1538Q216 1402 156 1312Q222 1402 278 1538Z" fill="#8ccbaa"/>
<path d="M1764 1536Q1726 1480 1687 1442Q1730 1480 1770 1536Z" fill="#a9e6c9"/>
<path d="M475 1540Q456 1453 405 1395Q464 1453 487 1540Z" fill="#87c7a6"/>
<path d="M1635 1531Q1604 1440 1492 1379Q1610 1440 1643 1531Z" fill="#87c7a6"/>
<path d="M2185 1504Q2137 1398 2051 1327Q2143 1398 2194 1504Z" fill="#7cc1a0"/>
<path d="M736 1405Q714 1335 672 1289Q720 1335 745 1405Z" fill="#70b593"/>
<path d="M2259 1510Q2303 1419 2426 1359Q2310 1419 2270 1510Z" fill="#a3e0c2"/>
<path d="M791 1440Q813 1331 890 1259Q819 1331 800 1440Z" fill="#76bb99"/>
<path d="M819 1543Q752 1455 676 1396Q757 1455 827 1543Z" fill="#a9e6c9"/>
<path d="M2563 1501Q2522 1370 2389 1283Q2526 1370 2569 1501Z" fill="#9edcbe"/>
<path d="M983 1446Q1009 1358 1094 1299Q1014 1358 991 1446Z" fill="#a9e6c9"/>
<path d="M2540 1536Q2564 1470 2618 1426Q2569 1470 2547 1536Z" fill="#a9e6c9"/>
<path d="M771 1492Q729 1351 565 1257Q736 1351 782 1492Z" fill="#a3e0c2"/>
<path d="M452 1454Q498 1332 571 1251Q504 1332 462 1454Z" fill="#87c7a6"/>
<path d="M2279 1430Q2307 1356 2362 1306Q2314 1356 2289 1430Z" fill="#80c5a3"/>
<path d="M784 1525Q750 1425 638 1359Q756 1425 792 1525Z" fill="#80c5a3"/>
<path d="M620 1469Q693 1371 789 1305Q697 1371 626 1469Z" fill="#6cb190"/>
<path d="M1141 1500Q1170 1441 1241 1401Q1177 1441 1152 1500Z" fill="#76bb99"/>
<path d="M1819 1468Q1790 1356 1711 1281Q1794 1356 1826 1468Z" fill="#a6e3c6"/>
<path d="M1800 1554Q1751 1465 1664 1406Q1758 1465 1811 1554Z" fill="#9edcbe"/>
<path d="M2137 1417Q2166 1328 2225 1268Q2171 1328 2145 1417Z" fill="#a9e6c9"/>
<path d="M706 1414Q652 1317 537 1253Q656 1317 712 1414Z" fill="#a6e3c6"/>
<path d="M1586 1547Q1652 1405 1726 1311Q1658 1405 1596 1547Z" fill="#76bb99"/>
<path d="M799 1537Q826 1477 907 1438Q830 1477 806 1537Z" fill="#76bb99"/>
<path d="M1901 1456Q1831 1335 1708 1254Q1837 1335 1911 1456Z" fill="#7cc1a0"/>
<path d="M769 1462Q827 1328 1011 1238Q835 1328 781 1462Z" fill="#a6e3c6"/>
<path d="M1021 1495Q1000 1431 948 1389Q1004 1431 1027 1495Z" fill="#a6e3c6"/>
<path d="M1267 1526Q1289 1467 1364 1428Q1294 1467 1274 1526Z" fill="#87c7a6"/>
<path d="M1782 1498Q1814 1422 1877 1372Q1822 1422 1794 1498Z" fill="#6cb190"/>
<path d="M1112 1471Q1170 1343 1306 1258Q1175 1343 1120 1471Z" fill="#7cc1a0"/>
<path d="M803 1555Q745 1420 645 1330Q751 1420 811 1555Z" fill="#87c7a6"/>
<path d="M275 1459Q229 1345 117 1269Q234 1345 283 1459Z" fill="#70b593"/>
<path d="M2154 1474Q2187 1388 2260 1331Q2192 1388 2161 1474Z" fill="#a3e0c2"/>
<path d="M480 1409Q507 1342 555 1298Q510 1342 486 1409Z" fill="#8ccbaa"/>
<path d="M1691 1504Q1720 1384 1832 1304Q1725 1384 1699 1504Z" fill="#6cb190"/>
<path d="M1052 1543Q1124 1417 1273 1333Q1129 1417 1060 1543Z" fill="#80c5a3"/>
<path d="M679 1493Q735 1393 821 1326Q739 1393 685 1493Z" fill="#92d1b0"/>
<path d="M1696 1494Q1723 1416 1816 1364Q1728 1416 1704 1494Z" fill="#92d1b0"/>
<path d="M1302 1552Q1277 1477 1180 1427Q1284 1477 1312 1552Z" fill="#b0ebcf"/>
<path d="M915 1482Q852 1352 725 1266Q860 1352 926 1482Z" fill="#76bb99"/>
<path d="M789 1422Q837 1330 887 1268Q842 1330 798 1422Z" fill="#a9e6c9"/>
<path d="M482 1569Q510 1498 547 1451Q514 1498 488 1569Z" fill="#a6e3c6"/>
<path d="M883 1572Q855 1481 746 1420Q863 1481 894 1572Z" fill="#b0ebcf"/>
<path d="M994 1551Q968 1453 913 1388Q971 1453 999 1551Z" fill="#b0ebcf"/>
</g>
<g fill="#a6a6a6"><rect x="312" y="450" width="3" height="1108.5"/><rect x="2478.5" y="450" width="3" height="1108.5"/><rect x="312" y="1555.5" width="2169.5" height="3"/></g>
<polyline points="363.0,714.0 463.8,728.8 564.6,775.5 665.4,827.3 766.2,761.0 867.0,734.4 967.8,708.2 1068.6,709.8 1169.4,762.8 1270.2,696.0 1371.0,695.3 1471.8,675.1 1572.6,717.5 1673.4,689.6 1774.2,677.4 1875.0,688.5 1975.8,708.6 2076.6,570.6 2177.4,572.0 2278.2,567.1 2379.0,529.8 2479.8,526.1" fill="none" stroke="#1a7729" stroke-width="9" stroke-linejoin="round" stroke-linecap="round"/>
<rect x="1122" y="314.5" width="103.5" height="35" fill="#7dbd8b"/>
<line x1="1426" y1="332.3" x2="1529" y2="332.3" stroke="#1a7729" stroke-width="9.6" stroke-linecap="round"/>
<text class="t" x="1247.0" y="351.0" font-size="64.5" textLength="134.0" lengthAdjust="spacing">Area</text>
<text class="t" x="1549.5" y="351.0" font-size="64.5" textLength="144.0" lengthAdjust="spacing">Yield</text>
<text class="t" x="249.0" y="1577.8" font-size="64.5" text-anchor="end">0</text>
<text class="t" x="249.0" y="1454.8" font-size="64.5" text-anchor="end">10</text>
<text class="t" x="249.0" y="1331.8" font-size="64.5" text-anchor="end">20</text>
<text class="t" x="249.0" y="1208.8" font-size="64.5" text-anchor="end">30</text>
<text class="t" x="249.0" y="1085.8" font-size="64.5" text-anchor="end">40</text>
<text class="t" x="249.0" y="962.8" font-size="64.5" text-anchor="end">50</text>
<text class="t" x="249.0" y="839.8" font-size="64.5" text-anchor="end">60</text>
<text class="t" x="249.0" y="716.8" font-size="64.5" text-anchor="end">70</text>
<text class="t" x="249.0" y="593.8" font-size="64.5" text-anchor="end">80</text>
<text class="t" x="249.0" y="470.8" font-size="64.5" text-anchor="end">90</text>
<text class="t" x="2569.0" y="1577.8" font-size="64.5" text-anchor="middle">0</text>
<text class="t" x="2569.0" y="1393.3" font-size="64.5" text-anchor="middle">1</text>
<text class="t" x="2569.0" y="1208.8" font-size="64.5" text-anchor="middle">2</text>
<text class="t" x="2569.0" y="1024.3" font-size="64.5" text-anchor="middle">3</text>
<text class="t" x="2569.0" y="839.8" font-size="64.5" text-anchor="middle">4</text>
<text class="t" x="2569.0" y="655.3" font-size="64.5" text-anchor="middle">5</text>
<text class="t" x="2569.0" y="470.8" font-size="64.5" text-anchor="middle">6</text>
<text class="t" x="242.3" y="1661.0" font-size="64.5" textLength="246.9" lengthAdjust="spacing">2000<tspan dy="-4" dx="3">–</tspan><tspan dy="4" dx="3">01</tspan></text>
<text class="t" x="539.8" y="1661.0" font-size="64.5" textLength="256.5" lengthAdjust="spacing">2003<tspan dy="-4" dx="3">–</tspan><tspan dy="4" dx="3">04</tspan></text>
<text class="t" x="843.0" y="1661.0" font-size="64.5" textLength="254.0" lengthAdjust="spacing">2006<tspan dy="-4" dx="3">–</tspan><tspan dy="4" dx="3">07</tspan></text>
<text class="t" x="1149.0" y="1661.0" font-size="64.5" textLength="244.0" lengthAdjust="spacing">2009<tspan dy="-4" dx="3">–</tspan><tspan dy="4" dx="3">10</tspan></text>
<text class="t" x="1462.0" y="1661.0" font-size="64.5" textLength="224.0" lengthAdjust="spacing">2012<tspan dy="-4" dx="3">–</tspan><tspan dy="4" dx="3">13</tspan></text>
<text class="t" x="1764.0" y="1661.0" font-size="64.5" textLength="225.5" lengthAdjust="spacing">2015<tspan dy="-4" dx="3">–</tspan><tspan dy="4" dx="3">16</tspan></text>
<text class="t" x="2055.5" y="1661.0" font-size="64.5" textLength="229.5" lengthAdjust="spacing">2018<tspan dy="-4" dx="3">–</tspan><tspan dy="4" dx="3">19</tspan></text>
<text class="t" x="2348.0" y="1661.0" font-size="64.5" textLength="233.7" lengthAdjust="spacing">2021<tspan dy="-4" dx="3">–</tspan><tspan dy="4" dx="3">22</tspan></text>
<text class="t" font-size="64.5" transform="translate(121,1411) rotate(-90)" textLength="765" lengthAdjust="spacing">Yield (metric tons/hectare)</text>
<text class="t" font-size="64.5" transform="translate(2681,1370.5) rotate(-90)" textLength="745" lengthAdjust="spacing">Acreage (million hectares)</text>
<text x="84" y="140" font-size="81" font-weight="700" textLength="691" lengthAdjust="spacing">India's Sugarcane</text>
<text class="f" x="78.5" y="1783.0" font-size="46" textLength="597.0" lengthAdjust="spacing">Data compiled July 10, 2023.</text>
<text class="f" x="79.0" y="1838.0" font-size="46" textLength="656.0" lengthAdjust="spacing">Source: Ministry of Agriculture.</text>
<text class="f" x="80.5" y="1893.0" font-size="46" textLength="410.0" lengthAdjust="spacing"><tspan stroke-width="0.3">©</tspan> 2023 S&amp;P Global.</text>
</svg></body></html>
